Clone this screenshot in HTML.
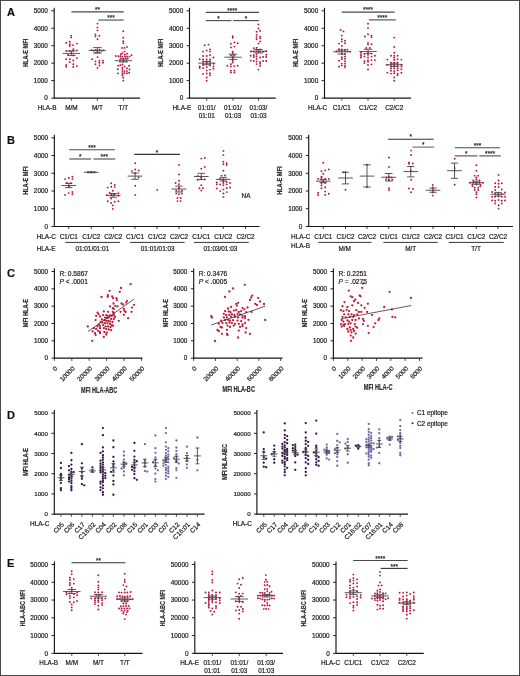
<!DOCTYPE html>
<html><head><meta charset="utf-8"><style>
html,body{margin:0;padding:0;background:#fff;}
svg{display:block;font-family:"Liberation Sans", sans-serif;filter:blur(0.25px);}
text{stroke:#1a1a1a;stroke-width:0.2px;}
</style></head><body>
<svg width="520" height="676" viewBox="0 0 520 676" xmlns="http://www.w3.org/2000/svg">
<rect x="0.5" y="0.5" width="519" height="675" fill="none" stroke="#4a4a4a" stroke-width="1"/>
<text x="6.9" y="15.9" font-size="11" font-weight="bold" fill="#111" stroke="#111" stroke-width="0.2">A</text>
<text x="6.9" y="143.5" font-size="11" font-weight="bold" fill="#111" stroke="#111" stroke-width="0.2">B</text>
<text x="6.9" y="277.2" font-size="11" font-weight="bold" fill="#111" stroke="#111" stroke-width="0.2">C</text>
<text x="6.9" y="418.9" font-size="11" font-weight="bold" fill="#111" stroke="#111" stroke-width="0.2">D</text>
<text x="6.9" y="566.5" font-size="11" font-weight="bold" fill="#111" stroke="#111" stroke-width="0.2">E</text>
<line x1="54.2" y1="7.8" x2="54.2" y2="98.6" stroke="#161616" stroke-width="1.15"/>
<line x1="53.7" y1="98.1" x2="140" y2="98.1" stroke="#161616" stroke-width="1.15"/>
<line x1="51.3" y1="98.1" x2="54.2" y2="98.1" stroke="#222" stroke-width="1.0"/>
<text x="47.9" y="100.4" font-size="6.4" text-anchor="end" fill="#1a1a1a">0</text>
<line x1="51.3" y1="80.64" x2="54.2" y2="80.64" stroke="#222" stroke-width="1.0"/>
<text x="47.9" y="82.94" font-size="6.4" text-anchor="end" fill="#1a1a1a">1000</text>
<line x1="51.3" y1="63.18" x2="54.2" y2="63.18" stroke="#222" stroke-width="1.0"/>
<text x="47.9" y="65.48" font-size="6.4" text-anchor="end" fill="#1a1a1a">2000</text>
<line x1="51.3" y1="45.72" x2="54.2" y2="45.72" stroke="#222" stroke-width="1.0"/>
<text x="47.9" y="48.02" font-size="6.4" text-anchor="end" fill="#1a1a1a">3000</text>
<line x1="51.3" y1="28.26" x2="54.2" y2="28.26" stroke="#222" stroke-width="1.0"/>
<text x="47.9" y="30.56" font-size="6.4" text-anchor="end" fill="#1a1a1a">4000</text>
<line x1="51.3" y1="10.8" x2="54.2" y2="10.8" stroke="#222" stroke-width="1.0"/>
<text x="47.9" y="13.1" font-size="6.4" text-anchor="end" fill="#1a1a1a">5000</text>
<line x1="71.4" y1="98.1" x2="71.4" y2="100.6" stroke="#2b2b2b" stroke-width="0.9"/>
<circle cx="71.2" cy="35.6" r="0.95" fill="#b8163c"/>
<circle cx="71.2" cy="37.4" r="0.95" fill="#b8163c"/>
<circle cx="66.2" cy="42.7" r="0.95" fill="#b8163c"/>
<circle cx="69.8" cy="41.8" r="0.95" fill="#b8163c"/>
<circle cx="69.8" cy="44.2" r="0.95" fill="#b8163c"/>
<circle cx="69.8" cy="46" r="0.95" fill="#b8163c"/>
<circle cx="73" cy="45.1" r="0.95" fill="#b8163c"/>
<circle cx="76.9" cy="43.6" r="0.95" fill="#b8163c"/>
<circle cx="73.3" cy="49.2" r="0.95" fill="#b8163c"/>
<circle cx="66.2" cy="51" r="0.95" fill="#b8163c"/>
<circle cx="69.8" cy="51" r="0.95" fill="#b8163c"/>
<circle cx="73.3" cy="50.7" r="0.95" fill="#b8163c"/>
<circle cx="76.9" cy="50.4" r="0.95" fill="#b8163c"/>
<circle cx="71.5" cy="53.2" r="0.95" fill="#b8163c"/>
<circle cx="73.3" cy="55.4" r="0.95" fill="#b8163c"/>
<circle cx="68" cy="54.9" r="0.95" fill="#b8163c"/>
<circle cx="76.9" cy="58.1" r="0.95" fill="#b8163c"/>
<circle cx="66.2" cy="59.3" r="0.95" fill="#b8163c"/>
<circle cx="69.8" cy="59.3" r="0.95" fill="#b8163c"/>
<circle cx="69.8" cy="62.2" r="0.95" fill="#b8163c"/>
<circle cx="73.3" cy="60.5" r="0.95" fill="#b8163c"/>
<circle cx="66.2" cy="64.9" r="0.95" fill="#b8163c"/>
<circle cx="66.2" cy="66.7" r="0.95" fill="#b8163c"/>
<circle cx="73.3" cy="64.3" r="0.95" fill="#b8163c"/>
<circle cx="73.3" cy="67" r="0.95" fill="#b8163c"/>
<circle cx="76.9" cy="66.1" r="0.95" fill="#b8163c"/>
<line x1="62.7" y1="53.4" x2="80.1" y2="53.4" stroke="#4a4a4a" stroke-width="0.9"/>
<line x1="71.4" y1="51" x2="71.4" y2="55.4" stroke="#4a4a4a" stroke-width="0.9"/>
<line x1="67.1" y1="51" x2="75.7" y2="51" stroke="#4a4a4a" stroke-width="0.9"/>
<line x1="67.1" y1="55.4" x2="75.7" y2="55.4" stroke="#4a4a4a" stroke-width="0.9"/>
<line x1="97.4" y1="98.1" x2="97.4" y2="100.6" stroke="#2b2b2b" stroke-width="0.9"/>
<circle cx="97.5" cy="23.6" r="0.95" fill="#b8163c"/>
<circle cx="97.5" cy="27.6" r="0.95" fill="#b8163c"/>
<circle cx="97.5" cy="30.4" r="0.95" fill="#b8163c"/>
<circle cx="95.4" cy="34.5" r="0.95" fill="#b8163c"/>
<circle cx="95.4" cy="36.4" r="0.95" fill="#b8163c"/>
<circle cx="99.4" cy="35.8" r="0.95" fill="#b8163c"/>
<circle cx="97.5" cy="39.2" r="0.95" fill="#b8163c"/>
<circle cx="91.8" cy="50.2" r="0.95" fill="#b8163c"/>
<circle cx="93.8" cy="50.8" r="0.95" fill="#b8163c"/>
<circle cx="95.8" cy="50" r="0.95" fill="#b8163c"/>
<circle cx="99.4" cy="49.7" r="0.95" fill="#b8163c"/>
<circle cx="101.4" cy="50.8" r="0.95" fill="#b8163c"/>
<circle cx="103.4" cy="50.4" r="0.95" fill="#b8163c"/>
<circle cx="97.4" cy="52" r="0.95" fill="#b8163c"/>
<circle cx="99.4" cy="52.4" r="0.95" fill="#b8163c"/>
<circle cx="95.8" cy="52.6" r="0.95" fill="#b8163c"/>
<circle cx="97.5" cy="57.1" r="0.95" fill="#b8163c"/>
<circle cx="92.2" cy="59.3" r="0.95" fill="#b8163c"/>
<circle cx="95.5" cy="61.4" r="0.95" fill="#b8163c"/>
<circle cx="99.4" cy="60.7" r="0.95" fill="#b8163c"/>
<circle cx="103" cy="60.7" r="0.95" fill="#b8163c"/>
<circle cx="99.4" cy="62.7" r="0.95" fill="#b8163c"/>
<circle cx="103" cy="62.7" r="0.95" fill="#b8163c"/>
<circle cx="95.5" cy="64.3" r="0.95" fill="#b8163c"/>
<circle cx="99.4" cy="65.5" r="0.95" fill="#b8163c"/>
<circle cx="97.5" cy="67.9" r="0.95" fill="#b8163c"/>
<line x1="88.7" y1="50.35" x2="106.1" y2="50.35" stroke="#4a4a4a" stroke-width="0.9"/>
<line x1="97.4" y1="47.6" x2="97.4" y2="53.1" stroke="#4a4a4a" stroke-width="0.9"/>
<line x1="93.1" y1="47.6" x2="101.7" y2="47.6" stroke="#4a4a4a" stroke-width="0.9"/>
<line x1="93.1" y1="53.1" x2="101.7" y2="53.1" stroke="#4a4a4a" stroke-width="0.9"/>
<line x1="123.4" y1="98.1" x2="123.4" y2="100.6" stroke="#2b2b2b" stroke-width="0.9"/>
<circle cx="123.3" cy="31.3" r="0.95" fill="#b8163c"/>
<circle cx="123.3" cy="37.8" r="0.95" fill="#b8163c"/>
<circle cx="123.3" cy="41.3" r="0.95" fill="#b8163c"/>
<circle cx="123.3" cy="43.3" r="0.95" fill="#b8163c"/>
<circle cx="122" cy="47.9" r="0.95" fill="#b8163c"/>
<circle cx="124.5" cy="47.9" r="0.95" fill="#b8163c"/>
<circle cx="127" cy="46.9" r="0.95" fill="#b8163c"/>
<circle cx="124.5" cy="51.6" r="0.95" fill="#b8163c"/>
<circle cx="120.8" cy="54.3" r="0.95" fill="#b8163c"/>
<circle cx="122.4" cy="53.3" r="0.95" fill="#b8163c"/>
<circle cx="124.9" cy="54.7" r="0.95" fill="#b8163c"/>
<circle cx="127" cy="53.7" r="0.95" fill="#b8163c"/>
<circle cx="115.8" cy="56" r="0.95" fill="#b8163c"/>
<circle cx="118.3" cy="56.2" r="0.95" fill="#b8163c"/>
<circle cx="120.4" cy="56.2" r="0.95" fill="#b8163c"/>
<circle cx="122.4" cy="56.6" r="0.95" fill="#b8163c"/>
<circle cx="124.9" cy="56.6" r="0.95" fill="#b8163c"/>
<circle cx="127" cy="56.6" r="0.95" fill="#b8163c"/>
<circle cx="129.5" cy="56.6" r="0.95" fill="#b8163c"/>
<circle cx="131.5" cy="55.3" r="0.95" fill="#b8163c"/>
<circle cx="120.8" cy="58.4" r="0.95" fill="#b8163c"/>
<circle cx="123.3" cy="58.7" r="0.95" fill="#b8163c"/>
<circle cx="125.7" cy="58.4" r="0.95" fill="#b8163c"/>
<circle cx="127.8" cy="58.4" r="0.95" fill="#b8163c"/>
<circle cx="120" cy="61.1" r="0.95" fill="#b8163c"/>
<circle cx="123.3" cy="61.4" r="0.95" fill="#b8163c"/>
<circle cx="126.5" cy="61.1" r="0.95" fill="#b8163c"/>
<circle cx="118.3" cy="65.7" r="0.95" fill="#b8163c"/>
<circle cx="120.4" cy="65.3" r="0.95" fill="#b8163c"/>
<circle cx="122.4" cy="64.5" r="0.95" fill="#b8163c"/>
<circle cx="124.5" cy="66.5" r="0.95" fill="#b8163c"/>
<circle cx="129.1" cy="65.7" r="0.95" fill="#b8163c"/>
<circle cx="117.9" cy="69.3" r="0.95" fill="#b8163c"/>
<circle cx="122.4" cy="67.8" r="0.95" fill="#b8163c"/>
<circle cx="122.4" cy="69.8" r="0.95" fill="#b8163c"/>
<circle cx="127" cy="68.2" r="0.95" fill="#b8163c"/>
<circle cx="129.5" cy="69.4" r="0.95" fill="#b8163c"/>
<circle cx="124.5" cy="71.1" r="0.95" fill="#b8163c"/>
<circle cx="127" cy="71.1" r="0.95" fill="#b8163c"/>
<circle cx="117.9" cy="73.4" r="0.95" fill="#b8163c"/>
<circle cx="122.4" cy="71.9" r="0.95" fill="#b8163c"/>
<circle cx="122.4" cy="74" r="0.95" fill="#b8163c"/>
<circle cx="124.5" cy="73.2" r="0.95" fill="#b8163c"/>
<circle cx="127" cy="73.2" r="0.95" fill="#b8163c"/>
<circle cx="129.1" cy="72.7" r="0.95" fill="#b8163c"/>
<circle cx="122.4" cy="75.6" r="0.95" fill="#b8163c"/>
<circle cx="123.3" cy="77.7" r="0.95" fill="#b8163c"/>
<circle cx="123.3" cy="80.6" r="0.95" fill="#b8163c"/>
<line x1="114.7" y1="60.7" x2="132.1" y2="60.7" stroke="#4a4a4a" stroke-width="0.9"/>
<line x1="123.4" y1="59.1" x2="123.4" y2="62" stroke="#4a4a4a" stroke-width="0.9"/>
<line x1="119.1" y1="59.1" x2="127.7" y2="59.1" stroke="#4a4a4a" stroke-width="0.9"/>
<line x1="119.1" y1="62" x2="127.7" y2="62" stroke="#4a4a4a" stroke-width="0.9"/>
<text x="47.1" y="110.4" font-size="6.4" text-anchor="middle" fill="#1a1a1a">HLA-B</text>
<text x="71.4" y="110.4" font-size="6.4" text-anchor="middle" fill="#1a1a1a">M/M</text>
<text x="97.4" y="110.4" font-size="6.4" text-anchor="middle" fill="#1a1a1a">M/T</text>
<text x="123.4" y="110.4" font-size="6.4" text-anchor="middle" fill="#1a1a1a">T/T</text>
<text transform="translate(27.74 52.9) rotate(-90)" x="0" y="0" font-size="7.6" text-anchor="middle" fill="#333" stroke="none" font-weight="bold" textLength="28.3" lengthAdjust="spacingAndGlyphs">HLA-E MFI</text>
<line x1="71.4" y1="11.9" x2="123.7" y2="11.9" stroke="#4a4a4a" stroke-width="1.1"/>
<text x="97.55" y="12.01" font-size="6.4" text-anchor="middle" fill="#2a2a2a">**</text>
<line x1="98.25" y1="20.05" x2="123.7" y2="20.05" stroke="#4a4a4a" stroke-width="1.1"/>
<text x="110.97" y="20.16" font-size="6.4" text-anchor="middle" fill="#2a2a2a">***</text>
<line x1="189.5" y1="7.8" x2="189.5" y2="98.6" stroke="#161616" stroke-width="1.15"/>
<line x1="189" y1="98.1" x2="275.75" y2="98.1" stroke="#161616" stroke-width="1.15"/>
<line x1="186.6" y1="98.1" x2="189.5" y2="98.1" stroke="#222" stroke-width="1.0"/>
<text x="183.2" y="100.4" font-size="6.4" text-anchor="end" fill="#1a1a1a">0</text>
<line x1="186.6" y1="80.64" x2="189.5" y2="80.64" stroke="#222" stroke-width="1.0"/>
<text x="183.2" y="82.94" font-size="6.4" text-anchor="end" fill="#1a1a1a">1000</text>
<line x1="186.6" y1="63.18" x2="189.5" y2="63.18" stroke="#222" stroke-width="1.0"/>
<text x="183.2" y="65.48" font-size="6.4" text-anchor="end" fill="#1a1a1a">2000</text>
<line x1="186.6" y1="45.72" x2="189.5" y2="45.72" stroke="#222" stroke-width="1.0"/>
<text x="183.2" y="48.02" font-size="6.4" text-anchor="end" fill="#1a1a1a">3000</text>
<line x1="186.6" y1="28.26" x2="189.5" y2="28.26" stroke="#222" stroke-width="1.0"/>
<text x="183.2" y="30.56" font-size="6.4" text-anchor="end" fill="#1a1a1a">4000</text>
<line x1="186.6" y1="10.8" x2="189.5" y2="10.8" stroke="#222" stroke-width="1.0"/>
<text x="183.2" y="13.1" font-size="6.4" text-anchor="end" fill="#1a1a1a">5000</text>
<line x1="206.75" y1="98.1" x2="206.75" y2="100.6" stroke="#2b2b2b" stroke-width="0.9"/>
<circle cx="204.7" cy="45.2" r="0.95" fill="#b8163c"/>
<circle cx="208.5" cy="44.6" r="0.95" fill="#b8163c"/>
<circle cx="203.1" cy="51.6" r="0.95" fill="#b8163c"/>
<circle cx="206.7" cy="50.4" r="0.95" fill="#b8163c"/>
<circle cx="210" cy="49.4" r="0.95" fill="#b8163c"/>
<circle cx="210" cy="51.6" r="0.95" fill="#b8163c"/>
<circle cx="203.1" cy="56" r="0.95" fill="#b8163c"/>
<circle cx="206.7" cy="56" r="0.95" fill="#b8163c"/>
<circle cx="210" cy="55.3" r="0.95" fill="#b8163c"/>
<circle cx="213.5" cy="57.5" r="0.95" fill="#b8163c"/>
<circle cx="199.7" cy="59.2" r="0.95" fill="#b8163c"/>
<circle cx="203.1" cy="59.4" r="0.95" fill="#b8163c"/>
<circle cx="206.7" cy="59.5" r="0.95" fill="#b8163c"/>
<circle cx="210" cy="59.5" r="0.95" fill="#b8163c"/>
<circle cx="203.1" cy="61.5" r="0.95" fill="#b8163c"/>
<circle cx="206.7" cy="61.5" r="0.95" fill="#b8163c"/>
<circle cx="210" cy="61.5" r="0.95" fill="#b8163c"/>
<circle cx="203.1" cy="63.6" r="0.95" fill="#b8163c"/>
<circle cx="206.7" cy="63.8" r="0.95" fill="#b8163c"/>
<circle cx="210" cy="63.6" r="0.95" fill="#b8163c"/>
<circle cx="213.5" cy="63.8" r="0.95" fill="#b8163c"/>
<circle cx="203.1" cy="65.1" r="0.95" fill="#b8163c"/>
<circle cx="210" cy="65.4" r="0.95" fill="#b8163c"/>
<circle cx="213.5" cy="66.4" r="0.95" fill="#b8163c"/>
<circle cx="199.7" cy="66.4" r="0.95" fill="#b8163c"/>
<circle cx="199.7" cy="68" r="0.95" fill="#b8163c"/>
<circle cx="203.1" cy="68.1" r="0.95" fill="#b8163c"/>
<circle cx="206.7" cy="67" r="0.95" fill="#b8163c"/>
<circle cx="213.5" cy="68.7" r="0.95" fill="#b8163c"/>
<circle cx="210" cy="69.6" r="0.95" fill="#b8163c"/>
<circle cx="206.7" cy="70.6" r="0.95" fill="#b8163c"/>
<circle cx="210" cy="73.2" r="0.95" fill="#b8163c"/>
<circle cx="203.1" cy="73.9" r="0.95" fill="#b8163c"/>
<circle cx="206.7" cy="73.5" r="0.95" fill="#b8163c"/>
<circle cx="210" cy="75.2" r="0.95" fill="#b8163c"/>
<circle cx="206.7" cy="77.5" r="0.95" fill="#b8163c"/>
<circle cx="206.7" cy="80.7" r="0.95" fill="#b8163c"/>
<line x1="198.05" y1="63.1" x2="215.45" y2="63.1" stroke="#4a4a4a" stroke-width="0.9"/>
<line x1="206.75" y1="61.5" x2="206.75" y2="64.7" stroke="#4a4a4a" stroke-width="0.9"/>
<line x1="202.45" y1="61.5" x2="211.05" y2="61.5" stroke="#4a4a4a" stroke-width="0.9"/>
<line x1="202.45" y1="64.7" x2="211.05" y2="64.7" stroke="#4a4a4a" stroke-width="0.9"/>
<line x1="233" y1="98.1" x2="233" y2="100.6" stroke="#2b2b2b" stroke-width="0.9"/>
<circle cx="232.7" cy="36.3" r="0.95" fill="#b8163c"/>
<circle cx="232.7" cy="37.8" r="0.95" fill="#b8163c"/>
<circle cx="230.9" cy="43.7" r="0.95" fill="#b8163c"/>
<circle cx="234.4" cy="42.4" r="0.95" fill="#b8163c"/>
<circle cx="237.7" cy="43.3" r="0.95" fill="#b8163c"/>
<circle cx="230.9" cy="47.4" r="0.95" fill="#b8163c"/>
<circle cx="234.4" cy="46.6" r="0.95" fill="#b8163c"/>
<circle cx="232.7" cy="51.8" r="0.95" fill="#b8163c"/>
<circle cx="232.7" cy="53.3" r="0.95" fill="#b8163c"/>
<circle cx="230.9" cy="55.5" r="0.95" fill="#b8163c"/>
<circle cx="234.4" cy="55.5" r="0.95" fill="#b8163c"/>
<circle cx="232.7" cy="57.3" r="0.95" fill="#b8163c"/>
<circle cx="232.7" cy="59.2" r="0.95" fill="#b8163c"/>
<circle cx="232.7" cy="60.7" r="0.95" fill="#b8163c"/>
<circle cx="232.7" cy="62.5" r="0.95" fill="#b8163c"/>
<circle cx="230.9" cy="64.3" r="0.95" fill="#b8163c"/>
<circle cx="227.4" cy="65.8" r="0.95" fill="#b8163c"/>
<circle cx="230.9" cy="66.6" r="0.95" fill="#b8163c"/>
<circle cx="234.4" cy="66.3" r="0.95" fill="#b8163c"/>
<circle cx="237.7" cy="65.8" r="0.95" fill="#b8163c"/>
<circle cx="230.9" cy="70.6" r="0.95" fill="#b8163c"/>
<circle cx="230.9" cy="72.5" r="0.95" fill="#b8163c"/>
<circle cx="234.4" cy="70.6" r="0.95" fill="#b8163c"/>
<circle cx="234.4" cy="72.5" r="0.95" fill="#b8163c"/>
<line x1="224.3" y1="57.2" x2="241.7" y2="57.2" stroke="#4a4a4a" stroke-width="0.9"/>
<line x1="233" y1="54.2" x2="233" y2="59.4" stroke="#4a4a4a" stroke-width="0.9"/>
<line x1="228.7" y1="54.2" x2="237.3" y2="54.2" stroke="#4a4a4a" stroke-width="0.9"/>
<line x1="228.7" y1="59.4" x2="237.3" y2="59.4" stroke="#4a4a4a" stroke-width="0.9"/>
<line x1="258.5" y1="98.1" x2="258.5" y2="100.6" stroke="#2b2b2b" stroke-width="0.9"/>
<circle cx="258.4" cy="24.4" r="0.95" fill="#b8163c"/>
<circle cx="258.4" cy="28.5" r="0.95" fill="#b8163c"/>
<circle cx="256.6" cy="31.8" r="0.95" fill="#b8163c"/>
<circle cx="260.1" cy="30.9" r="0.95" fill="#b8163c"/>
<circle cx="256.6" cy="34.9" r="0.95" fill="#b8163c"/>
<circle cx="256.6" cy="37.1" r="0.95" fill="#b8163c"/>
<circle cx="260.1" cy="36.6" r="0.95" fill="#b8163c"/>
<circle cx="260.1" cy="38.2" r="0.95" fill="#b8163c"/>
<circle cx="256.6" cy="39.3" r="0.95" fill="#b8163c"/>
<circle cx="260.1" cy="41.5" r="0.95" fill="#b8163c"/>
<circle cx="258.4" cy="43.6" r="0.95" fill="#b8163c"/>
<circle cx="253.8" cy="48.2" r="0.95" fill="#b8163c"/>
<circle cx="256.6" cy="47.7" r="0.95" fill="#b8163c"/>
<circle cx="256.6" cy="49.5" r="0.95" fill="#b8163c"/>
<circle cx="260.1" cy="49.5" r="0.95" fill="#b8163c"/>
<circle cx="251.1" cy="51.5" r="0.95" fill="#b8163c"/>
<circle cx="253.8" cy="51.5" r="0.95" fill="#b8163c"/>
<circle cx="256.6" cy="51.5" r="0.95" fill="#b8163c"/>
<circle cx="260.1" cy="51.7" r="0.95" fill="#b8163c"/>
<circle cx="263.1" cy="51.7" r="0.95" fill="#b8163c"/>
<circle cx="266.2" cy="51.3" r="0.95" fill="#b8163c"/>
<circle cx="256.6" cy="53.9" r="0.95" fill="#b8163c"/>
<circle cx="250.7" cy="55.7" r="0.95" fill="#b8163c"/>
<circle cx="253.8" cy="55.3" r="0.95" fill="#b8163c"/>
<circle cx="253.8" cy="57" r="0.95" fill="#b8163c"/>
<circle cx="256.6" cy="56.2" r="0.95" fill="#b8163c"/>
<circle cx="260.1" cy="57.5" r="0.95" fill="#b8163c"/>
<circle cx="263.1" cy="57" r="0.95" fill="#b8163c"/>
<circle cx="266.2" cy="54.8" r="0.95" fill="#b8163c"/>
<circle cx="266.2" cy="57" r="0.95" fill="#b8163c"/>
<circle cx="256.6" cy="58.8" r="0.95" fill="#b8163c"/>
<circle cx="250.7" cy="60.6" r="0.95" fill="#b8163c"/>
<circle cx="253.8" cy="61" r="0.95" fill="#b8163c"/>
<circle cx="256.6" cy="61.5" r="0.95" fill="#b8163c"/>
<circle cx="260.1" cy="61.9" r="0.95" fill="#b8163c"/>
<circle cx="263.1" cy="61" r="0.95" fill="#b8163c"/>
<circle cx="266.2" cy="61" r="0.95" fill="#b8163c"/>
<circle cx="256.6" cy="64.1" r="0.95" fill="#b8163c"/>
<circle cx="260.1" cy="63.7" r="0.95" fill="#b8163c"/>
<circle cx="260.1" cy="65.9" r="0.95" fill="#b8163c"/>
<circle cx="258.4" cy="69.6" r="0.95" fill="#b8163c"/>
<line x1="249.8" y1="51.3" x2="267.2" y2="51.3" stroke="#4a4a4a" stroke-width="0.9"/>
<line x1="258.5" y1="49.5" x2="258.5" y2="53" stroke="#4a4a4a" stroke-width="0.9"/>
<line x1="254.2" y1="49.5" x2="262.8" y2="49.5" stroke="#4a4a4a" stroke-width="0.9"/>
<line x1="254.2" y1="53" x2="262.8" y2="53" stroke="#4a4a4a" stroke-width="0.9"/>
<text x="181.9" y="110.4" font-size="6.4" text-anchor="middle" fill="#1a1a1a">HLA-E</text>
<text x="206.75" y="110.4" font-size="6.4" text-anchor="middle" fill="#1a1a1a">01:01/</text>
<text x="206.75" y="117.6" font-size="6.4" text-anchor="middle" fill="#1a1a1a">01:01</text>
<text x="233" y="110.4" font-size="6.4" text-anchor="middle" fill="#1a1a1a">01:01/</text>
<text x="233" y="117.6" font-size="6.4" text-anchor="middle" fill="#1a1a1a">01:03</text>
<text x="258.5" y="110.4" font-size="6.4" text-anchor="middle" fill="#1a1a1a">01:03/</text>
<text x="258.5" y="117.6" font-size="6.4" text-anchor="middle" fill="#1a1a1a">01:03</text>
<text transform="translate(162.94 52.9) rotate(-90)" x="0" y="0" font-size="7.6" text-anchor="middle" fill="#333" stroke="none" font-weight="bold" textLength="28.3" lengthAdjust="spacingAndGlyphs">HLA-E MFI</text>
<line x1="205.7" y1="12.4" x2="259" y2="12.4" stroke="#4a4a4a" stroke-width="1.1"/>
<text x="232.35" y="12.51" font-size="6.4" text-anchor="middle" fill="#2a2a2a">****</text>
<line x1="205.7" y1="20.6" x2="231.5" y2="20.6" stroke="#4a4a4a" stroke-width="1.1"/>
<text x="218.6" y="20.71" font-size="6.4" text-anchor="middle" fill="#2a2a2a">*</text>
<line x1="233.2" y1="20.6" x2="259" y2="20.6" stroke="#4a4a4a" stroke-width="1.1"/>
<text x="246.1" y="20.71" font-size="6.4" text-anchor="middle" fill="#2a2a2a">*</text>
<line x1="324.5" y1="7.8" x2="324.5" y2="98.6" stroke="#161616" stroke-width="1.15"/>
<line x1="324" y1="98.1" x2="411" y2="98.1" stroke="#161616" stroke-width="1.15"/>
<line x1="321.6" y1="98.1" x2="324.5" y2="98.1" stroke="#222" stroke-width="1.0"/>
<text x="318.2" y="100.4" font-size="6.4" text-anchor="end" fill="#1a1a1a">0</text>
<line x1="321.6" y1="80.64" x2="324.5" y2="80.64" stroke="#222" stroke-width="1.0"/>
<text x="318.2" y="82.94" font-size="6.4" text-anchor="end" fill="#1a1a1a">1000</text>
<line x1="321.6" y1="63.18" x2="324.5" y2="63.18" stroke="#222" stroke-width="1.0"/>
<text x="318.2" y="65.48" font-size="6.4" text-anchor="end" fill="#1a1a1a">2000</text>
<line x1="321.6" y1="45.72" x2="324.5" y2="45.72" stroke="#222" stroke-width="1.0"/>
<text x="318.2" y="48.02" font-size="6.4" text-anchor="end" fill="#1a1a1a">3000</text>
<line x1="321.6" y1="28.26" x2="324.5" y2="28.26" stroke="#222" stroke-width="1.0"/>
<text x="318.2" y="30.56" font-size="6.4" text-anchor="end" fill="#1a1a1a">4000</text>
<line x1="321.6" y1="10.8" x2="324.5" y2="10.8" stroke="#222" stroke-width="1.0"/>
<text x="318.2" y="13.1" font-size="6.4" text-anchor="end" fill="#1a1a1a">5000</text>
<line x1="341.8" y1="98.1" x2="341.8" y2="100.6" stroke="#2b2b2b" stroke-width="0.9"/>
<circle cx="340.6" cy="30" r="0.95" fill="#b8163c"/>
<circle cx="343.4" cy="31.4" r="0.95" fill="#b8163c"/>
<circle cx="341.8" cy="35.6" r="0.95" fill="#b8163c"/>
<circle cx="341.8" cy="39.2" r="0.95" fill="#b8163c"/>
<circle cx="341.8" cy="41.6" r="0.95" fill="#b8163c"/>
<circle cx="345" cy="40.8" r="0.95" fill="#b8163c"/>
<circle cx="345" cy="43.2" r="0.95" fill="#b8163c"/>
<circle cx="339" cy="43.6" r="0.95" fill="#b8163c"/>
<circle cx="341.8" cy="46" r="0.95" fill="#b8163c"/>
<circle cx="339" cy="49.2" r="0.95" fill="#b8163c"/>
<circle cx="341.8" cy="49.4" r="0.95" fill="#b8163c"/>
<circle cx="345" cy="49.6" r="0.95" fill="#b8163c"/>
<circle cx="347.4" cy="49.6" r="0.95" fill="#b8163c"/>
<circle cx="336.5" cy="51.2" r="0.95" fill="#b8163c"/>
<circle cx="339" cy="51.2" r="0.95" fill="#b8163c"/>
<circle cx="341.8" cy="51.3" r="0.95" fill="#b8163c"/>
<circle cx="345" cy="51.2" r="0.95" fill="#b8163c"/>
<circle cx="347.6" cy="51.4" r="0.95" fill="#b8163c"/>
<circle cx="350.2" cy="51.6" r="0.95" fill="#b8163c"/>
<circle cx="341.8" cy="54" r="0.95" fill="#b8163c"/>
<circle cx="345" cy="54" r="0.95" fill="#b8163c"/>
<circle cx="341.8" cy="57.2" r="0.95" fill="#b8163c"/>
<circle cx="345" cy="56.4" r="0.95" fill="#b8163c"/>
<circle cx="341.8" cy="59.2" r="0.95" fill="#b8163c"/>
<circle cx="345" cy="58.8" r="0.95" fill="#b8163c"/>
<circle cx="345" cy="61.2" r="0.95" fill="#b8163c"/>
<circle cx="339" cy="60.8" r="0.95" fill="#b8163c"/>
<circle cx="341.8" cy="63.6" r="0.95" fill="#b8163c"/>
<circle cx="341.8" cy="65.6" r="0.95" fill="#b8163c"/>
<circle cx="345" cy="63.6" r="0.95" fill="#b8163c"/>
<circle cx="345" cy="65.6" r="0.95" fill="#b8163c"/>
<circle cx="345" cy="67.2" r="0.95" fill="#b8163c"/>
<circle cx="339" cy="66.8" r="0.95" fill="#b8163c"/>
<line x1="333.1" y1="51.8" x2="350.5" y2="51.8" stroke="#4a4a4a" stroke-width="0.9"/>
<line x1="341.8" y1="50" x2="341.8" y2="54" stroke="#4a4a4a" stroke-width="0.9"/>
<line x1="337.5" y1="50" x2="346.1" y2="50" stroke="#4a4a4a" stroke-width="0.9"/>
<line x1="337.5" y1="54" x2="346.1" y2="54" stroke="#4a4a4a" stroke-width="0.9"/>
<line x1="368" y1="98.1" x2="368" y2="100.6" stroke="#2b2b2b" stroke-width="0.9"/>
<circle cx="368" cy="23.8" r="0.95" fill="#b8163c"/>
<circle cx="368" cy="27.9" r="0.95" fill="#b8163c"/>
<circle cx="368" cy="34.3" r="0.95" fill="#b8163c"/>
<circle cx="364.9" cy="36.5" r="0.95" fill="#b8163c"/>
<circle cx="371.5" cy="35.6" r="0.95" fill="#b8163c"/>
<circle cx="371.5" cy="37.3" r="0.95" fill="#b8163c"/>
<circle cx="368" cy="42.9" r="0.95" fill="#b8163c"/>
<circle cx="368" cy="44.6" r="0.95" fill="#b8163c"/>
<circle cx="371.5" cy="44.2" r="0.95" fill="#b8163c"/>
<circle cx="366.2" cy="48" r="0.95" fill="#b8163c"/>
<circle cx="369.8" cy="48" r="0.95" fill="#b8163c"/>
<circle cx="368" cy="51.9" r="0.95" fill="#b8163c"/>
<circle cx="361" cy="52.3" r="0.95" fill="#b8163c"/>
<circle cx="361" cy="54.1" r="0.95" fill="#b8163c"/>
<circle cx="361" cy="55.8" r="0.95" fill="#b8163c"/>
<circle cx="361" cy="57.5" r="0.95" fill="#b8163c"/>
<circle cx="364.4" cy="54.1" r="0.95" fill="#b8163c"/>
<circle cx="364.4" cy="56.6" r="0.95" fill="#b8163c"/>
<circle cx="368" cy="54.9" r="0.95" fill="#b8163c"/>
<circle cx="368" cy="57.5" r="0.95" fill="#b8163c"/>
<circle cx="368" cy="60.1" r="0.95" fill="#b8163c"/>
<circle cx="368" cy="61.8" r="0.95" fill="#b8163c"/>
<circle cx="371.5" cy="53.6" r="0.95" fill="#b8163c"/>
<circle cx="371.5" cy="56.6" r="0.95" fill="#b8163c"/>
<circle cx="371.5" cy="60.1" r="0.95" fill="#b8163c"/>
<circle cx="371.5" cy="64.4" r="0.95" fill="#b8163c"/>
<circle cx="374.9" cy="55.8" r="0.95" fill="#b8163c"/>
<circle cx="374.9" cy="60.1" r="0.95" fill="#b8163c"/>
<circle cx="364.4" cy="61.3" r="0.95" fill="#b8163c"/>
<circle cx="364.4" cy="63.1" r="0.95" fill="#b8163c"/>
<circle cx="368" cy="65" r="0.95" fill="#b8163c"/>
<circle cx="368" cy="69.5" r="0.95" fill="#b8163c"/>
<line x1="359.3" y1="51.5" x2="376.7" y2="51.5" stroke="#4a4a4a" stroke-width="0.9"/>
<line x1="368" y1="49.3" x2="368" y2="53.6" stroke="#4a4a4a" stroke-width="0.9"/>
<line x1="363.7" y1="49.3" x2="372.3" y2="49.3" stroke="#4a4a4a" stroke-width="0.9"/>
<line x1="363.7" y1="53.6" x2="372.3" y2="53.6" stroke="#4a4a4a" stroke-width="0.9"/>
<line x1="394.2" y1="98.1" x2="394.2" y2="100.6" stroke="#2b2b2b" stroke-width="0.9"/>
<circle cx="394.2" cy="37.6" r="0.95" fill="#b8163c"/>
<circle cx="394.2" cy="47" r="0.95" fill="#b8163c"/>
<circle cx="394.2" cy="52.8" r="0.95" fill="#b8163c"/>
<circle cx="391" cy="55.8" r="0.95" fill="#b8163c"/>
<circle cx="394.2" cy="55.8" r="0.95" fill="#b8163c"/>
<circle cx="397.6" cy="55.8" r="0.95" fill="#b8163c"/>
<circle cx="394.2" cy="57.8" r="0.95" fill="#b8163c"/>
<circle cx="387.4" cy="59.6" r="0.95" fill="#b8163c"/>
<circle cx="394.2" cy="60" r="0.95" fill="#b8163c"/>
<circle cx="397.6" cy="59.2" r="0.95" fill="#b8163c"/>
<circle cx="401.4" cy="59.6" r="0.95" fill="#b8163c"/>
<circle cx="391" cy="62.8" r="0.95" fill="#b8163c"/>
<circle cx="394.2" cy="62.8" r="0.95" fill="#b8163c"/>
<circle cx="397.6" cy="62.8" r="0.95" fill="#b8163c"/>
<circle cx="387.4" cy="64.8" r="0.95" fill="#b8163c"/>
<circle cx="391" cy="64.8" r="0.95" fill="#b8163c"/>
<circle cx="394.2" cy="64.8" r="0.95" fill="#b8163c"/>
<circle cx="397.6" cy="64.8" r="0.95" fill="#b8163c"/>
<circle cx="401.4" cy="64.8" r="0.95" fill="#b8163c"/>
<circle cx="391" cy="66.6" r="0.95" fill="#b8163c"/>
<circle cx="394.2" cy="66.6" r="0.95" fill="#b8163c"/>
<circle cx="397.6" cy="66.4" r="0.95" fill="#b8163c"/>
<circle cx="401.4" cy="66.6" r="0.95" fill="#b8163c"/>
<circle cx="391" cy="68.4" r="0.95" fill="#b8163c"/>
<circle cx="394.2" cy="68.4" r="0.95" fill="#b8163c"/>
<circle cx="397.6" cy="68.4" r="0.95" fill="#b8163c"/>
<circle cx="401.4" cy="69.2" r="0.95" fill="#b8163c"/>
<circle cx="391" cy="70.8" r="0.95" fill="#b8163c"/>
<circle cx="394.2" cy="71.2" r="0.95" fill="#b8163c"/>
<circle cx="397.6" cy="70.4" r="0.95" fill="#b8163c"/>
<circle cx="401.4" cy="72.8" r="0.95" fill="#b8163c"/>
<circle cx="387.4" cy="72.8" r="0.95" fill="#b8163c"/>
<circle cx="391" cy="73.6" r="0.95" fill="#b8163c"/>
<circle cx="394.2" cy="73.2" r="0.95" fill="#b8163c"/>
<circle cx="397.6" cy="73.6" r="0.95" fill="#b8163c"/>
<circle cx="397.6" cy="75.2" r="0.95" fill="#b8163c"/>
<circle cx="394.2" cy="77.4" r="0.95" fill="#b8163c"/>
<circle cx="394.2" cy="80.8" r="0.95" fill="#b8163c"/>
<line x1="385.5" y1="64.8" x2="402.9" y2="64.8" stroke="#4a4a4a" stroke-width="0.9"/>
<line x1="394.2" y1="63.2" x2="394.2" y2="66.4" stroke="#4a4a4a" stroke-width="0.9"/>
<line x1="389.9" y1="63.2" x2="398.5" y2="63.2" stroke="#4a4a4a" stroke-width="0.9"/>
<line x1="389.9" y1="66.4" x2="398.5" y2="66.4" stroke="#4a4a4a" stroke-width="0.9"/>
<text x="317.6" y="110.4" font-size="6.4" text-anchor="middle" fill="#1a1a1a">HLA-C</text>
<text x="341.8" y="110.4" font-size="6.4" text-anchor="middle" fill="#1a1a1a">C1/C1</text>
<text x="368" y="110.4" font-size="6.4" text-anchor="middle" fill="#1a1a1a">C1/C2</text>
<text x="394.2" y="110.4" font-size="6.4" text-anchor="middle" fill="#1a1a1a">C2/C2</text>
<text transform="translate(297.94 52.9) rotate(-90)" x="0" y="0" font-size="7.6" text-anchor="middle" fill="#333" stroke="none" font-weight="bold" textLength="28.3" lengthAdjust="spacingAndGlyphs">HLA-E MFI</text>
<line x1="341.7" y1="12.1" x2="394.5" y2="12.1" stroke="#4a4a4a" stroke-width="1.1"/>
<text x="368.1" y="12.21" font-size="6.4" text-anchor="middle" fill="#2a2a2a">****</text>
<line x1="368.9" y1="19.9" x2="395.8" y2="19.9" stroke="#4a4a4a" stroke-width="1.1"/>
<text x="382.35" y="20.01" font-size="6.4" text-anchor="middle" fill="#2a2a2a">****</text>
<line x1="54.35" y1="134.8" x2="54.35" y2="227" stroke="#161616" stroke-width="1.15"/>
<line x1="53.85" y1="226.5" x2="259.5" y2="226.5" stroke="#161616" stroke-width="1.15"/>
<line x1="51.45" y1="226.5" x2="54.35" y2="226.5" stroke="#222" stroke-width="1.0"/>
<text x="48.05" y="228.8" font-size="6.4" text-anchor="end" fill="#1a1a1a">0</text>
<line x1="51.45" y1="208.76" x2="54.35" y2="208.76" stroke="#222" stroke-width="1.0"/>
<text x="48.05" y="211.06" font-size="6.4" text-anchor="end" fill="#1a1a1a">1000</text>
<line x1="51.45" y1="191.02" x2="54.35" y2="191.02" stroke="#222" stroke-width="1.0"/>
<text x="48.05" y="193.32" font-size="6.4" text-anchor="end" fill="#1a1a1a">2000</text>
<line x1="51.45" y1="173.28" x2="54.35" y2="173.28" stroke="#222" stroke-width="1.0"/>
<text x="48.05" y="175.58" font-size="6.4" text-anchor="end" fill="#1a1a1a">3000</text>
<line x1="51.45" y1="155.54" x2="54.35" y2="155.54" stroke="#222" stroke-width="1.0"/>
<text x="48.05" y="157.84" font-size="6.4" text-anchor="end" fill="#1a1a1a">4000</text>
<line x1="51.45" y1="137.8" x2="54.35" y2="137.8" stroke="#222" stroke-width="1.0"/>
<text x="48.05" y="140.1" font-size="6.4" text-anchor="end" fill="#1a1a1a">5000</text>
<line x1="68.75" y1="226.5" x2="68.75" y2="229" stroke="#2b2b2b" stroke-width="0.9"/>
<circle cx="65.1" cy="179.1" r="0.95" fill="#b8163c"/>
<circle cx="68.9" cy="178" r="0.95" fill="#b8163c"/>
<circle cx="72.4" cy="176.7" r="0.95" fill="#b8163c"/>
<circle cx="72.4" cy="179.1" r="0.95" fill="#b8163c"/>
<circle cx="66.9" cy="182.9" r="0.95" fill="#b8163c"/>
<circle cx="70.9" cy="183.3" r="0.95" fill="#b8163c"/>
<circle cx="68.9" cy="186.4" r="0.95" fill="#b8163c"/>
<circle cx="68.7" cy="193.1" r="0.95" fill="#b8163c"/>
<circle cx="72.4" cy="192" r="0.95" fill="#b8163c"/>
<circle cx="72.4" cy="194.2" r="0.95" fill="#b8163c"/>
<circle cx="65.1" cy="194.9" r="0.95" fill="#b8163c"/>
<line x1="61.4" y1="185.5" x2="76.1" y2="185.5" stroke="#444" stroke-width="0.9"/>
<line x1="68.75" y1="183.3" x2="68.75" y2="187.6" stroke="#444" stroke-width="0.9"/>
<line x1="65.05" y1="183.3" x2="72.45" y2="183.3" stroke="#444" stroke-width="0.9"/>
<line x1="65.05" y1="187.6" x2="72.45" y2="187.6" stroke="#444" stroke-width="0.9"/>
<text x="68.75" y="238.5" font-size="6.4" text-anchor="middle" fill="#1a1a1a">C1/C1</text>
<line x1="91.25" y1="226.5" x2="91.25" y2="229" stroke="#2b2b2b" stroke-width="0.9"/>
<circle cx="87.8" cy="172.3" r="0.95" fill="#b8163c"/>
<circle cx="91.3" cy="172.3" r="0.95" fill="#b8163c"/>
<circle cx="94.7" cy="172.3" r="0.95" fill="#b8163c"/>
<line x1="83.9" y1="172.3" x2="98.6" y2="172.3" stroke="#444" stroke-width="0.9"/>
<line x1="91.25" y1="171.9" x2="91.25" y2="172.7" stroke="#444" stroke-width="0.9"/>
<line x1="87.55" y1="171.9" x2="94.95" y2="171.9" stroke="#444" stroke-width="0.9"/>
<line x1="87.55" y1="172.7" x2="94.95" y2="172.7" stroke="#444" stroke-width="0.9"/>
<text x="91.25" y="238.5" font-size="6.4" text-anchor="middle" fill="#1a1a1a">C1/C2</text>
<line x1="113.25" y1="226.5" x2="113.25" y2="229" stroke="#2b2b2b" stroke-width="0.9"/>
<circle cx="111.2" cy="183.3" r="0.95" fill="#b8163c"/>
<circle cx="114.7" cy="184.9" r="0.95" fill="#b8163c"/>
<circle cx="114.7" cy="187.1" r="0.95" fill="#b8163c"/>
<circle cx="107.7" cy="187.6" r="0.95" fill="#b8163c"/>
<circle cx="111.2" cy="186.8" r="0.95" fill="#b8163c"/>
<circle cx="112.8" cy="190.8" r="0.95" fill="#b8163c"/>
<circle cx="118.4" cy="193.2" r="0.95" fill="#b8163c"/>
<circle cx="106.9" cy="195.3" r="0.95" fill="#b8163c"/>
<circle cx="118.4" cy="195.8" r="0.95" fill="#b8163c"/>
<circle cx="111.2" cy="195" r="0.95" fill="#b8163c"/>
<circle cx="114.4" cy="194.5" r="0.95" fill="#b8163c"/>
<circle cx="111.2" cy="198.5" r="0.95" fill="#b8163c"/>
<circle cx="107.7" cy="201.2" r="0.95" fill="#b8163c"/>
<circle cx="114.7" cy="201.7" r="0.95" fill="#b8163c"/>
<circle cx="118.4" cy="201.2" r="0.95" fill="#b8163c"/>
<circle cx="111.2" cy="203" r="0.95" fill="#b8163c"/>
<circle cx="112.8" cy="205.4" r="0.95" fill="#b8163c"/>
<circle cx="112.8" cy="208.9" r="0.95" fill="#b8163c"/>
<circle cx="109.6" cy="192.8" r="0.95" fill="#b8163c"/>
<line x1="105.9" y1="195.3" x2="120.6" y2="195.3" stroke="#444" stroke-width="0.9"/>
<line x1="113.25" y1="193.5" x2="113.25" y2="197.2" stroke="#444" stroke-width="0.9"/>
<line x1="109.55" y1="193.5" x2="116.95" y2="193.5" stroke="#444" stroke-width="0.9"/>
<line x1="109.55" y1="197.2" x2="116.95" y2="197.2" stroke="#444" stroke-width="0.9"/>
<text x="113.25" y="238.5" font-size="6.4" text-anchor="middle" fill="#1a1a1a">C2/C2</text>
<line x1="135" y1="226.5" x2="135" y2="229" stroke="#2b2b2b" stroke-width="0.9"/>
<circle cx="135.25" cy="163.25" r="0.95" fill="#b8163c"/>
<circle cx="135.25" cy="169.5" r="0.95" fill="#b8163c"/>
<circle cx="138.75" cy="170.5" r="0.95" fill="#b8163c"/>
<circle cx="131.9" cy="171.1" r="0.95" fill="#b8163c"/>
<circle cx="135.25" cy="173.25" r="0.95" fill="#b8163c"/>
<circle cx="135.25" cy="185.75" r="0.95" fill="#b8163c"/>
<circle cx="135.25" cy="194.9" r="0.95" fill="#b8163c"/>
<circle cx="138.6" cy="177.5" r="0.95" fill="#b8163c"/>
<line x1="127.65" y1="176.1" x2="142.35" y2="176.1" stroke="#444" stroke-width="0.9"/>
<line x1="135" y1="173" x2="135" y2="179.25" stroke="#444" stroke-width="0.9"/>
<line x1="131.3" y1="173" x2="138.7" y2="173" stroke="#444" stroke-width="0.9"/>
<line x1="131.3" y1="179.25" x2="138.7" y2="179.25" stroke="#444" stroke-width="0.9"/>
<text x="135" y="238.5" font-size="6.4" text-anchor="middle" fill="#1a1a1a">C1/C1</text>
<line x1="157" y1="226.5" x2="157" y2="229" stroke="#2b2b2b" stroke-width="0.9"/>
<circle cx="157.25" cy="189.9" r="0.95" fill="#b8163c"/>
<text x="157" y="238.5" font-size="6.4" text-anchor="middle" fill="#1a1a1a">C1/C2</text>
<line x1="179" y1="226.5" x2="179" y2="229" stroke="#2b2b2b" stroke-width="0.9"/>
<circle cx="179" cy="164.9" r="0.95" fill="#b8163c"/>
<circle cx="179" cy="174.5" r="0.95" fill="#b8163c"/>
<circle cx="179" cy="180.75" r="0.95" fill="#b8163c"/>
<circle cx="175.6" cy="183" r="0.95" fill="#b8163c"/>
<circle cx="179" cy="184.25" r="0.95" fill="#b8163c"/>
<circle cx="179" cy="188" r="0.95" fill="#b8163c"/>
<circle cx="176.25" cy="190.75" r="0.95" fill="#b8163c"/>
<circle cx="181.9" cy="190.75" r="0.95" fill="#b8163c"/>
<circle cx="176.25" cy="193.6" r="0.95" fill="#b8163c"/>
<circle cx="179" cy="194.25" r="0.95" fill="#b8163c"/>
<circle cx="181.9" cy="193.6" r="0.95" fill="#b8163c"/>
<circle cx="177.5" cy="198" r="0.95" fill="#b8163c"/>
<circle cx="180.6" cy="198" r="0.95" fill="#b8163c"/>
<circle cx="177.5" cy="201.1" r="0.95" fill="#b8163c"/>
<circle cx="180.6" cy="201.1" r="0.95" fill="#b8163c"/>
<line x1="171.65" y1="189" x2="186.35" y2="189" stroke="#444" stroke-width="0.9"/>
<line x1="179" y1="186.1" x2="179" y2="192" stroke="#444" stroke-width="0.9"/>
<line x1="175.3" y1="186.1" x2="182.7" y2="186.1" stroke="#444" stroke-width="0.9"/>
<line x1="175.3" y1="192" x2="182.7" y2="192" stroke="#444" stroke-width="0.9"/>
<text x="179" y="238.5" font-size="6.4" text-anchor="middle" fill="#1a1a1a">C2/C2</text>
<line x1="201.25" y1="226.5" x2="201.25" y2="229" stroke="#2b2b2b" stroke-width="0.9"/>
<circle cx="201.3" cy="158.6" r="0.95" fill="#b8163c"/>
<circle cx="204.8" cy="157.9" r="0.95" fill="#b8163c"/>
<circle cx="204.8" cy="166.9" r="0.95" fill="#b8163c"/>
<circle cx="201.3" cy="168.8" r="0.95" fill="#b8163c"/>
<circle cx="201.3" cy="177.2" r="0.95" fill="#b8163c"/>
<circle cx="197.6" cy="179.8" r="0.95" fill="#b8163c"/>
<circle cx="201.3" cy="179.1" r="0.95" fill="#b8163c"/>
<circle cx="204.8" cy="179.4" r="0.95" fill="#b8163c"/>
<circle cx="201.3" cy="185.2" r="0.95" fill="#b8163c"/>
<circle cx="199.5" cy="188.2" r="0.95" fill="#b8163c"/>
<circle cx="202.9" cy="188.2" r="0.95" fill="#b8163c"/>
<circle cx="201.3" cy="190.6" r="0.95" fill="#b8163c"/>
<circle cx="198" cy="176" r="0.95" fill="#b8163c"/>
<line x1="193.9" y1="176.5" x2="208.6" y2="176.5" stroke="#444" stroke-width="0.9"/>
<line x1="201.25" y1="173.3" x2="201.25" y2="179.6" stroke="#444" stroke-width="0.9"/>
<line x1="197.55" y1="173.3" x2="204.95" y2="173.3" stroke="#444" stroke-width="0.9"/>
<line x1="197.55" y1="179.6" x2="204.95" y2="179.6" stroke="#444" stroke-width="0.9"/>
<text x="201.25" y="238.5" font-size="6.4" text-anchor="middle" fill="#1a1a1a">C1/C1</text>
<line x1="223.25" y1="226.5" x2="223.25" y2="229" stroke="#2b2b2b" stroke-width="0.9"/>
<circle cx="223.4" cy="150.9" r="0.95" fill="#b8163c"/>
<circle cx="223.4" cy="155.1" r="0.95" fill="#b8163c"/>
<circle cx="223.4" cy="161.8" r="0.95" fill="#b8163c"/>
<circle cx="223.4" cy="164.2" r="0.95" fill="#b8163c"/>
<circle cx="226.7" cy="163.2" r="0.95" fill="#b8163c"/>
<circle cx="226.7" cy="165" r="0.95" fill="#b8163c"/>
<circle cx="223.4" cy="170.7" r="0.95" fill="#b8163c"/>
<circle cx="221.7" cy="175.7" r="0.95" fill="#b8163c"/>
<circle cx="225" cy="175.5" r="0.95" fill="#b8163c"/>
<circle cx="216.8" cy="182.5" r="0.95" fill="#b8163c"/>
<circle cx="216.8" cy="184.4" r="0.95" fill="#b8163c"/>
<circle cx="220.2" cy="184.4" r="0.95" fill="#b8163c"/>
<circle cx="223.4" cy="183" r="0.95" fill="#b8163c"/>
<circle cx="223.4" cy="185.3" r="0.95" fill="#b8163c"/>
<circle cx="226.7" cy="182" r="0.95" fill="#b8163c"/>
<circle cx="226.7" cy="184.4" r="0.95" fill="#b8163c"/>
<circle cx="230" cy="183" r="0.95" fill="#b8163c"/>
<circle cx="223.4" cy="181" r="0.95" fill="#b8163c"/>
<circle cx="216.8" cy="188.4" r="0.95" fill="#b8163c"/>
<circle cx="226.7" cy="188" r="0.95" fill="#b8163c"/>
<circle cx="230" cy="187.5" r="0.95" fill="#b8163c"/>
<circle cx="220.2" cy="191.1" r="0.95" fill="#b8163c"/>
<circle cx="223.4" cy="189.4" r="0.95" fill="#b8163c"/>
<circle cx="226.7" cy="192.1" r="0.95" fill="#b8163c"/>
<circle cx="223.4" cy="193.5" r="0.95" fill="#b8163c"/>
<circle cx="223.4" cy="197.1" r="0.95" fill="#b8163c"/>
<circle cx="220" cy="179" r="0.95" fill="#b8163c"/>
<line x1="215.9" y1="179.4" x2="230.6" y2="179.4" stroke="#444" stroke-width="0.9"/>
<line x1="223.25" y1="177.7" x2="223.25" y2="181" stroke="#444" stroke-width="0.9"/>
<line x1="219.55" y1="177.7" x2="226.95" y2="177.7" stroke="#444" stroke-width="0.9"/>
<line x1="219.55" y1="181" x2="226.95" y2="181" stroke="#444" stroke-width="0.9"/>
<text x="223.25" y="238.5" font-size="6.4" text-anchor="middle" fill="#1a1a1a">C1/C2</text>
<line x1="245.5" y1="226.5" x2="245.5" y2="229" stroke="#2b2b2b" stroke-width="0.9"/>
<text x="245.5" y="238.5" font-size="6.4" text-anchor="middle" fill="#1a1a1a">C2/C2</text>
<text x="36.7" y="238.5" font-size="6.4" text-anchor="start" fill="#1a1a1a">HLA-C</text>
<text x="36.7" y="251.1" font-size="6.4" text-anchor="start" fill="#1a1a1a">HLA-E</text>
<line x1="65.4" y1="242.4" x2="119.9" y2="242.4" stroke="#333" stroke-width="1.0"/>
<text x="92.3" y="251.1" font-size="6.4" text-anchor="middle" fill="#1a1a1a">01:01/01:01</text>
<line x1="130.2" y1="242.4" x2="184.6" y2="242.4" stroke="#333" stroke-width="1.0"/>
<text x="157.7" y="251.1" font-size="6.4" text-anchor="middle" fill="#1a1a1a">01:01/01:03</text>
<line x1="194" y1="242.4" x2="248.7" y2="242.4" stroke="#333" stroke-width="1.0"/>
<text x="220.4" y="251.1" font-size="6.4" text-anchor="middle" fill="#1a1a1a">01:03/01:03</text>
<text transform="translate(27.79 180.7) rotate(-90)" x="0" y="0" font-size="7.6" text-anchor="middle" fill="#333" stroke="none" font-weight="bold" textLength="28.3" lengthAdjust="spacingAndGlyphs">HLA-E MFI</text>
<text x="246" y="198.3" font-size="6.4" text-anchor="middle" fill="#1a1a1a">NA</text>
<line x1="69.2" y1="149.8" x2="114.8" y2="149.8" stroke="#4a4a4a" stroke-width="1.1"/>
<text x="92" y="149.91" font-size="6.4" text-anchor="middle" fill="#2a2a2a">***</text>
<line x1="69.2" y1="159" x2="91.1" y2="159" stroke="#4a4a4a" stroke-width="1.1"/>
<text x="80.15" y="159.11" font-size="6.4" text-anchor="middle" fill="#2a2a2a">*</text>
<line x1="93.4" y1="159" x2="115.3" y2="159" stroke="#4a4a4a" stroke-width="1.1"/>
<text x="104.35" y="159.11" font-size="6.4" text-anchor="middle" fill="#2a2a2a">***</text>
<line x1="134.3" y1="154.4" x2="179.9" y2="154.4" stroke="#333" stroke-width="1.1"/>
<text x="157.1" y="154.51" font-size="6.4" text-anchor="middle" fill="#2a2a2a">*</text>
<line x1="308.7" y1="134.8" x2="308.7" y2="227" stroke="#161616" stroke-width="1.15"/>
<line x1="308.2" y1="226.5" x2="513" y2="226.5" stroke="#161616" stroke-width="1.15"/>
<line x1="305.8" y1="226.5" x2="308.7" y2="226.5" stroke="#222" stroke-width="1.0"/>
<text x="302.4" y="228.8" font-size="6.4" text-anchor="end" fill="#1a1a1a">0</text>
<line x1="305.8" y1="208.76" x2="308.7" y2="208.76" stroke="#222" stroke-width="1.0"/>
<text x="302.4" y="211.06" font-size="6.4" text-anchor="end" fill="#1a1a1a">1000</text>
<line x1="305.8" y1="191.02" x2="308.7" y2="191.02" stroke="#222" stroke-width="1.0"/>
<text x="302.4" y="193.32" font-size="6.4" text-anchor="end" fill="#1a1a1a">2000</text>
<line x1="305.8" y1="173.28" x2="308.7" y2="173.28" stroke="#222" stroke-width="1.0"/>
<text x="302.4" y="175.58" font-size="6.4" text-anchor="end" fill="#1a1a1a">3000</text>
<line x1="305.8" y1="155.54" x2="308.7" y2="155.54" stroke="#222" stroke-width="1.0"/>
<text x="302.4" y="157.84" font-size="6.4" text-anchor="end" fill="#1a1a1a">4000</text>
<line x1="305.8" y1="137.8" x2="308.7" y2="137.8" stroke="#222" stroke-width="1.0"/>
<text x="302.4" y="140.1" font-size="6.4" text-anchor="end" fill="#1a1a1a">5000</text>
<line x1="323.25" y1="226.5" x2="323.25" y2="229" stroke="#2b2b2b" stroke-width="0.9"/>
<circle cx="323.3" cy="162.8" r="0.95" fill="#b8163c"/>
<circle cx="328.8" cy="169.4" r="0.95" fill="#b8163c"/>
<circle cx="321.5" cy="171.3" r="0.95" fill="#b8163c"/>
<circle cx="325.2" cy="170.4" r="0.95" fill="#b8163c"/>
<circle cx="323.3" cy="173.8" r="0.95" fill="#b8163c"/>
<circle cx="321.5" cy="176.6" r="0.95" fill="#b8163c"/>
<circle cx="321.5" cy="177.5" r="0.95" fill="#b8163c"/>
<circle cx="318.1" cy="178.9" r="0.95" fill="#b8163c"/>
<circle cx="321.5" cy="179" r="0.95" fill="#b8163c"/>
<circle cx="325.2" cy="178.8" r="0.95" fill="#b8163c"/>
<circle cx="328.8" cy="179" r="0.95" fill="#b8163c"/>
<circle cx="323.3" cy="181.2" r="0.95" fill="#b8163c"/>
<circle cx="321.5" cy="183.1" r="0.95" fill="#b8163c"/>
<circle cx="325.2" cy="182.9" r="0.95" fill="#b8163c"/>
<circle cx="321.5" cy="185.3" r="0.95" fill="#b8163c"/>
<circle cx="321.5" cy="188.3" r="0.95" fill="#b8163c"/>
<circle cx="325.2" cy="187.2" r="0.95" fill="#b8163c"/>
<circle cx="318.1" cy="192.7" r="0.95" fill="#b8163c"/>
<circle cx="318.1" cy="194.9" r="0.95" fill="#b8163c"/>
<circle cx="325.2" cy="191.6" r="0.95" fill="#b8163c"/>
<circle cx="325.2" cy="194.9" r="0.95" fill="#b8163c"/>
<circle cx="328.8" cy="193.8" r="0.95" fill="#b8163c"/>
<line x1="315.9" y1="181.2" x2="330.6" y2="181.2" stroke="#444" stroke-width="0.9"/>
<line x1="323.25" y1="179.7" x2="323.25" y2="182.7" stroke="#444" stroke-width="0.9"/>
<line x1="319.55" y1="179.7" x2="326.95" y2="179.7" stroke="#444" stroke-width="0.9"/>
<line x1="319.55" y1="182.7" x2="326.95" y2="182.7" stroke="#444" stroke-width="0.9"/>
<text x="323.25" y="238.5" font-size="6.4" text-anchor="middle" fill="#1a1a1a">C1/C1</text>
<line x1="345.5" y1="226.5" x2="345.5" y2="229" stroke="#2b2b2b" stroke-width="0.9"/>
<circle cx="343.6" cy="172.3" r="0.95" fill="#b8163c"/>
<circle cx="345.5" cy="172.3" r="0.95" fill="#b8163c"/>
<circle cx="345.5" cy="189.8" r="0.95" fill="#b8163c"/>
<line x1="338.15" y1="178" x2="352.85" y2="178" stroke="#444" stroke-width="0.9"/>
<line x1="345.5" y1="172.3" x2="345.5" y2="183.9" stroke="#444" stroke-width="0.9"/>
<line x1="341.8" y1="172.3" x2="349.2" y2="172.3" stroke="#444" stroke-width="0.9"/>
<line x1="341.8" y1="183.9" x2="349.2" y2="183.9" stroke="#444" stroke-width="0.9"/>
<text x="345.5" y="238.5" font-size="6.4" text-anchor="middle" fill="#1a1a1a">C1/C2</text>
<line x1="367" y1="226.5" x2="367" y2="229" stroke="#2b2b2b" stroke-width="0.9"/>
<circle cx="367" cy="164.8" r="0.95" fill="#b8163c"/>
<circle cx="367" cy="187" r="0.95" fill="#b8163c"/>
<line x1="359.65" y1="176.1" x2="374.35" y2="176.1" stroke="#444" stroke-width="0.9"/>
<line x1="367" y1="164.8" x2="367" y2="187" stroke="#444" stroke-width="0.9"/>
<line x1="363.3" y1="164.8" x2="370.7" y2="164.8" stroke="#444" stroke-width="0.9"/>
<line x1="363.3" y1="187" x2="370.7" y2="187" stroke="#444" stroke-width="0.9"/>
<text x="367" y="238.5" font-size="6.4" text-anchor="middle" fill="#1a1a1a">C2/C2</text>
<line x1="388.75" y1="226.5" x2="388.75" y2="229" stroke="#2b2b2b" stroke-width="0.9"/>
<circle cx="389" cy="157.5" r="0.95" fill="#b8163c"/>
<circle cx="389" cy="166.9" r="0.95" fill="#b8163c"/>
<circle cx="386.5" cy="177.5" r="0.95" fill="#b8163c"/>
<circle cx="389" cy="177" r="0.95" fill="#b8163c"/>
<circle cx="391.5" cy="177.5" r="0.95" fill="#b8163c"/>
<circle cx="386.1" cy="179.4" r="0.95" fill="#b8163c"/>
<circle cx="389" cy="180" r="0.95" fill="#b8163c"/>
<circle cx="392.4" cy="179.75" r="0.95" fill="#b8163c"/>
<circle cx="389" cy="188.1" r="0.95" fill="#b8163c"/>
<circle cx="389" cy="190" r="0.95" fill="#b8163c"/>
<line x1="381.4" y1="177.25" x2="396.1" y2="177.25" stroke="#444" stroke-width="0.9"/>
<line x1="388.75" y1="173.5" x2="388.75" y2="181" stroke="#444" stroke-width="0.9"/>
<line x1="385.05" y1="173.5" x2="392.45" y2="173.5" stroke="#444" stroke-width="0.9"/>
<line x1="385.05" y1="181" x2="392.45" y2="181" stroke="#444" stroke-width="0.9"/>
<text x="388.75" y="238.5" font-size="6.4" text-anchor="middle" fill="#1a1a1a">C1/C1</text>
<line x1="410.75" y1="226.5" x2="410.75" y2="229" stroke="#2b2b2b" stroke-width="0.9"/>
<circle cx="411.1" cy="150.6" r="0.95" fill="#b8163c"/>
<circle cx="411.1" cy="155" r="0.95" fill="#b8163c"/>
<circle cx="409" cy="162.5" r="0.95" fill="#b8163c"/>
<circle cx="409" cy="163.75" r="0.95" fill="#b8163c"/>
<circle cx="412.75" cy="163.5" r="0.95" fill="#b8163c"/>
<circle cx="411.1" cy="179.75" r="0.95" fill="#b8163c"/>
<circle cx="409" cy="188.5" r="0.95" fill="#b8163c"/>
<circle cx="413" cy="189" r="0.95" fill="#b8163c"/>
<circle cx="411.1" cy="192.25" r="0.95" fill="#b8163c"/>
<circle cx="411.1" cy="171" r="0.95" fill="#b8163c"/>
<line x1="403.4" y1="171.6" x2="418.1" y2="171.6" stroke="#444" stroke-width="0.9"/>
<line x1="410.75" y1="166.5" x2="410.75" y2="176.9" stroke="#444" stroke-width="0.9"/>
<line x1="407.05" y1="166.5" x2="414.45" y2="166.5" stroke="#444" stroke-width="0.9"/>
<line x1="407.05" y1="176.9" x2="414.45" y2="176.9" stroke="#444" stroke-width="0.9"/>
<text x="410.75" y="238.5" font-size="6.4" text-anchor="middle" fill="#1a1a1a">C1/C2</text>
<line x1="433" y1="226.5" x2="433" y2="229" stroke="#2b2b2b" stroke-width="0.9"/>
<circle cx="432.75" cy="185" r="0.95" fill="#b8163c"/>
<circle cx="432.75" cy="187.5" r="0.95" fill="#b8163c"/>
<circle cx="432.75" cy="190.25" r="0.95" fill="#b8163c"/>
<circle cx="432.75" cy="192.5" r="0.95" fill="#b8163c"/>
<circle cx="432.75" cy="195.6" r="0.95" fill="#b8163c"/>
<line x1="425.65" y1="190.25" x2="440.35" y2="190.25" stroke="#444" stroke-width="0.9"/>
<line x1="433" y1="188.1" x2="433" y2="192.25" stroke="#444" stroke-width="0.9"/>
<line x1="429.3" y1="188.1" x2="436.7" y2="188.1" stroke="#444" stroke-width="0.9"/>
<line x1="429.3" y1="192.25" x2="436.7" y2="192.25" stroke="#444" stroke-width="0.9"/>
<text x="433" y="238.5" font-size="6.4" text-anchor="middle" fill="#1a1a1a">C2/C2</text>
<line x1="454.5" y1="226.5" x2="454.5" y2="229" stroke="#2b2b2b" stroke-width="0.9"/>
<circle cx="454.7" cy="158.7" r="0.95" fill="#b8163c"/>
<circle cx="454.7" cy="168.1" r="0.95" fill="#b8163c"/>
<circle cx="454.7" cy="170.5" r="0.95" fill="#b8163c"/>
<circle cx="454.7" cy="184.8" r="0.95" fill="#b8163c"/>
<line x1="447.15" y1="170.7" x2="461.85" y2="170.7" stroke="#444" stroke-width="0.9"/>
<line x1="454.5" y1="163.1" x2="454.5" y2="178.3" stroke="#444" stroke-width="0.9"/>
<line x1="450.8" y1="163.1" x2="458.2" y2="163.1" stroke="#444" stroke-width="0.9"/>
<line x1="450.8" y1="178.3" x2="458.2" y2="178.3" stroke="#444" stroke-width="0.9"/>
<text x="454.5" y="238.5" font-size="6.4" text-anchor="middle" fill="#1a1a1a">C1/C1</text>
<line x1="476.25" y1="226.5" x2="476.25" y2="229" stroke="#2b2b2b" stroke-width="0.9"/>
<circle cx="476.4" cy="165.2" r="0.95" fill="#b8163c"/>
<circle cx="476.4" cy="170.7" r="0.95" fill="#b8163c"/>
<circle cx="474.7" cy="175.65" r="0.95" fill="#b8163c"/>
<circle cx="478.2" cy="175.65" r="0.95" fill="#b8163c"/>
<circle cx="476.4" cy="179.2" r="0.95" fill="#b8163c"/>
<circle cx="470" cy="182.7" r="0.95" fill="#b8163c"/>
<circle cx="473.3" cy="182.7" r="0.95" fill="#b8163c"/>
<circle cx="476.4" cy="182.7" r="0.95" fill="#b8163c"/>
<circle cx="479.6" cy="182.7" r="0.95" fill="#b8163c"/>
<circle cx="483" cy="182.7" r="0.95" fill="#b8163c"/>
<circle cx="472.3" cy="184.6" r="0.95" fill="#b8163c"/>
<circle cx="476.4" cy="184.6" r="0.95" fill="#b8163c"/>
<circle cx="480.5" cy="184.6" r="0.95" fill="#b8163c"/>
<circle cx="474.7" cy="187.7" r="0.95" fill="#b8163c"/>
<circle cx="478.2" cy="187.7" r="0.95" fill="#b8163c"/>
<circle cx="476.4" cy="192.25" r="0.95" fill="#b8163c"/>
<circle cx="476.4" cy="194.2" r="0.95" fill="#b8163c"/>
<circle cx="476.4" cy="197.5" r="0.95" fill="#b8163c"/>
<circle cx="473.3" cy="180.5" r="0.95" fill="#b8163c"/>
<circle cx="479.6" cy="180.5" r="0.95" fill="#b8163c"/>
<circle cx="476.4" cy="177.5" r="0.95" fill="#b8163c"/>
<circle cx="472.5" cy="186.2" r="0.95" fill="#b8163c"/>
<circle cx="480.3" cy="186.2" r="0.95" fill="#b8163c"/>
<circle cx="474.7" cy="190" r="0.95" fill="#b8163c"/>
<circle cx="478.2" cy="190" r="0.95" fill="#b8163c"/>
<line x1="468.9" y1="182.7" x2="483.6" y2="182.7" stroke="#444" stroke-width="0.9"/>
<line x1="476.25" y1="181.2" x2="476.25" y2="184.2" stroke="#444" stroke-width="0.9"/>
<line x1="472.55" y1="181.2" x2="479.95" y2="181.2" stroke="#444" stroke-width="0.9"/>
<line x1="472.55" y1="184.2" x2="479.95" y2="184.2" stroke="#444" stroke-width="0.9"/>
<text x="476.25" y="238.5" font-size="6.4" text-anchor="middle" fill="#1a1a1a">C1/C2</text>
<line x1="498" y1="226.5" x2="498" y2="229" stroke="#2b2b2b" stroke-width="0.9"/>
<circle cx="498.6" cy="174.9" r="0.95" fill="#b8163c"/>
<circle cx="498.6" cy="180.5" r="0.95" fill="#b8163c"/>
<circle cx="495.2" cy="183.3" r="0.95" fill="#b8163c"/>
<circle cx="498.6" cy="183.8" r="0.95" fill="#b8163c"/>
<circle cx="501.8" cy="183.3" r="0.95" fill="#b8163c"/>
<circle cx="495.2" cy="187" r="0.95" fill="#b8163c"/>
<circle cx="498.6" cy="187" r="0.95" fill="#b8163c"/>
<circle cx="492.1" cy="192" r="0.95" fill="#b8163c"/>
<circle cx="495.2" cy="194" r="0.95" fill="#b8163c"/>
<circle cx="498.6" cy="194.2" r="0.95" fill="#b8163c"/>
<circle cx="501.8" cy="194" r="0.95" fill="#b8163c"/>
<circle cx="505" cy="192.5" r="0.95" fill="#b8163c"/>
<circle cx="492.1" cy="196.8" r="0.95" fill="#b8163c"/>
<circle cx="495.2" cy="196.8" r="0.95" fill="#b8163c"/>
<circle cx="498.6" cy="196.6" r="0.95" fill="#b8163c"/>
<circle cx="501.8" cy="196.8" r="0.95" fill="#b8163c"/>
<circle cx="505" cy="196.8" r="0.95" fill="#b8163c"/>
<circle cx="492.1" cy="200.5" r="0.95" fill="#b8163c"/>
<circle cx="495.2" cy="200.8" r="0.95" fill="#b8163c"/>
<circle cx="498.6" cy="200" r="0.95" fill="#b8163c"/>
<circle cx="501.8" cy="200.8" r="0.95" fill="#b8163c"/>
<circle cx="505" cy="200.5" r="0.95" fill="#b8163c"/>
<circle cx="495.2" cy="203.4" r="0.95" fill="#b8163c"/>
<circle cx="501.8" cy="203.4" r="0.95" fill="#b8163c"/>
<circle cx="498.6" cy="205.3" r="0.95" fill="#b8163c"/>
<circle cx="498.6" cy="208.6" r="0.95" fill="#b8163c"/>
<circle cx="501.8" cy="189.5" r="0.95" fill="#b8163c"/>
<circle cx="495.2" cy="190" r="0.95" fill="#b8163c"/>
<line x1="490.65" y1="194.2" x2="505.35" y2="194.2" stroke="#444" stroke-width="0.9"/>
<line x1="498" y1="192.4" x2="498" y2="196" stroke="#444" stroke-width="0.9"/>
<line x1="494.3" y1="192.4" x2="501.7" y2="192.4" stroke="#444" stroke-width="0.9"/>
<line x1="494.3" y1="196" x2="501.7" y2="196" stroke="#444" stroke-width="0.9"/>
<text x="498" y="238.5" font-size="6.4" text-anchor="middle" fill="#1a1a1a">C2/C2</text>
<text x="291.1" y="238.5" font-size="6.4" text-anchor="start" fill="#1a1a1a">HLA-C</text>
<text x="291.1" y="248.4" font-size="6.4" text-anchor="start" fill="#1a1a1a">HLA-B</text>
<line x1="318.3" y1="242.4" x2="371.5" y2="242.4" stroke="#333" stroke-width="1.0"/>
<text x="344.6" y="251.1" font-size="6.4" text-anchor="middle" fill="#1a1a1a">M/M</text>
<line x1="383.4" y1="242.4" x2="437.7" y2="242.4" stroke="#333" stroke-width="1.0"/>
<text x="410.7" y="251.1" font-size="6.4" text-anchor="middle" fill="#1a1a1a">M/T</text>
<line x1="448.9" y1="242.4" x2="503.8" y2="242.4" stroke="#333" stroke-width="1.0"/>
<text x="476" y="251.1" font-size="6.4" text-anchor="middle" fill="#1a1a1a">T/T</text>
<text transform="translate(282.49 180.7) rotate(-90)" x="0" y="0" font-size="7.6" text-anchor="middle" fill="#333" stroke="none" font-weight="bold" textLength="28.3" lengthAdjust="spacingAndGlyphs">HLA-E MFI</text>
<line x1="388.1" y1="139.2" x2="433.6" y2="139.2" stroke="#333" stroke-width="1.1"/>
<text x="410.85" y="139.31" font-size="6.4" text-anchor="middle" fill="#2a2a2a">*</text>
<line x1="412.5" y1="147.1" x2="434.2" y2="147.1" stroke="#666" stroke-width="1.1"/>
<text x="423.35" y="147.21" font-size="6.4" text-anchor="middle" fill="#2a2a2a">*</text>
<line x1="454.8" y1="147.8" x2="500.2" y2="147.8" stroke="#4a4a4a" stroke-width="1.1"/>
<text x="477.5" y="147.91" font-size="6.4" text-anchor="middle" fill="#2a2a2a">***</text>
<line x1="454.8" y1="155.9" x2="477.5" y2="155.9" stroke="#4a4a4a" stroke-width="1.1"/>
<text x="466.15" y="156.01" font-size="6.4" text-anchor="middle" fill="#2a2a2a">*</text>
<line x1="479.4" y1="155.9" x2="500.7" y2="155.9" stroke="#4a4a4a" stroke-width="1.1"/>
<text x="490.05" y="156.01" font-size="6.4" text-anchor="middle" fill="#2a2a2a">****</text>
<line x1="54.4" y1="268.5" x2="54.4" y2="358.65" stroke="#161616" stroke-width="1.15"/>
<line x1="53.9" y1="358.15" x2="142.5" y2="358.15" stroke="#161616" stroke-width="1.15"/>
<line x1="51.5" y1="358.15" x2="54.4" y2="358.15" stroke="#222" stroke-width="1.0"/>
<text x="48.1" y="360.45" font-size="6.4" text-anchor="end" fill="#1a1a1a">0</text>
<line x1="51.5" y1="340.82" x2="54.4" y2="340.82" stroke="#222" stroke-width="1.0"/>
<text x="48.1" y="343.12" font-size="6.4" text-anchor="end" fill="#1a1a1a">1000</text>
<line x1="51.5" y1="323.49" x2="54.4" y2="323.49" stroke="#222" stroke-width="1.0"/>
<text x="48.1" y="325.79" font-size="6.4" text-anchor="end" fill="#1a1a1a">2000</text>
<line x1="51.5" y1="306.16" x2="54.4" y2="306.16" stroke="#222" stroke-width="1.0"/>
<text x="48.1" y="308.46" font-size="6.4" text-anchor="end" fill="#1a1a1a">3000</text>
<line x1="51.5" y1="288.83" x2="54.4" y2="288.83" stroke="#222" stroke-width="1.0"/>
<text x="48.1" y="291.13" font-size="6.4" text-anchor="end" fill="#1a1a1a">4000</text>
<line x1="51.5" y1="271.5" x2="54.4" y2="271.5" stroke="#222" stroke-width="1.0"/>
<text x="48.1" y="273.8" font-size="6.4" text-anchor="end" fill="#1a1a1a">5000</text>
<line x1="54.4" y1="358.15" x2="54.4" y2="360.85" stroke="#2b2b2b" stroke-width="0.9"/>
<text transform="translate(57.8 369.05) rotate(-45)" x="0" y="0" font-size="6.5" text-anchor="end" fill="#1a1a1a">0</text>
<line x1="71.8" y1="358.15" x2="71.8" y2="360.85" stroke="#2b2b2b" stroke-width="0.9"/>
<text transform="translate(75.2 369.05) rotate(-45)" x="0" y="0" font-size="6.5" text-anchor="end" fill="#1a1a1a">10000</text>
<line x1="89.2" y1="358.15" x2="89.2" y2="360.85" stroke="#2b2b2b" stroke-width="0.9"/>
<text transform="translate(92.6 369.05) rotate(-45)" x="0" y="0" font-size="6.5" text-anchor="end" fill="#1a1a1a">20000</text>
<line x1="106.6" y1="358.15" x2="106.6" y2="360.85" stroke="#2b2b2b" stroke-width="0.9"/>
<text transform="translate(110 369.05) rotate(-45)" x="0" y="0" font-size="6.5" text-anchor="end" fill="#1a1a1a">30000</text>
<line x1="124" y1="358.15" x2="124" y2="360.85" stroke="#2b2b2b" stroke-width="0.9"/>
<text transform="translate(127.4 369.05) rotate(-45)" x="0" y="0" font-size="6.5" text-anchor="end" fill="#1a1a1a">40000</text>
<line x1="141.4" y1="358.15" x2="141.4" y2="360.85" stroke="#2b2b2b" stroke-width="0.9"/>
<text transform="translate(144.8 369.05) rotate(-45)" x="0" y="0" font-size="6.5" text-anchor="end" fill="#1a1a1a">50000</text>
<circle cx="130.6" cy="284.2" r="1.15" fill="#c21d3c"/>
<circle cx="121" cy="288" r="1.15" fill="#c21d3c"/>
<circle cx="119.8" cy="291.8" r="1.15" fill="#c21d3c"/>
<circle cx="109.6" cy="290.8" r="1.15" fill="#c21d3c"/>
<circle cx="107.8" cy="295.1" r="1.15" fill="#c21d3c"/>
<circle cx="107.8" cy="296.8" r="1.15" fill="#c21d3c"/>
<circle cx="101.5" cy="297" r="1.15" fill="#c21d3c"/>
<circle cx="112.2" cy="296.4" r="1.15" fill="#c21d3c"/>
<circle cx="113.1" cy="298.2" r="1.15" fill="#c21d3c"/>
<circle cx="116.5" cy="298.2" r="1.15" fill="#c21d3c"/>
<circle cx="116.9" cy="300.1" r="1.15" fill="#c21d3c"/>
<circle cx="126.9" cy="300.8" r="1.15" fill="#c21d3c"/>
<circle cx="126.2" cy="302.6" r="1.15" fill="#c21d3c"/>
<circle cx="121.5" cy="303.5" r="1.15" fill="#c21d3c"/>
<circle cx="123.1" cy="304.5" r="1.15" fill="#c21d3c"/>
<circle cx="134" cy="304.8" r="1.15" fill="#c21d3c"/>
<circle cx="113.5" cy="303.5" r="1.15" fill="#c21d3c"/>
<circle cx="115.2" cy="305.8" r="1.15" fill="#c21d3c"/>
<circle cx="117.5" cy="306.4" r="1.15" fill="#c21d3c"/>
<circle cx="131.9" cy="307.6" r="1.15" fill="#c21d3c"/>
<circle cx="110" cy="306.4" r="1.15" fill="#c21d3c"/>
<circle cx="112.8" cy="308.2" r="1.15" fill="#c21d3c"/>
<circle cx="113.8" cy="308.9" r="1.15" fill="#c21d3c"/>
<circle cx="123.8" cy="308.9" r="1.15" fill="#c21d3c"/>
<circle cx="124.4" cy="310.8" r="1.15" fill="#c21d3c"/>
<circle cx="125.6" cy="312" r="1.15" fill="#c21d3c"/>
<circle cx="131.5" cy="311.8" r="1.15" fill="#c21d3c"/>
<circle cx="120.6" cy="311.8" r="1.15" fill="#c21d3c"/>
<circle cx="103.8" cy="311.4" r="1.15" fill="#c21d3c"/>
<circle cx="108.1" cy="311.8" r="1.15" fill="#c21d3c"/>
<circle cx="112.8" cy="312" r="1.15" fill="#c21d3c"/>
<circle cx="113.8" cy="313.2" r="1.15" fill="#c21d3c"/>
<circle cx="97.5" cy="312.6" r="1.15" fill="#c21d3c"/>
<circle cx="98.5" cy="314.2" r="1.15" fill="#c21d3c"/>
<circle cx="96.2" cy="315.8" r="1.15" fill="#c21d3c"/>
<circle cx="100" cy="316.4" r="1.15" fill="#c21d3c"/>
<circle cx="103.1" cy="315.1" r="1.15" fill="#c21d3c"/>
<circle cx="106.2" cy="315.1" r="1.15" fill="#c21d3c"/>
<circle cx="107.5" cy="315.8" r="1.15" fill="#c21d3c"/>
<circle cx="110" cy="315.5" r="1.15" fill="#c21d3c"/>
<circle cx="111.9" cy="315.8" r="1.15" fill="#c21d3c"/>
<circle cx="113.8" cy="315.1" r="1.15" fill="#c21d3c"/>
<circle cx="123.8" cy="314.8" r="1.15" fill="#c21d3c"/>
<circle cx="128.1" cy="318.2" r="1.15" fill="#c21d3c"/>
<circle cx="118.8" cy="320.8" r="1.15" fill="#c21d3c"/>
<circle cx="105" cy="317.6" r="1.15" fill="#c21d3c"/>
<circle cx="106.9" cy="318.2" r="1.15" fill="#c21d3c"/>
<circle cx="108.8" cy="317.6" r="1.15" fill="#c21d3c"/>
<circle cx="111.2" cy="318.9" r="1.15" fill="#c21d3c"/>
<circle cx="113.8" cy="318.9" r="1.15" fill="#c21d3c"/>
<circle cx="115" cy="317" r="1.15" fill="#c21d3c"/>
<circle cx="95.6" cy="320.1" r="1.15" fill="#c21d3c"/>
<circle cx="101.9" cy="319.5" r="1.15" fill="#c21d3c"/>
<circle cx="104.4" cy="320.1" r="1.15" fill="#c21d3c"/>
<circle cx="106.2" cy="320.8" r="1.15" fill="#c21d3c"/>
<circle cx="108.1" cy="320.8" r="1.15" fill="#c21d3c"/>
<circle cx="110" cy="321.4" r="1.15" fill="#c21d3c"/>
<circle cx="112.5" cy="322" r="1.15" fill="#c21d3c"/>
<circle cx="100.6" cy="322" r="1.15" fill="#c21d3c"/>
<circle cx="102.5" cy="322.6" r="1.15" fill="#c21d3c"/>
<circle cx="105" cy="323.2" r="1.15" fill="#c21d3c"/>
<circle cx="107.5" cy="323.2" r="1.15" fill="#c21d3c"/>
<circle cx="110" cy="323.9" r="1.15" fill="#c21d3c"/>
<circle cx="111.9" cy="325.1" r="1.15" fill="#c21d3c"/>
<circle cx="113.1" cy="325.8" r="1.15" fill="#c21d3c"/>
<circle cx="98.8" cy="324.5" r="1.15" fill="#c21d3c"/>
<circle cx="97.5" cy="326.4" r="1.15" fill="#c21d3c"/>
<circle cx="100" cy="325.8" r="1.15" fill="#c21d3c"/>
<circle cx="103.1" cy="325.1" r="1.15" fill="#c21d3c"/>
<circle cx="105.6" cy="326.4" r="1.15" fill="#c21d3c"/>
<circle cx="108.1" cy="326.4" r="1.15" fill="#c21d3c"/>
<circle cx="110.6" cy="327" r="1.15" fill="#c21d3c"/>
<circle cx="87.8" cy="326.4" r="1.15" fill="#c21d3c"/>
<circle cx="93.8" cy="328.2" r="1.15" fill="#c21d3c"/>
<circle cx="96.2" cy="328.9" r="1.15" fill="#c21d3c"/>
<circle cx="100" cy="328.2" r="1.15" fill="#c21d3c"/>
<circle cx="103.8" cy="328.2" r="1.15" fill="#c21d3c"/>
<circle cx="106.2" cy="328.9" r="1.15" fill="#c21d3c"/>
<circle cx="108.8" cy="329.5" r="1.15" fill="#c21d3c"/>
<circle cx="111.2" cy="330.1" r="1.15" fill="#c21d3c"/>
<circle cx="98.1" cy="330.8" r="1.15" fill="#c21d3c"/>
<circle cx="100" cy="332" r="1.15" fill="#c21d3c"/>
<circle cx="104.4" cy="332" r="1.15" fill="#c21d3c"/>
<circle cx="106.9" cy="332.6" r="1.15" fill="#c21d3c"/>
<circle cx="92.5" cy="331.4" r="1.15" fill="#c21d3c"/>
<circle cx="95" cy="333.2" r="1.15" fill="#c21d3c"/>
<circle cx="95.6" cy="335.1" r="1.15" fill="#c21d3c"/>
<circle cx="100" cy="333.2" r="1.15" fill="#c21d3c"/>
<circle cx="106.2" cy="334.5" r="1.15" fill="#c21d3c"/>
<circle cx="103.8" cy="337" r="1.15" fill="#c21d3c"/>
<circle cx="92.2" cy="340.8" r="1.15" fill="#c21d3c"/>
<line x1="88" y1="331.5" x2="134.25" y2="299" stroke="#333" stroke-width="0.8"/>
<text x="59.4" y="276.2" font-size="6.6" text-anchor="start" fill="#222">R: 0.5867</text>
<text x="59.4" y="283.7" font-size="6.6" fill="#222"><tspan font-style="italic">P</tspan> &lt; .0001</text>
<text x="99.2" y="392.6" font-size="8.3" text-anchor="middle" fill="#333" stroke="none" font-weight="bold" textLength="36.3" lengthAdjust="spacingAndGlyphs">MFI HLA-ABC</text>
<text transform="translate(27.64 313.1) rotate(-90)" x="0" y="0" font-size="7.6" text-anchor="middle" fill="#333" stroke="none" font-weight="bold" textLength="28.3" lengthAdjust="spacingAndGlyphs">MFI HLA-E</text>
<line x1="193.7" y1="268.5" x2="193.7" y2="358.65" stroke="#161616" stroke-width="1.15"/>
<line x1="193.2" y1="358.15" x2="282.5" y2="358.15" stroke="#161616" stroke-width="1.15"/>
<line x1="190.8" y1="358.15" x2="193.7" y2="358.15" stroke="#222" stroke-width="1.0"/>
<text x="187.4" y="360.45" font-size="6.4" text-anchor="end" fill="#1a1a1a">0</text>
<line x1="190.8" y1="340.82" x2="193.7" y2="340.82" stroke="#222" stroke-width="1.0"/>
<text x="187.4" y="343.12" font-size="6.4" text-anchor="end" fill="#1a1a1a">1000</text>
<line x1="190.8" y1="323.49" x2="193.7" y2="323.49" stroke="#222" stroke-width="1.0"/>
<text x="187.4" y="325.79" font-size="6.4" text-anchor="end" fill="#1a1a1a">2000</text>
<line x1="190.8" y1="306.16" x2="193.7" y2="306.16" stroke="#222" stroke-width="1.0"/>
<text x="187.4" y="308.46" font-size="6.4" text-anchor="end" fill="#1a1a1a">3000</text>
<line x1="190.8" y1="288.83" x2="193.7" y2="288.83" stroke="#222" stroke-width="1.0"/>
<text x="187.4" y="291.13" font-size="6.4" text-anchor="end" fill="#1a1a1a">4000</text>
<line x1="190.8" y1="271.5" x2="193.7" y2="271.5" stroke="#222" stroke-width="1.0"/>
<text x="187.4" y="273.8" font-size="6.4" text-anchor="end" fill="#1a1a1a">5000</text>
<line x1="193.7" y1="358.15" x2="193.7" y2="360.85" stroke="#2b2b2b" stroke-width="0.9"/>
<text transform="translate(197.1 369.05) rotate(-45)" x="0" y="0" font-size="6.5" text-anchor="end" fill="#1a1a1a">0</text>
<line x1="215.45" y1="358.15" x2="215.45" y2="360.85" stroke="#2b2b2b" stroke-width="0.9"/>
<text transform="translate(218.85 369.05) rotate(-45)" x="0" y="0" font-size="6.5" text-anchor="end" fill="#1a1a1a">20000</text>
<line x1="237.2" y1="358.15" x2="237.2" y2="360.85" stroke="#2b2b2b" stroke-width="0.9"/>
<text transform="translate(240.6 369.05) rotate(-45)" x="0" y="0" font-size="6.5" text-anchor="end" fill="#1a1a1a">40000</text>
<line x1="258.95" y1="358.15" x2="258.95" y2="360.85" stroke="#2b2b2b" stroke-width="0.9"/>
<text transform="translate(262.35 369.05) rotate(-45)" x="0" y="0" font-size="6.5" text-anchor="end" fill="#1a1a1a">60000</text>
<line x1="280.7" y1="358.15" x2="280.7" y2="360.85" stroke="#2b2b2b" stroke-width="0.9"/>
<text transform="translate(284.1 369.05) rotate(-45)" x="0" y="0" font-size="6.5" text-anchor="end" fill="#1a1a1a">80000</text>
<circle cx="244.8" cy="284.8" r="1.15" fill="#c21d3c"/>
<circle cx="233.1" cy="288.5" r="1.15" fill="#c21d3c"/>
<circle cx="229.4" cy="291.5" r="1.15" fill="#c21d3c"/>
<circle cx="225" cy="296.9" r="1.15" fill="#c21d3c"/>
<circle cx="252.2" cy="295.6" r="1.15" fill="#c21d3c"/>
<circle cx="251.2" cy="297.5" r="1.15" fill="#c21d3c"/>
<circle cx="250" cy="300" r="1.15" fill="#c21d3c"/>
<circle cx="258.1" cy="298.1" r="1.15" fill="#c21d3c"/>
<circle cx="260" cy="301.5" r="1.15" fill="#c21d3c"/>
<circle cx="255.2" cy="303.8" r="1.15" fill="#c21d3c"/>
<circle cx="256.9" cy="305" r="1.15" fill="#c21d3c"/>
<circle cx="264" cy="304" r="1.15" fill="#c21d3c"/>
<circle cx="236.2" cy="303.8" r="1.15" fill="#c21d3c"/>
<circle cx="238.1" cy="302.8" r="1.15" fill="#c21d3c"/>
<circle cx="236.9" cy="305.6" r="1.15" fill="#c21d3c"/>
<circle cx="231.2" cy="306.9" r="1.15" fill="#c21d3c"/>
<circle cx="228.1" cy="308.5" r="1.15" fill="#c21d3c"/>
<circle cx="242.5" cy="308.1" r="1.15" fill="#c21d3c"/>
<circle cx="244.4" cy="309.4" r="1.15" fill="#c21d3c"/>
<circle cx="247.5" cy="307.5" r="1.15" fill="#c21d3c"/>
<circle cx="225.2" cy="311.2" r="1.15" fill="#c21d3c"/>
<circle cx="228.8" cy="311.5" r="1.15" fill="#c21d3c"/>
<circle cx="230.6" cy="312.2" r="1.15" fill="#c21d3c"/>
<circle cx="233.8" cy="310.6" r="1.15" fill="#c21d3c"/>
<circle cx="236.2" cy="310" r="1.15" fill="#c21d3c"/>
<circle cx="238.8" cy="311.9" r="1.15" fill="#c21d3c"/>
<circle cx="241.2" cy="311.2" r="1.15" fill="#c21d3c"/>
<circle cx="246.2" cy="312.2" r="1.15" fill="#c21d3c"/>
<circle cx="251.5" cy="311.9" r="1.15" fill="#c21d3c"/>
<circle cx="223.8" cy="313.8" r="1.15" fill="#c21d3c"/>
<circle cx="226.2" cy="315" r="1.15" fill="#c21d3c"/>
<circle cx="229.4" cy="315" r="1.15" fill="#c21d3c"/>
<circle cx="231.9" cy="314.4" r="1.15" fill="#c21d3c"/>
<circle cx="234.4" cy="315" r="1.15" fill="#c21d3c"/>
<circle cx="237.5" cy="313.8" r="1.15" fill="#c21d3c"/>
<circle cx="240" cy="314.4" r="1.15" fill="#c21d3c"/>
<circle cx="242.5" cy="315.6" r="1.15" fill="#c21d3c"/>
<circle cx="245" cy="316.2" r="1.15" fill="#c21d3c"/>
<circle cx="211.2" cy="316.2" r="1.15" fill="#c21d3c"/>
<circle cx="211.9" cy="317.5" r="1.15" fill="#c21d3c"/>
<circle cx="223.8" cy="317.5" r="1.15" fill="#c21d3c"/>
<circle cx="226.9" cy="317.5" r="1.15" fill="#c21d3c"/>
<circle cx="231.2" cy="316.9" r="1.15" fill="#c21d3c"/>
<circle cx="235" cy="316.9" r="1.15" fill="#c21d3c"/>
<circle cx="238.1" cy="317.5" r="1.15" fill="#c21d3c"/>
<circle cx="242.5" cy="317.5" r="1.15" fill="#c21d3c"/>
<circle cx="245" cy="318.1" r="1.15" fill="#c21d3c"/>
<circle cx="248.5" cy="319.8" r="1.15" fill="#c21d3c"/>
<circle cx="265.2" cy="320" r="1.15" fill="#c21d3c"/>
<circle cx="221.2" cy="320.6" r="1.15" fill="#c21d3c"/>
<circle cx="225" cy="320" r="1.15" fill="#c21d3c"/>
<circle cx="228.1" cy="319.8" r="1.15" fill="#c21d3c"/>
<circle cx="230" cy="320.6" r="1.15" fill="#c21d3c"/>
<circle cx="233.1" cy="320.2" r="1.15" fill="#c21d3c"/>
<circle cx="237.5" cy="320.6" r="1.15" fill="#c21d3c"/>
<circle cx="241.2" cy="321.2" r="1.15" fill="#c21d3c"/>
<circle cx="222.5" cy="323.1" r="1.15" fill="#c21d3c"/>
<circle cx="226.2" cy="323.1" r="1.15" fill="#c21d3c"/>
<circle cx="229.4" cy="322.5" r="1.15" fill="#c21d3c"/>
<circle cx="231.9" cy="323.1" r="1.15" fill="#c21d3c"/>
<circle cx="235" cy="323.8" r="1.15" fill="#c21d3c"/>
<circle cx="238.8" cy="323.8" r="1.15" fill="#c21d3c"/>
<circle cx="242.5" cy="324.4" r="1.15" fill="#c21d3c"/>
<circle cx="245" cy="323.1" r="1.15" fill="#c21d3c"/>
<circle cx="218.8" cy="323.8" r="1.15" fill="#c21d3c"/>
<circle cx="220.6" cy="326.9" r="1.15" fill="#c21d3c"/>
<circle cx="221.9" cy="327.5" r="1.15" fill="#c21d3c"/>
<circle cx="227.5" cy="325.6" r="1.15" fill="#c21d3c"/>
<circle cx="230" cy="326.9" r="1.15" fill="#c21d3c"/>
<circle cx="233.8" cy="325.6" r="1.15" fill="#c21d3c"/>
<circle cx="240" cy="326.9" r="1.15" fill="#c21d3c"/>
<circle cx="242.5" cy="326.2" r="1.15" fill="#c21d3c"/>
<circle cx="246.2" cy="328.1" r="1.15" fill="#c21d3c"/>
<circle cx="217.5" cy="330" r="1.15" fill="#c21d3c"/>
<circle cx="218.8" cy="331.2" r="1.15" fill="#c21d3c"/>
<circle cx="226.9" cy="329.8" r="1.15" fill="#c21d3c"/>
<circle cx="238.8" cy="330.6" r="1.15" fill="#c21d3c"/>
<circle cx="245.6" cy="332.5" r="1.15" fill="#c21d3c"/>
<circle cx="250" cy="333.8" r="1.15" fill="#c21d3c"/>
<circle cx="221.9" cy="333.8" r="1.15" fill="#c21d3c"/>
<circle cx="226.9" cy="333.8" r="1.15" fill="#c21d3c"/>
<circle cx="227.5" cy="335" r="1.15" fill="#c21d3c"/>
<circle cx="238.1" cy="337.5" r="1.15" fill="#c21d3c"/>
<circle cx="215" cy="341" r="1.15" fill="#c21d3c"/>
<line x1="211.25" y1="325" x2="265" y2="306.25" stroke="#333" stroke-width="0.8"/>
<text x="198.7" y="276.2" font-size="6.6" text-anchor="start" fill="#222">R: 0.3476</text>
<text x="198.7" y="283.7" font-size="6.6" fill="#222"><tspan font-style="italic">P</tspan> &lt; .0005</text>
<text x="238.7" y="392.4" font-size="8.3" text-anchor="middle" fill="#333" stroke="none" font-weight="bold" textLength="32.4" lengthAdjust="spacingAndGlyphs">MFI HLA-BC</text>
<text transform="translate(167.84 313.1) rotate(-90)" x="0" y="0" font-size="7.6" text-anchor="middle" fill="#333" stroke="none" font-weight="bold" textLength="28.3" lengthAdjust="spacingAndGlyphs">MFI HLA-E</text>
<line x1="333.4" y1="268.5" x2="333.4" y2="358.65" stroke="#161616" stroke-width="1.15"/>
<line x1="332.9" y1="358.15" x2="422.5" y2="358.15" stroke="#161616" stroke-width="1.15"/>
<line x1="330.5" y1="358.15" x2="333.4" y2="358.15" stroke="#222" stroke-width="1.0"/>
<text x="327.1" y="360.45" font-size="6.4" text-anchor="end" fill="#1a1a1a">0</text>
<line x1="330.5" y1="340.82" x2="333.4" y2="340.82" stroke="#222" stroke-width="1.0"/>
<text x="327.1" y="343.12" font-size="6.4" text-anchor="end" fill="#1a1a1a">1000</text>
<line x1="330.5" y1="323.49" x2="333.4" y2="323.49" stroke="#222" stroke-width="1.0"/>
<text x="327.1" y="325.79" font-size="6.4" text-anchor="end" fill="#1a1a1a">2000</text>
<line x1="330.5" y1="306.16" x2="333.4" y2="306.16" stroke="#222" stroke-width="1.0"/>
<text x="327.1" y="308.46" font-size="6.4" text-anchor="end" fill="#1a1a1a">3000</text>
<line x1="330.5" y1="288.83" x2="333.4" y2="288.83" stroke="#222" stroke-width="1.0"/>
<text x="327.1" y="291.13" font-size="6.4" text-anchor="end" fill="#1a1a1a">4000</text>
<line x1="330.5" y1="271.5" x2="333.4" y2="271.5" stroke="#222" stroke-width="1.0"/>
<text x="327.1" y="273.8" font-size="6.4" text-anchor="end" fill="#1a1a1a">5000</text>
<line x1="333.4" y1="358.15" x2="333.4" y2="360.85" stroke="#2b2b2b" stroke-width="0.9"/>
<text transform="translate(336.8 369.05) rotate(-45)" x="0" y="0" font-size="6.5" text-anchor="end" fill="#1a1a1a">0</text>
<line x1="347.75" y1="358.15" x2="347.75" y2="360.85" stroke="#2b2b2b" stroke-width="0.9"/>
<text transform="translate(351.15 369.05) rotate(-45)" x="0" y="0" font-size="6.5" text-anchor="end" fill="#1a1a1a">1000</text>
<line x1="362.1" y1="358.15" x2="362.1" y2="360.85" stroke="#2b2b2b" stroke-width="0.9"/>
<text transform="translate(365.5 369.05) rotate(-45)" x="0" y="0" font-size="6.5" text-anchor="end" fill="#1a1a1a">2000</text>
<line x1="376.45" y1="358.15" x2="376.45" y2="360.85" stroke="#2b2b2b" stroke-width="0.9"/>
<text transform="translate(379.85 369.05) rotate(-45)" x="0" y="0" font-size="6.5" text-anchor="end" fill="#1a1a1a">3000</text>
<line x1="390.8" y1="358.15" x2="390.8" y2="360.85" stroke="#2b2b2b" stroke-width="0.9"/>
<text transform="translate(394.2 369.05) rotate(-45)" x="0" y="0" font-size="6.5" text-anchor="end" fill="#1a1a1a">4000</text>
<line x1="405.15" y1="358.15" x2="405.15" y2="360.85" stroke="#2b2b2b" stroke-width="0.9"/>
<text transform="translate(408.55 369.05) rotate(-45)" x="0" y="0" font-size="6.5" text-anchor="end" fill="#1a1a1a">5000</text>
<line x1="419.5" y1="358.15" x2="419.5" y2="360.85" stroke="#2b2b2b" stroke-width="0.9"/>
<text transform="translate(422.9 369.05) rotate(-45)" x="0" y="0" font-size="6.5" text-anchor="end" fill="#1a1a1a">6000</text>
<circle cx="363" cy="283.6" r="1.15" fill="#c21d3c"/>
<circle cx="362.2" cy="287.8" r="1.15" fill="#c21d3c"/>
<circle cx="348.8" cy="290.6" r="1.15" fill="#c21d3c"/>
<circle cx="389.6" cy="291.8" r="1.15" fill="#c21d3c"/>
<circle cx="410.9" cy="298" r="1.15" fill="#c21d3c"/>
<circle cx="350.7" cy="296.3" r="1.15" fill="#c21d3c"/>
<circle cx="352.3" cy="297.2" r="1.15" fill="#c21d3c"/>
<circle cx="359.7" cy="295.5" r="1.15" fill="#c21d3c"/>
<circle cx="360.5" cy="296.3" r="1.15" fill="#c21d3c"/>
<circle cx="355.3" cy="299.6" r="1.15" fill="#c21d3c"/>
<circle cx="354" cy="301.2" r="1.15" fill="#c21d3c"/>
<circle cx="344.5" cy="302.1" r="1.15" fill="#c21d3c"/>
<circle cx="358.1" cy="302.9" r="1.15" fill="#c21d3c"/>
<circle cx="367.9" cy="303.7" r="1.15" fill="#c21d3c"/>
<circle cx="352.3" cy="305.3" r="1.15" fill="#c21d3c"/>
<circle cx="361.3" cy="305.3" r="1.15" fill="#c21d3c"/>
<circle cx="342.5" cy="306.2" r="1.15" fill="#c21d3c"/>
<circle cx="347.4" cy="307" r="1.15" fill="#c21d3c"/>
<circle cx="364.6" cy="307.8" r="1.15" fill="#c21d3c"/>
<circle cx="384.2" cy="307" r="1.15" fill="#c21d3c"/>
<circle cx="391.9" cy="309.4" r="1.15" fill="#c21d3c"/>
<circle cx="340.9" cy="310.2" r="1.15" fill="#c21d3c"/>
<circle cx="343.4" cy="311.1" r="1.15" fill="#c21d3c"/>
<circle cx="346.6" cy="309.8" r="1.15" fill="#c21d3c"/>
<circle cx="349.1" cy="311.1" r="1.15" fill="#c21d3c"/>
<circle cx="356.4" cy="310.2" r="1.15" fill="#c21d3c"/>
<circle cx="358.9" cy="311.9" r="1.15" fill="#c21d3c"/>
<circle cx="361.3" cy="311.9" r="1.15" fill="#c21d3c"/>
<circle cx="367.1" cy="311.9" r="1.15" fill="#c21d3c"/>
<circle cx="344.2" cy="314.3" r="1.15" fill="#c21d3c"/>
<circle cx="348.3" cy="314.3" r="1.15" fill="#c21d3c"/>
<circle cx="351.5" cy="314.3" r="1.15" fill="#c21d3c"/>
<circle cx="354" cy="315.1" r="1.15" fill="#c21d3c"/>
<circle cx="357.2" cy="314.3" r="1.15" fill="#c21d3c"/>
<circle cx="372" cy="315.1" r="1.15" fill="#c21d3c"/>
<circle cx="342.5" cy="316.8" r="1.15" fill="#c21d3c"/>
<circle cx="345.8" cy="317.3" r="1.15" fill="#c21d3c"/>
<circle cx="349.9" cy="316.8" r="1.15" fill="#c21d3c"/>
<circle cx="353.2" cy="316.8" r="1.15" fill="#c21d3c"/>
<circle cx="358.9" cy="318.4" r="1.15" fill="#c21d3c"/>
<circle cx="363" cy="318.9" r="1.15" fill="#c21d3c"/>
<circle cx="379.3" cy="318.4" r="1.15" fill="#c21d3c"/>
<circle cx="392.4" cy="316.8" r="1.15" fill="#c21d3c"/>
<circle cx="395.2" cy="317.3" r="1.15" fill="#c21d3c"/>
<circle cx="341.7" cy="320" r="1.15" fill="#c21d3c"/>
<circle cx="343.4" cy="321.7" r="1.15" fill="#c21d3c"/>
<circle cx="347.4" cy="320.5" r="1.15" fill="#c21d3c"/>
<circle cx="349.1" cy="321.7" r="1.15" fill="#c21d3c"/>
<circle cx="352.3" cy="320" r="1.15" fill="#c21d3c"/>
<circle cx="355.6" cy="320" r="1.15" fill="#c21d3c"/>
<circle cx="363.8" cy="320.9" r="1.15" fill="#c21d3c"/>
<circle cx="378.5" cy="320" r="1.15" fill="#c21d3c"/>
<circle cx="340.9" cy="324.1" r="1.15" fill="#c21d3c"/>
<circle cx="343.4" cy="325" r="1.15" fill="#c21d3c"/>
<circle cx="345" cy="324.1" r="1.15" fill="#c21d3c"/>
<circle cx="348.3" cy="324.1" r="1.15" fill="#c21d3c"/>
<circle cx="350.7" cy="323.3" r="1.15" fill="#c21d3c"/>
<circle cx="354.8" cy="324.1" r="1.15" fill="#c21d3c"/>
<circle cx="363" cy="324.1" r="1.15" fill="#c21d3c"/>
<circle cx="375.2" cy="323.3" r="1.15" fill="#c21d3c"/>
<circle cx="341.7" cy="326.6" r="1.15" fill="#c21d3c"/>
<circle cx="344.2" cy="325.8" r="1.15" fill="#c21d3c"/>
<circle cx="349.9" cy="327.4" r="1.15" fill="#c21d3c"/>
<circle cx="355.6" cy="326.6" r="1.15" fill="#c21d3c"/>
<circle cx="357.2" cy="327.7" r="1.15" fill="#c21d3c"/>
<circle cx="367.9" cy="325.8" r="1.15" fill="#c21d3c"/>
<circle cx="373.6" cy="327.1" r="1.15" fill="#c21d3c"/>
<circle cx="347.4" cy="329" r="1.15" fill="#c21d3c"/>
<circle cx="350.7" cy="329.9" r="1.15" fill="#c21d3c"/>
<circle cx="353.2" cy="329" r="1.15" fill="#c21d3c"/>
<circle cx="348.3" cy="331.5" r="1.15" fill="#c21d3c"/>
<circle cx="351.5" cy="332.3" r="1.15" fill="#c21d3c"/>
<circle cx="354" cy="331" r="1.15" fill="#c21d3c"/>
<circle cx="355.6" cy="333.6" r="1.15" fill="#c21d3c"/>
<circle cx="368.7" cy="333.1" r="1.15" fill="#c21d3c"/>
<circle cx="350.7" cy="335.6" r="1.15" fill="#c21d3c"/>
<circle cx="353.2" cy="337.5" r="1.15" fill="#c21d3c"/>
<circle cx="351" cy="340.8" r="1.15" fill="#c21d3c"/>
<line x1="341.25" y1="318.75" x2="411.25" y2="305.5" stroke="#333" stroke-width="0.8"/>
<text x="338.4" y="276.2" font-size="6.6" text-anchor="start" fill="#222">R: 0.2251</text>
<text x="338.4" y="283.7" font-size="6.6" fill="#222"><tspan font-style="italic">P</tspan> = .0275</text>
<text x="378.1" y="389.9" font-size="8.3" text-anchor="middle" fill="#333" stroke="none" font-weight="bold" textLength="28.7" lengthAdjust="spacingAndGlyphs">MFI HLA-C</text>
<text transform="translate(307.14 313.1) rotate(-90)" x="0" y="0" font-size="7.6" text-anchor="middle" fill="#333" stroke="none" font-weight="bold" textLength="28.3" lengthAdjust="spacingAndGlyphs">MFI HLA-E</text>
<line x1="54.3" y1="410.1" x2="54.3" y2="514.65" stroke="#161616" stroke-width="1.15"/>
<line x1="53.8" y1="514.15" x2="204.5" y2="514.15" stroke="#161616" stroke-width="1.15"/>
<line x1="51.4" y1="514.15" x2="54.3" y2="514.15" stroke="#222" stroke-width="1.0"/>
<text x="48" y="516.38" font-size="6.2" text-anchor="end" fill="#1a1a1a">0</text>
<line x1="51.4" y1="493.94" x2="54.3" y2="493.94" stroke="#222" stroke-width="1.0"/>
<text x="48" y="496.17" font-size="6.2" text-anchor="end" fill="#1a1a1a">1000</text>
<line x1="51.4" y1="473.73" x2="54.3" y2="473.73" stroke="#222" stroke-width="1.0"/>
<text x="48" y="475.96" font-size="6.2" text-anchor="end" fill="#1a1a1a">2000</text>
<line x1="51.4" y1="453.52" x2="54.3" y2="453.52" stroke="#222" stroke-width="1.0"/>
<text x="48" y="455.75" font-size="6.2" text-anchor="end" fill="#1a1a1a">3000</text>
<line x1="51.4" y1="433.31" x2="54.3" y2="433.31" stroke="#222" stroke-width="1.0"/>
<text x="48" y="435.54" font-size="6.2" text-anchor="end" fill="#1a1a1a">4000</text>
<line x1="51.4" y1="413.1" x2="54.3" y2="413.1" stroke="#222" stroke-width="1.0"/>
<text x="48" y="415.33" font-size="6.2" text-anchor="end" fill="#1a1a1a">5000</text>
<line x1="60.9" y1="514.15" x2="60.9" y2="516.65" stroke="#2b2b2b" stroke-width="0.9"/>
<circle cx="60.9" cy="462.88" r="1.15" fill="#361549"/>
<circle cx="60.9" cy="468" r="1.15" fill="#361549"/>
<circle cx="60.9" cy="473.89" r="1.15" fill="#361549"/>
<circle cx="60.9" cy="475.83" r="1.15" fill="#361549"/>
<circle cx="60.9" cy="478.08" r="1.15" fill="#361549"/>
<circle cx="60.9" cy="480.09" r="1.15" fill="#361549"/>
<circle cx="60.9" cy="483.09" r="1.15" fill="#361549"/>
<circle cx="60.9" cy="488.19" r="1.15" fill="#361549"/>
<circle cx="60.9" cy="490.26" r="1.15" fill="#361549"/>
<line x1="57.5" y1="477.81" x2="64.3" y2="477.81" stroke="#444" stroke-width="0.9"/>
<line x1="60.9" y1="475.01" x2="60.9" y2="480.61" stroke="#444" stroke-width="0.9"/>
<line x1="59" y1="475.01" x2="62.8" y2="475.01" stroke="#444" stroke-width="0.9"/>
<line x1="59" y1="480.61" x2="62.8" y2="480.61" stroke="#444" stroke-width="0.9"/>
<text transform="translate(64.4 525.05) rotate(-45)" x="0" y="0" font-size="6.5" text-anchor="end" fill="#1a1a1a">C05</text>
<line x1="71.4" y1="514.15" x2="71.4" y2="516.65" stroke="#2b2b2b" stroke-width="0.9"/>
<circle cx="71.4" cy="452.91" r="1.15" fill="#361549"/>
<circle cx="71.4" cy="460.26" r="1.15" fill="#361549"/>
<circle cx="71.4" cy="464.57" r="1.15" fill="#361549"/>
<circle cx="69" cy="466.21" r="1.15" fill="#361549"/>
<circle cx="71.4" cy="468.99" r="1.15" fill="#361549"/>
<circle cx="69" cy="470.32" r="1.15" fill="#361549"/>
<circle cx="71.4" cy="471.75" r="1.15" fill="#361549"/>
<circle cx="73.8" cy="472.1" r="1.15" fill="#361549"/>
<circle cx="71.4" cy="473.98" r="1.15" fill="#361549"/>
<circle cx="69" cy="474.67" r="1.15" fill="#361549"/>
<circle cx="71.4" cy="476.14" r="1.15" fill="#361549"/>
<circle cx="69" cy="477.31" r="1.15" fill="#361549"/>
<circle cx="71.4" cy="478.46" r="1.15" fill="#361549"/>
<circle cx="69" cy="479.22" r="1.15" fill="#361549"/>
<circle cx="71.4" cy="480.67" r="1.15" fill="#361549"/>
<circle cx="69" cy="481.53" r="1.15" fill="#361549"/>
<circle cx="71.4" cy="482.98" r="1.15" fill="#361549"/>
<circle cx="71.4" cy="486.09" r="1.15" fill="#361549"/>
<circle cx="71.4" cy="488" r="1.15" fill="#361549"/>
<circle cx="71.4" cy="490.26" r="1.15" fill="#361549"/>
<line x1="68" y1="474.82" x2="74.8" y2="474.82" stroke="#444" stroke-width="0.9"/>
<line x1="71.4" y1="472.78" x2="71.4" y2="476.86" stroke="#444" stroke-width="0.9"/>
<line x1="69.5" y1="472.78" x2="73.3" y2="472.78" stroke="#444" stroke-width="0.9"/>
<line x1="69.5" y1="476.86" x2="73.3" y2="476.86" stroke="#444" stroke-width="0.9"/>
<text transform="translate(74.9 525.05) rotate(-45)" x="0" y="0" font-size="6.5" text-anchor="end" fill="#1a1a1a">C06</text>
<line x1="81.9" y1="514.15" x2="81.9" y2="516.65" stroke="#2b2b2b" stroke-width="0.9"/>
<circle cx="81.9" cy="444.22" r="1.15" fill="#361549"/>
<circle cx="81.9" cy="463.37" r="1.15" fill="#361549"/>
<circle cx="81.9" cy="468.27" r="1.15" fill="#361549"/>
<circle cx="81.9" cy="471.92" r="1.15" fill="#361549"/>
<circle cx="81.9" cy="476.67" r="1.15" fill="#361549"/>
<circle cx="81.9" cy="478.79" r="1.15" fill="#361549"/>
<circle cx="81.9" cy="484.17" r="1.15" fill="#361549"/>
<circle cx="84.3" cy="485.29" r="1.15" fill="#361549"/>
<line x1="78.5" y1="471.59" x2="85.3" y2="471.59" stroke="#444" stroke-width="0.9"/>
<line x1="81.9" y1="467.17" x2="81.9" y2="476.01" stroke="#444" stroke-width="0.9"/>
<line x1="80" y1="467.17" x2="83.8" y2="467.17" stroke="#444" stroke-width="0.9"/>
<line x1="80" y1="476.01" x2="83.8" y2="476.01" stroke="#444" stroke-width="0.9"/>
<text transform="translate(85.4 525.05) rotate(-45)" x="0" y="0" font-size="6.5" text-anchor="end" fill="#1a1a1a">C17</text>
<line x1="92.4" y1="514.15" x2="92.4" y2="516.65" stroke="#2b2b2b" stroke-width="0.9"/>
<circle cx="92.4" cy="467.36" r="1.15" fill="#361549"/>
<circle cx="92.4" cy="471.59" r="1.15" fill="#361549"/>
<line x1="89" y1="470.84" x2="95.8" y2="470.84" stroke="#444" stroke-width="0.9"/>
<line x1="92.4" y1="469.35" x2="92.4" y2="472.33" stroke="#444" stroke-width="0.9"/>
<line x1="90.5" y1="469.35" x2="94.3" y2="469.35" stroke="#444" stroke-width="0.9"/>
<line x1="90.5" y1="472.33" x2="94.3" y2="472.33" stroke="#444" stroke-width="0.9"/>
<text transform="translate(95.9 525.05) rotate(-45)" x="0" y="0" font-size="6.5" text-anchor="end" fill="#1a1a1a">C16:02</text>
<line x1="102.9" y1="514.15" x2="102.9" y2="516.65" stroke="#2b2b2b" stroke-width="0.9"/>
<circle cx="102.9" cy="428.04" r="1.15" fill="#361549"/>
<circle cx="102.9" cy="435.18" r="1.15" fill="#361549"/>
<circle cx="102.9" cy="447.47" r="1.15" fill="#361549"/>
<circle cx="102.9" cy="451.43" r="1.15" fill="#361549"/>
<circle cx="100.5" cy="452.88" r="1.15" fill="#361549"/>
<circle cx="102.9" cy="455.21" r="1.15" fill="#361549"/>
<circle cx="102.9" cy="457.42" r="1.15" fill="#361549"/>
<circle cx="102.9" cy="459.71" r="1.15" fill="#361549"/>
<circle cx="100.5" cy="460.63" r="1.15" fill="#361549"/>
<circle cx="102.9" cy="462.44" r="1.15" fill="#361549"/>
<circle cx="100.5" cy="463.65" r="1.15" fill="#361549"/>
<circle cx="102.9" cy="464.61" r="1.15" fill="#361549"/>
<circle cx="100.5" cy="465.86" r="1.15" fill="#361549"/>
<circle cx="102.9" cy="467.05" r="1.15" fill="#361549"/>
<circle cx="100.5" cy="467.97" r="1.15" fill="#361549"/>
<circle cx="102.9" cy="469.06" r="1.15" fill="#361549"/>
<circle cx="100.5" cy="470.38" r="1.15" fill="#361549"/>
<circle cx="102.9" cy="471.38" r="1.15" fill="#361549"/>
<circle cx="100.5" cy="472.27" r="1.15" fill="#361549"/>
<circle cx="105.3" cy="473.09" r="1.15" fill="#361549"/>
<circle cx="102.9" cy="474.32" r="1.15" fill="#361549"/>
<circle cx="105.3" cy="475.66" r="1.15" fill="#361549"/>
<circle cx="102.9" cy="476.45" r="1.15" fill="#361549"/>
<circle cx="105.3" cy="478.03" r="1.15" fill="#361549"/>
<circle cx="102.9" cy="478.46" r="1.15" fill="#361549"/>
<circle cx="102.9" cy="480.31" r="1.15" fill="#361549"/>
<circle cx="100.5" cy="481.7" r="1.15" fill="#361549"/>
<circle cx="102.9" cy="482.17" r="1.15" fill="#361549"/>
<circle cx="100.5" cy="483.61" r="1.15" fill="#361549"/>
<circle cx="102.9" cy="485.52" r="1.15" fill="#361549"/>
<circle cx="100.5" cy="487.28" r="1.15" fill="#361549"/>
<circle cx="102.9" cy="488.35" r="1.15" fill="#361549"/>
<circle cx="100.5" cy="490.11" r="1.15" fill="#361549"/>
<circle cx="102.9" cy="492.27" r="1.15" fill="#361549"/>
<circle cx="102.9" cy="494.75" r="1.15" fill="#361549"/>
<line x1="99.5" y1="469.85" x2="106.3" y2="469.85" stroke="#444" stroke-width="0.9"/>
<line x1="102.9" y1="467.29" x2="102.9" y2="472.41" stroke="#444" stroke-width="0.9"/>
<line x1="101" y1="467.29" x2="104.8" y2="467.29" stroke="#444" stroke-width="0.9"/>
<line x1="101" y1="472.41" x2="104.8" y2="472.41" stroke="#444" stroke-width="0.9"/>
<text transform="translate(106.4 525.05) rotate(-45)" x="0" y="0" font-size="6.5" text-anchor="end" fill="#1a1a1a">C04</text>
<line x1="113.4" y1="514.15" x2="113.4" y2="516.65" stroke="#2b2b2b" stroke-width="0.9"/>
<circle cx="113.4" cy="440.48" r="1.15" fill="#361549"/>
<circle cx="113.4" cy="447.26" r="1.15" fill="#361549"/>
<circle cx="113.4" cy="456.88" r="1.15" fill="#361549"/>
<circle cx="113.4" cy="461.45" r="1.15" fill="#361549"/>
<circle cx="113.4" cy="464.29" r="1.15" fill="#361549"/>
<circle cx="113.4" cy="466.29" r="1.15" fill="#361549"/>
<circle cx="113.4" cy="470.33" r="1.15" fill="#361549"/>
<circle cx="111" cy="471.8" r="1.15" fill="#361549"/>
<circle cx="113.4" cy="475.46" r="1.15" fill="#361549"/>
<circle cx="113.4" cy="481.01" r="1.15" fill="#361549"/>
<circle cx="113.4" cy="484.43" r="1.15" fill="#361549"/>
<circle cx="113.4" cy="494.75" r="1.15" fill="#361549"/>
<line x1="110" y1="467.87" x2="116.8" y2="467.87" stroke="#444" stroke-width="0.9"/>
<line x1="113.4" y1="463.62" x2="113.4" y2="472.12" stroke="#444" stroke-width="0.9"/>
<line x1="111.5" y1="463.62" x2="115.3" y2="463.62" stroke="#444" stroke-width="0.9"/>
<line x1="111.5" y1="472.12" x2="115.3" y2="472.12" stroke="#444" stroke-width="0.9"/>
<text transform="translate(116.9 525.05) rotate(-45)" x="0" y="0" font-size="6.5" text-anchor="end" fill="#1a1a1a">C02</text>
<line x1="123.9" y1="514.15" x2="123.9" y2="516.65" stroke="#2b2b2b" stroke-width="0.9"/>
<circle cx="123.9" cy="451.68" r="1.15" fill="#6d69ab"/>
<circle cx="123.9" cy="455.48" r="1.15" fill="#6d69ab"/>
<circle cx="123.9" cy="459.59" r="1.15" fill="#6d69ab"/>
<circle cx="123.9" cy="462.86" r="1.15" fill="#6d69ab"/>
<circle cx="126.3" cy="463.52" r="1.15" fill="#6d69ab"/>
<circle cx="123.9" cy="464.97" r="1.15" fill="#6d69ab"/>
<circle cx="123.9" cy="467.92" r="1.15" fill="#6d69ab"/>
<circle cx="121.5" cy="468.49" r="1.15" fill="#6d69ab"/>
<circle cx="123.9" cy="471.46" r="1.15" fill="#6d69ab"/>
<circle cx="123.9" cy="475.33" r="1.15" fill="#6d69ab"/>
<line x1="120.5" y1="464.13" x2="127.3" y2="464.13" stroke="#444" stroke-width="0.9"/>
<line x1="123.9" y1="461.97" x2="123.9" y2="466.29" stroke="#444" stroke-width="0.9"/>
<line x1="122" y1="461.97" x2="125.8" y2="461.97" stroke="#444" stroke-width="0.9"/>
<line x1="122" y1="466.29" x2="125.8" y2="466.29" stroke="#444" stroke-width="0.9"/>
<text transform="translate(127.4 525.05) rotate(-45)" x="0" y="0" font-size="6.5" text-anchor="end" fill="#1a1a1a">C08</text>
<line x1="134.4" y1="514.15" x2="134.4" y2="516.65" stroke="#2b2b2b" stroke-width="0.9"/>
<circle cx="134.4" cy="442.97" r="1.15" fill="#361549"/>
<circle cx="134.4" cy="450.82" r="1.15" fill="#361549"/>
<circle cx="134.4" cy="456.57" r="1.15" fill="#361549"/>
<circle cx="134.4" cy="459.96" r="1.15" fill="#361549"/>
<circle cx="136.8" cy="461.2" r="1.15" fill="#361549"/>
<circle cx="134.4" cy="462.71" r="1.15" fill="#361549"/>
<circle cx="134.4" cy="465.57" r="1.15" fill="#361549"/>
<circle cx="132" cy="466.96" r="1.15" fill="#361549"/>
<circle cx="134.4" cy="468.38" r="1.15" fill="#361549"/>
<circle cx="132" cy="469.85" r="1.15" fill="#361549"/>
<circle cx="134.4" cy="471.23" r="1.15" fill="#361549"/>
<circle cx="134.4" cy="474.07" r="1.15" fill="#361549"/>
<circle cx="134.4" cy="478.22" r="1.15" fill="#361549"/>
<circle cx="136.8" cy="479.79" r="1.15" fill="#361549"/>
<line x1="131" y1="464.88" x2="137.8" y2="464.88" stroke="#444" stroke-width="0.9"/>
<line x1="134.4" y1="462.25" x2="134.4" y2="467.51" stroke="#444" stroke-width="0.9"/>
<line x1="132.5" y1="462.25" x2="136.3" y2="462.25" stroke="#444" stroke-width="0.9"/>
<line x1="132.5" y1="467.51" x2="136.3" y2="467.51" stroke="#444" stroke-width="0.9"/>
<text transform="translate(137.9 525.05) rotate(-45)" x="0" y="0" font-size="6.5" text-anchor="end" fill="#1a1a1a">C15</text>
<line x1="144.9" y1="514.15" x2="144.9" y2="516.65" stroke="#2b2b2b" stroke-width="0.9"/>
<circle cx="144.9" cy="444.22" r="1.15" fill="#6d69ab"/>
<circle cx="144.9" cy="460.55" r="1.15" fill="#6d69ab"/>
<circle cx="144.9" cy="463.32" r="1.15" fill="#6d69ab"/>
<circle cx="144.9" cy="466.63" r="1.15" fill="#6d69ab"/>
<circle cx="144.9" cy="470.95" r="1.15" fill="#6d69ab"/>
<circle cx="147.3" cy="471.59" r="1.15" fill="#6d69ab"/>
<line x1="141.5" y1="462.88" x2="148.3" y2="462.88" stroke="#444" stroke-width="0.9"/>
<line x1="144.9" y1="459.12" x2="144.9" y2="466.64" stroke="#444" stroke-width="0.9"/>
<line x1="143" y1="459.12" x2="146.8" y2="459.12" stroke="#444" stroke-width="0.9"/>
<line x1="143" y1="466.64" x2="146.8" y2="466.64" stroke="#444" stroke-width="0.9"/>
<text transform="translate(148.4 525.05) rotate(-45)" x="0" y="0" font-size="6.5" text-anchor="end" fill="#1a1a1a">C01</text>
<line x1="155.4" y1="514.15" x2="155.4" y2="516.65" stroke="#2b2b2b" stroke-width="0.9"/>
<circle cx="155.4" cy="435.49" r="1.15" fill="#6d69ab"/>
<circle cx="155.4" cy="448.18" r="1.15" fill="#6d69ab"/>
<circle cx="155.4" cy="452.79" r="1.15" fill="#6d69ab"/>
<circle cx="155.4" cy="457.39" r="1.15" fill="#6d69ab"/>
<circle cx="155.4" cy="460.17" r="1.15" fill="#6d69ab"/>
<circle cx="153" cy="461.95" r="1.15" fill="#6d69ab"/>
<circle cx="155.4" cy="465.3" r="1.15" fill="#6d69ab"/>
<circle cx="155.4" cy="468.6" r="1.15" fill="#6d69ab"/>
<circle cx="157.8" cy="470.35" r="1.15" fill="#6d69ab"/>
<circle cx="155.4" cy="473.72" r="1.15" fill="#6d69ab"/>
<circle cx="155.4" cy="479.04" r="1.15" fill="#6d69ab"/>
<circle cx="155.4" cy="481.55" r="1.15" fill="#6d69ab"/>
<line x1="152" y1="462.88" x2="158.8" y2="462.88" stroke="#444" stroke-width="0.9"/>
<line x1="155.4" y1="459.22" x2="155.4" y2="466.54" stroke="#444" stroke-width="0.9"/>
<line x1="153.5" y1="459.22" x2="157.3" y2="459.22" stroke="#444" stroke-width="0.9"/>
<line x1="153.5" y1="466.54" x2="157.3" y2="466.54" stroke="#444" stroke-width="0.9"/>
<text transform="translate(158.9 525.05) rotate(-45)" x="0" y="0" font-size="6.5" text-anchor="end" fill="#1a1a1a">C03</text>
<line x1="165.9" y1="514.15" x2="165.9" y2="516.65" stroke="#2b2b2b" stroke-width="0.9"/>
<circle cx="165.9" cy="428.04" r="1.15" fill="#6d69ab"/>
<circle cx="165.9" cy="433.08" r="1.15" fill="#6d69ab"/>
<circle cx="165.9" cy="442.32" r="1.15" fill="#6d69ab"/>
<circle cx="165.9" cy="446.61" r="1.15" fill="#6d69ab"/>
<circle cx="168.3" cy="448.24" r="1.15" fill="#6d69ab"/>
<circle cx="165.9" cy="449.85" r="1.15" fill="#6d69ab"/>
<circle cx="168.3" cy="451.36" r="1.15" fill="#6d69ab"/>
<circle cx="165.9" cy="453.27" r="1.15" fill="#6d69ab"/>
<circle cx="168.3" cy="454.64" r="1.15" fill="#6d69ab"/>
<circle cx="165.9" cy="455.85" r="1.15" fill="#6d69ab"/>
<circle cx="168.3" cy="456.6" r="1.15" fill="#6d69ab"/>
<circle cx="165.9" cy="457.7" r="1.15" fill="#6d69ab"/>
<circle cx="168.3" cy="458.83" r="1.15" fill="#6d69ab"/>
<circle cx="165.9" cy="459.73" r="1.15" fill="#6d69ab"/>
<circle cx="163.5" cy="460.61" r="1.15" fill="#6d69ab"/>
<circle cx="165.9" cy="461.92" r="1.15" fill="#6d69ab"/>
<circle cx="168.3" cy="462.29" r="1.15" fill="#6d69ab"/>
<circle cx="163.5" cy="463.31" r="1.15" fill="#6d69ab"/>
<circle cx="165.9" cy="464.87" r="1.15" fill="#6d69ab"/>
<circle cx="163.5" cy="465.63" r="1.15" fill="#6d69ab"/>
<circle cx="168.3" cy="466.56" r="1.15" fill="#6d69ab"/>
<circle cx="165.9" cy="467.89" r="1.15" fill="#6d69ab"/>
<circle cx="168.3" cy="468.57" r="1.15" fill="#6d69ab"/>
<circle cx="165.9" cy="469.97" r="1.15" fill="#6d69ab"/>
<circle cx="168.3" cy="471.01" r="1.15" fill="#6d69ab"/>
<circle cx="165.9" cy="472.63" r="1.15" fill="#6d69ab"/>
<circle cx="168.3" cy="473.44" r="1.15" fill="#6d69ab"/>
<circle cx="165.9" cy="475.77" r="1.15" fill="#6d69ab"/>
<circle cx="168.3" cy="476.94" r="1.15" fill="#6d69ab"/>
<circle cx="165.9" cy="479.07" r="1.15" fill="#6d69ab"/>
<line x1="162.5" y1="459.89" x2="169.3" y2="459.89" stroke="#444" stroke-width="0.9"/>
<line x1="165.9" y1="457.68" x2="165.9" y2="462.09" stroke="#444" stroke-width="0.9"/>
<line x1="164" y1="457.68" x2="167.8" y2="457.68" stroke="#444" stroke-width="0.9"/>
<line x1="164" y1="462.09" x2="167.8" y2="462.09" stroke="#444" stroke-width="0.9"/>
<text transform="translate(169.4 525.05) rotate(-45)" x="0" y="0" font-size="6.5" text-anchor="end" fill="#1a1a1a">C07</text>
<line x1="176.4" y1="514.15" x2="176.4" y2="516.65" stroke="#2b2b2b" stroke-width="0.9"/>
<circle cx="176.4" cy="440.48" r="1.15" fill="#6d69ab"/>
<circle cx="176.4" cy="447.5" r="1.15" fill="#6d69ab"/>
<circle cx="176.4" cy="450.94" r="1.15" fill="#6d69ab"/>
<circle cx="176.4" cy="454.19" r="1.15" fill="#6d69ab"/>
<circle cx="176.4" cy="456.48" r="1.15" fill="#6d69ab"/>
<circle cx="174" cy="457.82" r="1.15" fill="#6d69ab"/>
<circle cx="176.4" cy="460.21" r="1.15" fill="#6d69ab"/>
<circle cx="176.4" cy="462.15" r="1.15" fill="#6d69ab"/>
<circle cx="178.8" cy="463.6" r="1.15" fill="#6d69ab"/>
<circle cx="176.4" cy="468.14" r="1.15" fill="#6d69ab"/>
<circle cx="176.4" cy="470.34" r="1.15" fill="#6d69ab"/>
<circle cx="176.4" cy="477.81" r="1.15" fill="#6d69ab"/>
<line x1="173" y1="459.14" x2="179.8" y2="459.14" stroke="#444" stroke-width="0.9"/>
<line x1="176.4" y1="456.29" x2="176.4" y2="461.99" stroke="#444" stroke-width="0.9"/>
<line x1="174.5" y1="456.29" x2="178.3" y2="456.29" stroke="#444" stroke-width="0.9"/>
<line x1="174.5" y1="461.99" x2="178.3" y2="461.99" stroke="#444" stroke-width="0.9"/>
<text transform="translate(179.9 525.05) rotate(-45)" x="0" y="0" font-size="6.5" text-anchor="end" fill="#1a1a1a">C12</text>
<line x1="186.9" y1="514.15" x2="186.9" y2="516.65" stroke="#2b2b2b" stroke-width="0.9"/>
<circle cx="186.9" cy="446.71" r="1.15" fill="#6d69ab"/>
<circle cx="186.9" cy="453.19" r="1.15" fill="#6d69ab"/>
<circle cx="186.9" cy="457.7" r="1.15" fill="#6d69ab"/>
<circle cx="186.9" cy="460.48" r="1.15" fill="#6d69ab"/>
<circle cx="186.9" cy="464.4" r="1.15" fill="#6d69ab"/>
<circle cx="186.9" cy="467.87" r="1.15" fill="#6d69ab"/>
<line x1="183.5" y1="458.39" x2="190.3" y2="458.39" stroke="#444" stroke-width="0.9"/>
<line x1="186.9" y1="455.53" x2="186.9" y2="461.25" stroke="#444" stroke-width="0.9"/>
<line x1="185" y1="455.53" x2="188.8" y2="455.53" stroke="#444" stroke-width="0.9"/>
<line x1="185" y1="461.25" x2="188.8" y2="461.25" stroke="#444" stroke-width="0.9"/>
<text transform="translate(190.4 525.05) rotate(-45)" x="0" y="0" font-size="6.5" text-anchor="end" fill="#1a1a1a">C16:01</text>
<line x1="197.4" y1="514.15" x2="197.4" y2="516.65" stroke="#2b2b2b" stroke-width="0.9"/>
<circle cx="197.4" cy="437.49" r="1.15" fill="#6d69ab"/>
<circle cx="197.4" cy="459.87" r="1.15" fill="#6d69ab"/>
<circle cx="197.4" cy="470.35" r="1.15" fill="#6d69ab"/>
<line x1="194" y1="455.9" x2="200.8" y2="455.9" stroke="#444" stroke-width="0.9"/>
<line x1="197.4" y1="447.99" x2="197.4" y2="463.82" stroke="#444" stroke-width="0.9"/>
<line x1="195.5" y1="447.99" x2="199.3" y2="447.99" stroke="#444" stroke-width="0.9"/>
<line x1="195.5" y1="463.82" x2="199.3" y2="463.82" stroke="#444" stroke-width="0.9"/>
<text transform="translate(200.9 525.05) rotate(-45)" x="0" y="0" font-size="6.5" text-anchor="end" fill="#1a1a1a">C14</text>
<text x="39.7" y="526" font-size="6.4" text-anchor="middle" fill="#1a1a1a">HLA-C</text>
<text transform="translate(27.79 461.9) rotate(-90)" x="0" y="0" font-size="7.6" text-anchor="middle" fill="#333" stroke="none" font-weight="bold" textLength="27.7" lengthAdjust="spacingAndGlyphs">MFI HLA-E</text>
<line x1="256.9" y1="410.1" x2="256.9" y2="514.65" stroke="#161616" stroke-width="1.15"/>
<line x1="256.4" y1="514.15" x2="408" y2="514.15" stroke="#161616" stroke-width="1.15"/>
<line x1="254" y1="514.15" x2="256.9" y2="514.15" stroke="#222" stroke-width="1.0"/>
<text x="250.6" y="516.38" font-size="6.2" text-anchor="end" fill="#1a1a1a">0</text>
<line x1="254" y1="493.94" x2="256.9" y2="493.94" stroke="#222" stroke-width="1.0"/>
<text x="250.6" y="496.17" font-size="6.2" text-anchor="end" fill="#1a1a1a">10000</text>
<line x1="254" y1="473.73" x2="256.9" y2="473.73" stroke="#222" stroke-width="1.0"/>
<text x="250.6" y="475.96" font-size="6.2" text-anchor="end" fill="#1a1a1a">20000</text>
<line x1="254" y1="453.52" x2="256.9" y2="453.52" stroke="#222" stroke-width="1.0"/>
<text x="250.6" y="455.75" font-size="6.2" text-anchor="end" fill="#1a1a1a">30000</text>
<line x1="254" y1="433.31" x2="256.9" y2="433.31" stroke="#222" stroke-width="1.0"/>
<text x="250.6" y="435.54" font-size="6.2" text-anchor="end" fill="#1a1a1a">40000</text>
<line x1="254" y1="413.1" x2="256.9" y2="413.1" stroke="#222" stroke-width="1.0"/>
<text x="250.6" y="415.33" font-size="6.2" text-anchor="end" fill="#1a1a1a">50000</text>
<line x1="263.75" y1="514.15" x2="263.75" y2="516.65" stroke="#2b2b2b" stroke-width="0.9"/>
<circle cx="263.75" cy="432.4" r="1.15" fill="#361549"/>
<circle cx="263.75" cy="449.2" r="1.15" fill="#361549"/>
<circle cx="263.75" cy="451.9" r="1.15" fill="#361549"/>
<circle cx="263.75" cy="457.17" r="1.15" fill="#361549"/>
<circle cx="266.15" cy="458.7" r="1.15" fill="#361549"/>
<circle cx="263.75" cy="462.67" r="1.15" fill="#361549"/>
<circle cx="263.75" cy="466.65" r="1.15" fill="#361549"/>
<circle cx="266.15" cy="467.26" r="1.15" fill="#361549"/>
<line x1="260.35" y1="455.74" x2="267.15" y2="455.74" stroke="#444" stroke-width="0.9"/>
<line x1="263.75" y1="451.97" x2="263.75" y2="459.52" stroke="#444" stroke-width="0.9"/>
<line x1="261.85" y1="451.97" x2="265.65" y2="451.97" stroke="#444" stroke-width="0.9"/>
<line x1="261.85" y1="459.52" x2="265.65" y2="459.52" stroke="#444" stroke-width="0.9"/>
<text transform="translate(267.25 525.05) rotate(-45)" x="0" y="0" font-size="6.5" text-anchor="end" fill="#1a1a1a">C05</text>
<line x1="274.25" y1="514.15" x2="274.25" y2="516.65" stroke="#2b2b2b" stroke-width="0.9"/>
<circle cx="274.25" cy="445.54" r="1.15" fill="#361549"/>
<circle cx="274.25" cy="449.29" r="1.15" fill="#361549"/>
<circle cx="274.25" cy="452.48" r="1.15" fill="#361549"/>
<circle cx="271.85" cy="454.25" r="1.15" fill="#361549"/>
<circle cx="274.25" cy="459.24" r="1.15" fill="#361549"/>
<circle cx="274.25" cy="462.76" r="1.15" fill="#361549"/>
<line x1="270.85" y1="453.92" x2="277.65" y2="453.92" stroke="#444" stroke-width="0.9"/>
<line x1="274.25" y1="451.57" x2="274.25" y2="456.28" stroke="#444" stroke-width="0.9"/>
<line x1="272.35" y1="451.57" x2="276.15" y2="451.57" stroke="#444" stroke-width="0.9"/>
<line x1="272.35" y1="456.28" x2="276.15" y2="456.28" stroke="#444" stroke-width="0.9"/>
<text transform="translate(277.75 525.05) rotate(-45)" x="0" y="0" font-size="6.5" text-anchor="end" fill="#1a1a1a">C17</text>
<line x1="284.75" y1="514.15" x2="284.75" y2="516.65" stroke="#2b2b2b" stroke-width="0.9"/>
<circle cx="284.75" cy="423.39" r="1.15" fill="#361549"/>
<circle cx="284.75" cy="430.41" r="1.15" fill="#361549"/>
<circle cx="284.75" cy="434.99" r="1.15" fill="#361549"/>
<circle cx="287.15" cy="436.09" r="1.15" fill="#361549"/>
<circle cx="284.75" cy="438.09" r="1.15" fill="#361549"/>
<circle cx="287.15" cy="439.81" r="1.15" fill="#361549"/>
<circle cx="284.75" cy="442.24" r="1.15" fill="#361549"/>
<circle cx="287.15" cy="443.27" r="1.15" fill="#361549"/>
<circle cx="282.35" cy="443.89" r="1.15" fill="#361549"/>
<circle cx="284.75" cy="445.33" r="1.15" fill="#361549"/>
<circle cx="282.35" cy="446.53" r="1.15" fill="#361549"/>
<circle cx="284.75" cy="447.5" r="1.15" fill="#361549"/>
<circle cx="282.35" cy="448.59" r="1.15" fill="#361549"/>
<circle cx="287.15" cy="449.01" r="1.15" fill="#361549"/>
<circle cx="284.75" cy="449.89" r="1.15" fill="#361549"/>
<circle cx="287.15" cy="450.93" r="1.15" fill="#361549"/>
<circle cx="284.75" cy="452.02" r="1.15" fill="#361549"/>
<circle cx="287.15" cy="452.73" r="1.15" fill="#361549"/>
<circle cx="282.35" cy="453.21" r="1.15" fill="#361549"/>
<circle cx="284.75" cy="454.3" r="1.15" fill="#361549"/>
<circle cx="287.15" cy="454.93" r="1.15" fill="#361549"/>
<circle cx="282.35" cy="455.97" r="1.15" fill="#361549"/>
<circle cx="284.75" cy="456.94" r="1.15" fill="#361549"/>
<circle cx="287.15" cy="458.07" r="1.15" fill="#361549"/>
<circle cx="284.75" cy="458.78" r="1.15" fill="#361549"/>
<circle cx="287.15" cy="460.17" r="1.15" fill="#361549"/>
<circle cx="282.35" cy="460.53" r="1.15" fill="#361549"/>
<circle cx="284.75" cy="462.01" r="1.15" fill="#361549"/>
<circle cx="282.35" cy="462.68" r="1.15" fill="#361549"/>
<circle cx="284.75" cy="464.27" r="1.15" fill="#361549"/>
<circle cx="284.75" cy="466.36" r="1.15" fill="#361549"/>
<circle cx="287.15" cy="467.87" r="1.15" fill="#361549"/>
<circle cx="284.75" cy="469.63" r="1.15" fill="#361549"/>
<circle cx="284.75" cy="472.22" r="1.15" fill="#361549"/>
<circle cx="284.75" cy="475.29" r="1.15" fill="#361549"/>
<line x1="281.35" y1="452.23" x2="288.15" y2="452.23" stroke="#444" stroke-width="0.9"/>
<line x1="284.75" y1="450.23" x2="284.75" y2="454.22" stroke="#444" stroke-width="0.9"/>
<line x1="282.85" y1="450.23" x2="286.65" y2="450.23" stroke="#444" stroke-width="0.9"/>
<line x1="282.85" y1="454.22" x2="286.65" y2="454.22" stroke="#444" stroke-width="0.9"/>
<text transform="translate(288.25 525.05) rotate(-45)" x="0" y="0" font-size="6.5" text-anchor="end" fill="#1a1a1a">C04</text>
<line x1="295.25" y1="514.15" x2="295.25" y2="516.65" stroke="#2b2b2b" stroke-width="0.9"/>
<circle cx="295.25" cy="444.53" r="1.15" fill="#361549"/>
<circle cx="292.85" cy="445.06" r="1.15" fill="#361549"/>
<circle cx="295.25" cy="446.73" r="1.15" fill="#361549"/>
<circle cx="292.85" cy="448.2" r="1.15" fill="#361549"/>
<circle cx="295.25" cy="449.22" r="1.15" fill="#361549"/>
<circle cx="292.85" cy="450.64" r="1.15" fill="#361549"/>
<circle cx="295.25" cy="451.67" r="1.15" fill="#361549"/>
<circle cx="295.25" cy="453.57" r="1.15" fill="#361549"/>
<circle cx="297.65" cy="454.61" r="1.15" fill="#361549"/>
<circle cx="295.25" cy="456.06" r="1.15" fill="#361549"/>
<circle cx="295.25" cy="462.45" r="1.15" fill="#361549"/>
<circle cx="295.25" cy="469.79" r="1.15" fill="#361549"/>
<line x1="291.85" y1="452.71" x2="298.65" y2="452.71" stroke="#444" stroke-width="0.9"/>
<line x1="295.25" y1="450.67" x2="295.25" y2="454.75" stroke="#444" stroke-width="0.9"/>
<line x1="293.35" y1="450.67" x2="297.15" y2="450.67" stroke="#444" stroke-width="0.9"/>
<line x1="293.35" y1="454.75" x2="297.15" y2="454.75" stroke="#444" stroke-width="0.9"/>
<text transform="translate(298.75 525.05) rotate(-45)" x="0" y="0" font-size="6.5" text-anchor="end" fill="#1a1a1a">C02</text>
<line x1="305.75" y1="514.15" x2="305.75" y2="516.65" stroke="#2b2b2b" stroke-width="0.9"/>
<circle cx="305.75" cy="423.12" r="1.15" fill="#361549"/>
<circle cx="305.75" cy="432.42" r="1.15" fill="#361549"/>
<circle cx="305.75" cy="437.63" r="1.15" fill="#361549"/>
<circle cx="305.75" cy="440.77" r="1.15" fill="#361549"/>
<circle cx="308.15" cy="441.93" r="1.15" fill="#361549"/>
<circle cx="305.75" cy="444.06" r="1.15" fill="#361549"/>
<circle cx="308.15" cy="445.81" r="1.15" fill="#361549"/>
<circle cx="305.75" cy="448.01" r="1.15" fill="#361549"/>
<circle cx="305.75" cy="450.43" r="1.15" fill="#361549"/>
<circle cx="303.35" cy="452" r="1.15" fill="#361549"/>
<circle cx="305.75" cy="452.45" r="1.15" fill="#361549"/>
<circle cx="305.75" cy="455.05" r="1.15" fill="#361549"/>
<circle cx="308.15" cy="455.97" r="1.15" fill="#361549"/>
<circle cx="305.75" cy="458.15" r="1.15" fill="#361549"/>
<circle cx="308.15" cy="459.76" r="1.15" fill="#361549"/>
<circle cx="305.75" cy="462.39" r="1.15" fill="#361549"/>
<circle cx="308.15" cy="463.91" r="1.15" fill="#361549"/>
<circle cx="305.75" cy="468.23" r="1.15" fill="#361549"/>
<circle cx="305.75" cy="471.91" r="1.15" fill="#361549"/>
<circle cx="305.75" cy="475.29" r="1.15" fill="#361549"/>
<line x1="302.35" y1="451.96" x2="309.15" y2="451.96" stroke="#444" stroke-width="0.9"/>
<line x1="305.75" y1="449.07" x2="305.75" y2="454.86" stroke="#444" stroke-width="0.9"/>
<line x1="303.85" y1="449.07" x2="307.65" y2="449.07" stroke="#444" stroke-width="0.9"/>
<line x1="303.85" y1="454.86" x2="307.65" y2="454.86" stroke="#444" stroke-width="0.9"/>
<text transform="translate(309.25 525.05) rotate(-45)" x="0" y="0" font-size="6.5" text-anchor="end" fill="#1a1a1a">C06</text>
<line x1="316.25" y1="514.15" x2="316.25" y2="516.65" stroke="#2b2b2b" stroke-width="0.9"/>
<circle cx="316.25" cy="420.62" r="1.15" fill="#361549"/>
<circle cx="316.25" cy="433.72" r="1.15" fill="#361549"/>
<circle cx="316.25" cy="445.68" r="1.15" fill="#361549"/>
<circle cx="316.25" cy="447.51" r="1.15" fill="#361549"/>
<circle cx="316.25" cy="451.09" r="1.15" fill="#361549"/>
<circle cx="313.85" cy="452.4" r="1.15" fill="#361549"/>
<circle cx="316.25" cy="453.57" r="1.15" fill="#361549"/>
<circle cx="316.25" cy="456.32" r="1.15" fill="#361549"/>
<circle cx="318.65" cy="457.18" r="1.15" fill="#361549"/>
<circle cx="316.25" cy="459.26" r="1.15" fill="#361549"/>
<circle cx="318.65" cy="460.89" r="1.15" fill="#361549"/>
<circle cx="316.25" cy="462.39" r="1.15" fill="#361549"/>
<circle cx="316.25" cy="464.78" r="1.15" fill="#361549"/>
<circle cx="318.65" cy="465.75" r="1.15" fill="#361549"/>
<line x1="312.85" y1="452.23" x2="319.65" y2="452.23" stroke="#444" stroke-width="0.9"/>
<line x1="316.25" y1="449.02" x2="316.25" y2="455.44" stroke="#444" stroke-width="0.9"/>
<line x1="314.35" y1="449.02" x2="318.15" y2="449.02" stroke="#444" stroke-width="0.9"/>
<line x1="314.35" y1="455.44" x2="318.15" y2="455.44" stroke="#444" stroke-width="0.9"/>
<text transform="translate(319.75 525.05) rotate(-45)" x="0" y="0" font-size="6.5" text-anchor="end" fill="#1a1a1a">C15</text>
<line x1="326.75" y1="514.15" x2="326.75" y2="516.65" stroke="#2b2b2b" stroke-width="0.9"/>
<circle cx="326.75" cy="444.53" r="1.15" fill="#6d69ab"/>
<circle cx="326.75" cy="447.41" r="1.15" fill="#6d69ab"/>
<circle cx="326.75" cy="449.22" r="1.15" fill="#6d69ab"/>
<circle cx="324.35" cy="449.69" r="1.15" fill="#6d69ab"/>
<circle cx="329.15" cy="450.88" r="1.15" fill="#6d69ab"/>
<circle cx="326.75" cy="451.95" r="1.15" fill="#6d69ab"/>
<circle cx="329.15" cy="453.1" r="1.15" fill="#6d69ab"/>
<circle cx="326.75" cy="454.85" r="1.15" fill="#6d69ab"/>
<circle cx="326.75" cy="458.42" r="1.15" fill="#6d69ab"/>
<circle cx="329.15" cy="459.58" r="1.15" fill="#6d69ab"/>
<line x1="323.35" y1="451.96" x2="330.15" y2="451.96" stroke="#444" stroke-width="0.9"/>
<line x1="326.75" y1="450.55" x2="326.75" y2="453.38" stroke="#444" stroke-width="0.9"/>
<line x1="324.85" y1="450.55" x2="328.65" y2="450.55" stroke="#444" stroke-width="0.9"/>
<line x1="324.85" y1="453.38" x2="328.65" y2="453.38" stroke="#444" stroke-width="0.9"/>
<text transform="translate(330.25 525.05) rotate(-45)" x="0" y="0" font-size="6.5" text-anchor="end" fill="#1a1a1a">C03</text>
<line x1="337.25" y1="514.15" x2="337.25" y2="516.65" stroke="#2b2b2b" stroke-width="0.9"/>
<circle cx="337.25" cy="433.92" r="1.15" fill="#6d69ab"/>
<circle cx="337.25" cy="440.96" r="1.15" fill="#6d69ab"/>
<circle cx="339.65" cy="442.31" r="1.15" fill="#6d69ab"/>
<circle cx="337.25" cy="445.28" r="1.15" fill="#6d69ab"/>
<circle cx="337.25" cy="447.83" r="1.15" fill="#6d69ab"/>
<circle cx="334.85" cy="449.15" r="1.15" fill="#6d69ab"/>
<circle cx="337.25" cy="451.61" r="1.15" fill="#6d69ab"/>
<circle cx="334.85" cy="453.33" r="1.15" fill="#6d69ab"/>
<circle cx="337.25" cy="454.3" r="1.15" fill="#6d69ab"/>
<circle cx="337.25" cy="456.94" r="1.15" fill="#6d69ab"/>
<circle cx="337.25" cy="461.08" r="1.15" fill="#6d69ab"/>
<circle cx="337.25" cy="465.75" r="1.15" fill="#6d69ab"/>
<line x1="333.85" y1="450.21" x2="340.65" y2="450.21" stroke="#444" stroke-width="0.9"/>
<line x1="337.25" y1="447.74" x2="337.25" y2="452.67" stroke="#444" stroke-width="0.9"/>
<line x1="335.35" y1="447.74" x2="339.15" y2="447.74" stroke="#444" stroke-width="0.9"/>
<line x1="335.35" y1="452.67" x2="339.15" y2="452.67" stroke="#444" stroke-width="0.9"/>
<text transform="translate(340.75 525.05) rotate(-45)" x="0" y="0" font-size="6.5" text-anchor="end" fill="#1a1a1a">C12</text>
<line x1="347.75" y1="514.15" x2="347.75" y2="516.65" stroke="#2b2b2b" stroke-width="0.9"/>
<circle cx="347.75" cy="438.95" r="1.15" fill="#6d69ab"/>
<circle cx="347.75" cy="441.88" r="1.15" fill="#6d69ab"/>
<circle cx="345.35" cy="443.54" r="1.15" fill="#6d69ab"/>
<circle cx="347.75" cy="447.48" r="1.15" fill="#6d69ab"/>
<circle cx="345.35" cy="448.57" r="1.15" fill="#6d69ab"/>
<circle cx="347.75" cy="454.26" r="1.15" fill="#6d69ab"/>
<circle cx="347.75" cy="462.76" r="1.15" fill="#6d69ab"/>
<line x1="344.35" y1="448.2" x2="351.15" y2="448.2" stroke="#444" stroke-width="0.9"/>
<line x1="347.75" y1="445.36" x2="347.75" y2="451.05" stroke="#444" stroke-width="0.9"/>
<line x1="345.85" y1="445.36" x2="349.65" y2="445.36" stroke="#444" stroke-width="0.9"/>
<line x1="345.85" y1="451.05" x2="349.65" y2="451.05" stroke="#444" stroke-width="0.9"/>
<text transform="translate(351.25 525.05) rotate(-45)" x="0" y="0" font-size="6.5" text-anchor="end" fill="#1a1a1a">C01</text>
<line x1="358.25" y1="514.15" x2="358.25" y2="516.65" stroke="#2b2b2b" stroke-width="0.9"/>
<circle cx="358.25" cy="445.03" r="1.15" fill="#361549"/>
<circle cx="355.85" cy="445.6" r="1.15" fill="#361549"/>
<circle cx="358.25" cy="448.71" r="1.15" fill="#361549"/>
<line x1="354.85" y1="446.45" x2="361.65" y2="446.45" stroke="#444" stroke-width="0.9"/>
<line x1="358.25" y1="445.51" x2="358.25" y2="447.38" stroke="#444" stroke-width="0.9"/>
<line x1="356.35" y1="445.51" x2="360.15" y2="445.51" stroke="#444" stroke-width="0.9"/>
<line x1="356.35" y1="447.38" x2="360.15" y2="447.38" stroke="#444" stroke-width="0.9"/>
<text transform="translate(361.75 525.05) rotate(-45)" x="0" y="0" font-size="6.5" text-anchor="end" fill="#1a1a1a">C16:02</text>
<line x1="368.75" y1="514.15" x2="368.75" y2="516.65" stroke="#2b2b2b" stroke-width="0.9"/>
<circle cx="368.75" cy="423.89" r="1.15" fill="#6d69ab"/>
<circle cx="368.75" cy="429.13" r="1.15" fill="#6d69ab"/>
<circle cx="368.75" cy="431.87" r="1.15" fill="#6d69ab"/>
<circle cx="371.15" cy="432.85" r="1.15" fill="#6d69ab"/>
<circle cx="368.75" cy="434.64" r="1.15" fill="#6d69ab"/>
<circle cx="371.15" cy="435.82" r="1.15" fill="#6d69ab"/>
<circle cx="368.75" cy="437.51" r="1.15" fill="#6d69ab"/>
<circle cx="371.15" cy="438.25" r="1.15" fill="#6d69ab"/>
<circle cx="366.35" cy="439.18" r="1.15" fill="#6d69ab"/>
<circle cx="368.75" cy="439.67" r="1.15" fill="#6d69ab"/>
<circle cx="371.15" cy="440.54" r="1.15" fill="#6d69ab"/>
<circle cx="368.75" cy="441.6" r="1.15" fill="#6d69ab"/>
<circle cx="366.35" cy="441.97" r="1.15" fill="#6d69ab"/>
<circle cx="371.15" cy="443.09" r="1.15" fill="#6d69ab"/>
<circle cx="373.55" cy="443.39" r="1.15" fill="#6d69ab"/>
<circle cx="368.75" cy="444.32" r="1.15" fill="#6d69ab"/>
<circle cx="366.35" cy="444.9" r="1.15" fill="#6d69ab"/>
<circle cx="371.15" cy="445.93" r="1.15" fill="#6d69ab"/>
<circle cx="368.75" cy="446.46" r="1.15" fill="#6d69ab"/>
<circle cx="366.35" cy="447.3" r="1.15" fill="#6d69ab"/>
<circle cx="371.15" cy="448.02" r="1.15" fill="#6d69ab"/>
<circle cx="368.75" cy="448.7" r="1.15" fill="#6d69ab"/>
<circle cx="373.55" cy="449" r="1.15" fill="#6d69ab"/>
<circle cx="371.15" cy="449.95" r="1.15" fill="#6d69ab"/>
<circle cx="368.75" cy="450.68" r="1.15" fill="#6d69ab"/>
<circle cx="371.15" cy="451.75" r="1.15" fill="#6d69ab"/>
<circle cx="368.75" cy="452.68" r="1.15" fill="#6d69ab"/>
<circle cx="366.35" cy="453.43" r="1.15" fill="#6d69ab"/>
<circle cx="368.75" cy="454.66" r="1.15" fill="#6d69ab"/>
<circle cx="371.15" cy="455.66" r="1.15" fill="#6d69ab"/>
<circle cx="368.75" cy="456.7" r="1.15" fill="#6d69ab"/>
<circle cx="371.15" cy="457.79" r="1.15" fill="#6d69ab"/>
<circle cx="368.75" cy="459.68" r="1.15" fill="#6d69ab"/>
<circle cx="368.75" cy="463.2" r="1.15" fill="#6d69ab"/>
<circle cx="368.75" cy="465.24" r="1.15" fill="#6d69ab"/>
<line x1="365.35" y1="445.7" x2="372.15" y2="445.7" stroke="#444" stroke-width="0.9"/>
<line x1="368.75" y1="444.1" x2="368.75" y2="447.3" stroke="#444" stroke-width="0.9"/>
<line x1="366.85" y1="444.1" x2="370.65" y2="444.1" stroke="#444" stroke-width="0.9"/>
<line x1="366.85" y1="447.3" x2="370.65" y2="447.3" stroke="#444" stroke-width="0.9"/>
<text transform="translate(372.25 525.05) rotate(-45)" x="0" y="0" font-size="6.5" text-anchor="end" fill="#1a1a1a">C07</text>
<line x1="379.25" y1="514.15" x2="379.25" y2="516.65" stroke="#2b2b2b" stroke-width="0.9"/>
<circle cx="379.25" cy="429.41" r="1.15" fill="#6d69ab"/>
<circle cx="379.25" cy="433.2" r="1.15" fill="#6d69ab"/>
<circle cx="379.25" cy="438.16" r="1.15" fill="#6d69ab"/>
<circle cx="379.25" cy="440.86" r="1.15" fill="#6d69ab"/>
<circle cx="379.25" cy="446.08" r="1.15" fill="#6d69ab"/>
<circle cx="376.85" cy="447.53" r="1.15" fill="#6d69ab"/>
<circle cx="379.25" cy="453.02" r="1.15" fill="#6d69ab"/>
<circle cx="379.25" cy="463.26" r="1.15" fill="#6d69ab"/>
<line x1="375.85" y1="443.94" x2="382.65" y2="443.94" stroke="#444" stroke-width="0.9"/>
<line x1="379.25" y1="440.31" x2="379.25" y2="447.57" stroke="#444" stroke-width="0.9"/>
<line x1="377.35" y1="440.31" x2="381.15" y2="440.31" stroke="#444" stroke-width="0.9"/>
<line x1="377.35" y1="447.57" x2="381.15" y2="447.57" stroke="#444" stroke-width="0.9"/>
<text transform="translate(382.75 525.05) rotate(-45)" x="0" y="0" font-size="6.5" text-anchor="end" fill="#1a1a1a">C16:01</text>
<line x1="389.75" y1="514.15" x2="389.75" y2="516.65" stroke="#2b2b2b" stroke-width="0.9"/>
<circle cx="389.75" cy="436.44" r="1.15" fill="#6d69ab"/>
<circle cx="392.15" cy="436.78" r="1.15" fill="#6d69ab"/>
<circle cx="387.35" cy="437.55" r="1.15" fill="#6d69ab"/>
<circle cx="389.75" cy="439.54" r="1.15" fill="#6d69ab"/>
<circle cx="389.75" cy="444.53" r="1.15" fill="#6d69ab"/>
<line x1="386.35" y1="438.97" x2="393.15" y2="438.97" stroke="#444" stroke-width="0.9"/>
<line x1="389.75" y1="437.64" x2="389.75" y2="440.3" stroke="#444" stroke-width="0.9"/>
<line x1="387.85" y1="437.64" x2="391.65" y2="437.64" stroke="#444" stroke-width="0.9"/>
<line x1="387.85" y1="440.3" x2="391.65" y2="440.3" stroke="#444" stroke-width="0.9"/>
<text transform="translate(393.25 525.05) rotate(-45)" x="0" y="0" font-size="6.5" text-anchor="end" fill="#1a1a1a">C14</text>
<line x1="400.25" y1="514.15" x2="400.25" y2="516.65" stroke="#2b2b2b" stroke-width="0.9"/>
<circle cx="400.25" cy="420.11" r="1.15" fill="#6d69ab"/>
<circle cx="400.25" cy="426.19" r="1.15" fill="#6d69ab"/>
<circle cx="400.25" cy="430.05" r="1.15" fill="#6d69ab"/>
<circle cx="400.25" cy="432.99" r="1.15" fill="#6d69ab"/>
<circle cx="400.25" cy="435.11" r="1.15" fill="#6d69ab"/>
<circle cx="397.85" cy="436.42" r="1.15" fill="#6d69ab"/>
<circle cx="400.25" cy="438.27" r="1.15" fill="#6d69ab"/>
<circle cx="397.85" cy="439.91" r="1.15" fill="#6d69ab"/>
<circle cx="400.25" cy="441.28" r="1.15" fill="#6d69ab"/>
<circle cx="400.25" cy="443.14" r="1.15" fill="#6d69ab"/>
<circle cx="400.25" cy="445.83" r="1.15" fill="#6d69ab"/>
<circle cx="400.25" cy="448.07" r="1.15" fill="#6d69ab"/>
<circle cx="400.25" cy="452.96" r="1.15" fill="#6d69ab"/>
<circle cx="400.25" cy="455.24" r="1.15" fill="#6d69ab"/>
<line x1="396.85" y1="438.97" x2="403.65" y2="438.97" stroke="#444" stroke-width="0.9"/>
<line x1="400.25" y1="436.42" x2="400.25" y2="441.51" stroke="#444" stroke-width="0.9"/>
<line x1="398.35" y1="436.42" x2="402.15" y2="436.42" stroke="#444" stroke-width="0.9"/>
<line x1="398.35" y1="441.51" x2="402.15" y2="441.51" stroke="#444" stroke-width="0.9"/>
<text transform="translate(403.75 525.05) rotate(-45)" x="0" y="0" font-size="6.5" text-anchor="end" fill="#1a1a1a">C08</text>
<text x="242.3" y="526" font-size="6.4" text-anchor="middle" fill="#1a1a1a">HLA-C</text>
<text transform="translate(226.94 461.9) rotate(-90)" x="0" y="0" font-size="7.6" text-anchor="middle" fill="#333" stroke="none" font-weight="bold" textLength="35.8" lengthAdjust="spacingAndGlyphs">MFI HLA-ABC</text>
<circle cx="412.5" cy="413" r="1.0" fill="#6d69ab"/>
<text x="417" y="415.3" font-size="6.4" text-anchor="start" fill="#222">C1 epitope</text>
<circle cx="412.5" cy="423.25" r="1.0" fill="#361549"/>
<text x="417" y="425.55" font-size="6.4" text-anchor="start" fill="#222">C2 epitope</text>
<line x1="54.4" y1="561.5" x2="54.4" y2="653.85" stroke="#161616" stroke-width="1.15"/>
<line x1="53.9" y1="653.35" x2="142.5" y2="653.35" stroke="#161616" stroke-width="1.15"/>
<line x1="51.5" y1="653.35" x2="54.4" y2="653.35" stroke="#222" stroke-width="1.0"/>
<text x="48.1" y="655.65" font-size="6.4" text-anchor="end" fill="#1a1a1a">0</text>
<line x1="51.5" y1="635.58" x2="54.4" y2="635.58" stroke="#222" stroke-width="1.0"/>
<text x="48.1" y="637.88" font-size="6.4" text-anchor="end" fill="#1a1a1a">10000</text>
<line x1="51.5" y1="617.81" x2="54.4" y2="617.81" stroke="#222" stroke-width="1.0"/>
<text x="48.1" y="620.11" font-size="6.4" text-anchor="end" fill="#1a1a1a">20000</text>
<line x1="51.5" y1="600.04" x2="54.4" y2="600.04" stroke="#222" stroke-width="1.0"/>
<text x="48.1" y="602.34" font-size="6.4" text-anchor="end" fill="#1a1a1a">30000</text>
<line x1="51.5" y1="582.27" x2="54.4" y2="582.27" stroke="#222" stroke-width="1.0"/>
<text x="48.1" y="584.57" font-size="6.4" text-anchor="end" fill="#1a1a1a">40000</text>
<line x1="51.5" y1="564.5" x2="54.4" y2="564.5" stroke="#222" stroke-width="1.0"/>
<text x="48.1" y="566.8" font-size="6.4" text-anchor="end" fill="#1a1a1a">50000</text>
<line x1="71.8" y1="653.35" x2="71.8" y2="655.85" stroke="#2b2b2b" stroke-width="0.9"/>
<circle cx="71.7" cy="571.3" r="0.95" fill="#b8163c"/>
<circle cx="71.7" cy="574.3" r="0.95" fill="#b8163c"/>
<circle cx="69.9" cy="577.8" r="0.95" fill="#b8163c"/>
<circle cx="69.9" cy="580" r="0.95" fill="#b8163c"/>
<circle cx="73.8" cy="579.1" r="0.95" fill="#b8163c"/>
<circle cx="69.9" cy="583" r="0.95" fill="#b8163c"/>
<circle cx="69.9" cy="585" r="0.95" fill="#b8163c"/>
<circle cx="73.8" cy="583.6" r="0.95" fill="#b8163c"/>
<circle cx="71.7" cy="587.8" r="0.95" fill="#b8163c"/>
<circle cx="71.7" cy="589.6" r="0.95" fill="#b8163c"/>
<circle cx="71.7" cy="591.1" r="0.95" fill="#b8163c"/>
<circle cx="66.4" cy="592.6" r="0.95" fill="#b8163c"/>
<circle cx="66.4" cy="594.4" r="0.95" fill="#b8163c"/>
<circle cx="69.9" cy="593.3" r="0.95" fill="#b8163c"/>
<circle cx="73.8" cy="594.1" r="0.95" fill="#b8163c"/>
<circle cx="77.1" cy="592.6" r="0.95" fill="#b8163c"/>
<circle cx="77.1" cy="595.2" r="0.95" fill="#b8163c"/>
<circle cx="69.9" cy="595.9" r="0.95" fill="#b8163c"/>
<circle cx="69.9" cy="598.1" r="0.95" fill="#b8163c"/>
<circle cx="73.8" cy="597.4" r="0.95" fill="#b8163c"/>
<circle cx="77.1" cy="600.9" r="0.95" fill="#b8163c"/>
<circle cx="69.9" cy="602" r="0.95" fill="#b8163c"/>
<circle cx="73.8" cy="602.3" r="0.95" fill="#b8163c"/>
<circle cx="71.7" cy="604.4" r="0.95" fill="#b8163c"/>
<circle cx="71.7" cy="607.4" r="0.95" fill="#b8163c"/>
<circle cx="71.7" cy="610.3" r="0.95" fill="#b8163c"/>
<line x1="63.1" y1="591.5" x2="80.5" y2="591.5" stroke="#4a4a4a" stroke-width="0.9"/>
<line x1="71.8" y1="589.5" x2="71.8" y2="593.5" stroke="#4a4a4a" stroke-width="0.9"/>
<line x1="67.5" y1="589.5" x2="76.1" y2="589.5" stroke="#4a4a4a" stroke-width="0.9"/>
<line x1="67.5" y1="593.5" x2="76.1" y2="593.5" stroke="#4a4a4a" stroke-width="0.9"/>
<line x1="98.4" y1="653.35" x2="98.4" y2="655.85" stroke="#2b2b2b" stroke-width="0.9"/>
<circle cx="98.3" cy="575.3" r="0.95" fill="#b8163c"/>
<circle cx="98.3" cy="581.7" r="0.95" fill="#b8163c"/>
<circle cx="98.3" cy="585.5" r="0.95" fill="#b8163c"/>
<circle cx="98.3" cy="587.6" r="0.95" fill="#b8163c"/>
<circle cx="98.3" cy="589.6" r="0.95" fill="#b8163c"/>
<circle cx="95" cy="592.2" r="0.95" fill="#b8163c"/>
<circle cx="98.3" cy="592.5" r="0.95" fill="#b8163c"/>
<circle cx="102.1" cy="592.2" r="0.95" fill="#b8163c"/>
<circle cx="96.4" cy="594.7" r="0.95" fill="#b8163c"/>
<circle cx="100.1" cy="594.7" r="0.95" fill="#b8163c"/>
<circle cx="91.3" cy="598.4" r="0.95" fill="#b8163c"/>
<circle cx="105.3" cy="598.4" r="0.95" fill="#b8163c"/>
<circle cx="95" cy="598.4" r="0.95" fill="#b8163c"/>
<circle cx="95" cy="600.3" r="0.95" fill="#b8163c"/>
<circle cx="95" cy="602.1" r="0.95" fill="#b8163c"/>
<circle cx="95" cy="604.1" r="0.95" fill="#b8163c"/>
<circle cx="98.3" cy="598.4" r="0.95" fill="#b8163c"/>
<circle cx="98.3" cy="600.3" r="0.95" fill="#b8163c"/>
<circle cx="98.3" cy="601.9" r="0.95" fill="#b8163c"/>
<circle cx="102.1" cy="598.4" r="0.95" fill="#b8163c"/>
<circle cx="102.1" cy="600.3" r="0.95" fill="#b8163c"/>
<circle cx="102.1" cy="603.1" r="0.95" fill="#b8163c"/>
<circle cx="102.1" cy="605.1" r="0.95" fill="#b8163c"/>
<circle cx="98.3" cy="605.8" r="0.95" fill="#b8163c"/>
<circle cx="98.3" cy="609.5" r="0.95" fill="#b8163c"/>
<line x1="89.7" y1="596.2" x2="107.1" y2="596.2" stroke="#4a4a4a" stroke-width="0.9"/>
<line x1="98.4" y1="594.5" x2="98.4" y2="597.9" stroke="#4a4a4a" stroke-width="0.9"/>
<line x1="94.1" y1="594.5" x2="102.7" y2="594.5" stroke="#4a4a4a" stroke-width="0.9"/>
<line x1="94.1" y1="597.9" x2="102.7" y2="597.9" stroke="#4a4a4a" stroke-width="0.9"/>
<line x1="124.8" y1="653.35" x2="124.8" y2="655.85" stroke="#2b2b2b" stroke-width="0.9"/>
<circle cx="124.75" cy="573.8" r="0.95" fill="#b8163c"/>
<circle cx="124.75" cy="579.8" r="0.95" fill="#b8163c"/>
<circle cx="124.75" cy="582" r="0.95" fill="#b8163c"/>
<circle cx="123.4" cy="585.1" r="0.95" fill="#b8163c"/>
<circle cx="126.5" cy="586.4" r="0.95" fill="#b8163c"/>
<circle cx="124.75" cy="589.5" r="0.95" fill="#b8163c"/>
<circle cx="119" cy="592.4" r="0.95" fill="#b8163c"/>
<circle cx="121.6" cy="592.6" r="0.95" fill="#b8163c"/>
<circle cx="124.75" cy="592.5" r="0.95" fill="#b8163c"/>
<circle cx="127.4" cy="592.5" r="0.95" fill="#b8163c"/>
<circle cx="130.7" cy="592" r="0.95" fill="#b8163c"/>
<circle cx="117.2" cy="596.2" r="0.95" fill="#b8163c"/>
<circle cx="119.9" cy="596" r="0.95" fill="#b8163c"/>
<circle cx="122.5" cy="596.2" r="0.95" fill="#b8163c"/>
<circle cx="124.75" cy="596.6" r="0.95" fill="#b8163c"/>
<circle cx="127.4" cy="596.2" r="0.95" fill="#b8163c"/>
<circle cx="130.1" cy="596.2" r="0.95" fill="#b8163c"/>
<circle cx="117.2" cy="599" r="0.95" fill="#b8163c"/>
<circle cx="119.9" cy="598.8" r="0.95" fill="#b8163c"/>
<circle cx="122.5" cy="599.1" r="0.95" fill="#b8163c"/>
<circle cx="124.75" cy="599.3" r="0.95" fill="#b8163c"/>
<circle cx="127.4" cy="599.1" r="0.95" fill="#b8163c"/>
<circle cx="130.1" cy="599.3" r="0.95" fill="#b8163c"/>
<circle cx="132.7" cy="599.1" r="0.95" fill="#b8163c"/>
<circle cx="121.6" cy="601.2" r="0.95" fill="#b8163c"/>
<circle cx="124.75" cy="601.5" r="0.95" fill="#b8163c"/>
<circle cx="127.4" cy="601.5" r="0.95" fill="#b8163c"/>
<circle cx="123.4" cy="603.5" r="0.95" fill="#b8163c"/>
<circle cx="126.1" cy="603.5" r="0.95" fill="#b8163c"/>
<circle cx="120.8" cy="606.2" r="0.95" fill="#b8163c"/>
<circle cx="123.4" cy="606.2" r="0.95" fill="#b8163c"/>
<circle cx="126.1" cy="606" r="0.95" fill="#b8163c"/>
<circle cx="128.7" cy="606" r="0.95" fill="#b8163c"/>
<circle cx="119" cy="608.5" r="0.95" fill="#b8163c"/>
<circle cx="121.6" cy="608.5" r="0.95" fill="#b8163c"/>
<circle cx="124.3" cy="608.4" r="0.95" fill="#b8163c"/>
<circle cx="127" cy="608.4" r="0.95" fill="#b8163c"/>
<circle cx="129.6" cy="608.4" r="0.95" fill="#b8163c"/>
<circle cx="121.6" cy="610.4" r="0.95" fill="#b8163c"/>
<circle cx="124.75" cy="610.4" r="0.95" fill="#b8163c"/>
<circle cx="127.8" cy="610.8" r="0.95" fill="#b8163c"/>
<circle cx="123.4" cy="612.1" r="0.95" fill="#b8163c"/>
<circle cx="127" cy="612.1" r="0.95" fill="#b8163c"/>
<circle cx="123.4" cy="613.5" r="0.95" fill="#b8163c"/>
<circle cx="126.1" cy="614.6" r="0.95" fill="#b8163c"/>
<circle cx="124.75" cy="619.1" r="0.95" fill="#b8163c"/>
<line x1="116.1" y1="599.3" x2="133.5" y2="599.3" stroke="#4a4a4a" stroke-width="0.9"/>
<line x1="124.8" y1="597.8" x2="124.8" y2="600.8" stroke="#4a4a4a" stroke-width="0.9"/>
<line x1="120.5" y1="597.8" x2="129.1" y2="597.8" stroke="#4a4a4a" stroke-width="0.9"/>
<line x1="120.5" y1="600.8" x2="129.1" y2="600.8" stroke="#4a4a4a" stroke-width="0.9"/>
<text x="48.7" y="665.1" font-size="6.4" text-anchor="middle" fill="#1a1a1a">HLA-B</text>
<text x="71.8" y="665.1" font-size="6.4" text-anchor="middle" fill="#1a1a1a">M/M</text>
<text x="98.4" y="665.1" font-size="6.4" text-anchor="middle" fill="#1a1a1a">M/T</text>
<text x="124.8" y="665.1" font-size="6.4" text-anchor="middle" fill="#1a1a1a">T/T</text>
<text transform="translate(24.84 608.2) rotate(-90)" x="0" y="0" font-size="7.6" text-anchor="middle" fill="#333" stroke="none" font-weight="bold" textLength="36.3" lengthAdjust="spacingAndGlyphs">HLA-ABC MFI</text>
<line x1="71.5" y1="562.8" x2="125.3" y2="562.8" stroke="#333" stroke-width="1.1"/>
<text x="98.4" y="562.91" font-size="6.4" text-anchor="middle" fill="#2a2a2a">**</text>
<line x1="194.8" y1="561.5" x2="194.8" y2="653.85" stroke="#161616" stroke-width="1.15"/>
<line x1="194.3" y1="653.35" x2="283" y2="653.35" stroke="#161616" stroke-width="1.15"/>
<line x1="191.9" y1="653.35" x2="194.8" y2="653.35" stroke="#222" stroke-width="1.0"/>
<text x="188.5" y="655.65" font-size="6.4" text-anchor="end" fill="#1a1a1a">0</text>
<line x1="191.9" y1="635.58" x2="194.8" y2="635.58" stroke="#222" stroke-width="1.0"/>
<text x="188.5" y="637.88" font-size="6.4" text-anchor="end" fill="#1a1a1a">10000</text>
<line x1="191.9" y1="617.81" x2="194.8" y2="617.81" stroke="#222" stroke-width="1.0"/>
<text x="188.5" y="620.11" font-size="6.4" text-anchor="end" fill="#1a1a1a">20000</text>
<line x1="191.9" y1="600.04" x2="194.8" y2="600.04" stroke="#222" stroke-width="1.0"/>
<text x="188.5" y="602.34" font-size="6.4" text-anchor="end" fill="#1a1a1a">30000</text>
<line x1="191.9" y1="582.27" x2="194.8" y2="582.27" stroke="#222" stroke-width="1.0"/>
<text x="188.5" y="584.57" font-size="6.4" text-anchor="end" fill="#1a1a1a">40000</text>
<line x1="191.9" y1="564.5" x2="194.8" y2="564.5" stroke="#222" stroke-width="1.0"/>
<text x="188.5" y="566.8" font-size="6.4" text-anchor="end" fill="#1a1a1a">50000</text>
<line x1="212.3" y1="653.35" x2="212.3" y2="655.85" stroke="#2b2b2b" stroke-width="0.9"/>
<circle cx="212.3" cy="571.5" r="0.95" fill="#b8163c"/>
<circle cx="212.3" cy="574.3" r="0.95" fill="#b8163c"/>
<circle cx="212.3" cy="580.3" r="0.95" fill="#b8163c"/>
<circle cx="212.3" cy="582.6" r="0.95" fill="#b8163c"/>
<circle cx="212.3" cy="590.5" r="0.95" fill="#b8163c"/>
<circle cx="205.5" cy="592.5" r="0.95" fill="#b8163c"/>
<circle cx="208.8" cy="592.5" r="0.95" fill="#b8163c"/>
<circle cx="216" cy="592.5" r="0.95" fill="#b8163c"/>
<circle cx="219.8" cy="592.5" r="0.95" fill="#b8163c"/>
<circle cx="208.8" cy="594.4" r="0.95" fill="#b8163c"/>
<circle cx="212.3" cy="594.9" r="0.95" fill="#b8163c"/>
<circle cx="216" cy="595.3" r="0.95" fill="#b8163c"/>
<circle cx="208.8" cy="596.3" r="0.95" fill="#b8163c"/>
<circle cx="208.8" cy="598.2" r="0.95" fill="#b8163c"/>
<circle cx="208.8" cy="600" r="0.95" fill="#b8163c"/>
<circle cx="212.3" cy="596.7" r="0.95" fill="#b8163c"/>
<circle cx="212.3" cy="598.4" r="0.95" fill="#b8163c"/>
<circle cx="216" cy="597" r="0.95" fill="#b8163c"/>
<circle cx="216" cy="599" r="0.95" fill="#b8163c"/>
<circle cx="219.8" cy="598" r="0.95" fill="#b8163c"/>
<circle cx="219.8" cy="600.3" r="0.95" fill="#b8163c"/>
<circle cx="219.8" cy="603" r="0.95" fill="#b8163c"/>
<circle cx="205.5" cy="603" r="0.95" fill="#b8163c"/>
<circle cx="208.8" cy="601.9" r="0.95" fill="#b8163c"/>
<circle cx="212.3" cy="602.2" r="0.95" fill="#b8163c"/>
<circle cx="216" cy="602.2" r="0.95" fill="#b8163c"/>
<circle cx="208.8" cy="604" r="0.95" fill="#b8163c"/>
<circle cx="208.8" cy="605.7" r="0.95" fill="#b8163c"/>
<circle cx="208.8" cy="607.6" r="0.95" fill="#b8163c"/>
<circle cx="216" cy="606" r="0.95" fill="#b8163c"/>
<circle cx="216" cy="608" r="0.95" fill="#b8163c"/>
<circle cx="212.3" cy="608.4" r="0.95" fill="#b8163c"/>
<circle cx="210.6" cy="611" r="0.95" fill="#b8163c"/>
<circle cx="214.2" cy="611.8" r="0.95" fill="#b8163c"/>
<circle cx="212.3" cy="614.5" r="0.95" fill="#b8163c"/>
<circle cx="212.3" cy="600.3" r="0.95" fill="#b8163c"/>
<line x1="203.6" y1="597.6" x2="221" y2="597.6" stroke="#4a4a4a" stroke-width="0.9"/>
<line x1="212.3" y1="596" x2="212.3" y2="599.2" stroke="#4a4a4a" stroke-width="0.9"/>
<line x1="208" y1="596" x2="216.6" y2="596" stroke="#4a4a4a" stroke-width="0.9"/>
<line x1="208" y1="599.2" x2="216.6" y2="599.2" stroke="#4a4a4a" stroke-width="0.9"/>
<line x1="239.3" y1="653.35" x2="239.3" y2="655.85" stroke="#2b2b2b" stroke-width="0.9"/>
<circle cx="239.2" cy="579.2" r="0.95" fill="#b8163c"/>
<circle cx="242.8" cy="578" r="0.95" fill="#b8163c"/>
<circle cx="237.6" cy="583.6" r="0.95" fill="#b8163c"/>
<circle cx="241" cy="584.8" r="0.95" fill="#b8163c"/>
<circle cx="239.2" cy="588" r="0.95" fill="#b8163c"/>
<circle cx="235.8" cy="592.4" r="0.95" fill="#b8163c"/>
<circle cx="239.2" cy="593.8" r="0.95" fill="#b8163c"/>
<circle cx="242.8" cy="593.6" r="0.95" fill="#b8163c"/>
<circle cx="237.6" cy="596.4" r="0.95" fill="#b8163c"/>
<circle cx="241" cy="596" r="0.95" fill="#b8163c"/>
<circle cx="239.2" cy="598" r="0.95" fill="#b8163c"/>
<circle cx="239.2" cy="599.8" r="0.95" fill="#b8163c"/>
<circle cx="235.8" cy="601.2" r="0.95" fill="#b8163c"/>
<circle cx="239.2" cy="602" r="0.95" fill="#b8163c"/>
<circle cx="242.8" cy="602" r="0.95" fill="#b8163c"/>
<circle cx="237.6" cy="606.8" r="0.95" fill="#b8163c"/>
<circle cx="241" cy="606.8" r="0.95" fill="#b8163c"/>
<circle cx="235.8" cy="610.4" r="0.95" fill="#b8163c"/>
<circle cx="239.2" cy="610" r="0.95" fill="#b8163c"/>
<circle cx="242.8" cy="609" r="0.95" fill="#b8163c"/>
<circle cx="242.8" cy="611.4" r="0.95" fill="#b8163c"/>
<circle cx="239.2" cy="613.6" r="0.95" fill="#b8163c"/>
<circle cx="239.2" cy="618.8" r="0.95" fill="#b8163c"/>
<line x1="230.6" y1="599" x2="248" y2="599" stroke="#4a4a4a" stroke-width="0.9"/>
<line x1="239.3" y1="596.6" x2="239.3" y2="601.4" stroke="#4a4a4a" stroke-width="0.9"/>
<line x1="235" y1="596.6" x2="243.6" y2="596.6" stroke="#4a4a4a" stroke-width="0.9"/>
<line x1="235" y1="601.4" x2="243.6" y2="601.4" stroke="#4a4a4a" stroke-width="0.9"/>
<line x1="266.2" y1="653.35" x2="266.2" y2="655.85" stroke="#2b2b2b" stroke-width="0.9"/>
<circle cx="265.8" cy="575.1" r="0.95" fill="#b8163c"/>
<circle cx="265.8" cy="579.8" r="0.95" fill="#b8163c"/>
<circle cx="264.7" cy="582.1" r="0.95" fill="#b8163c"/>
<circle cx="267.3" cy="581.7" r="0.95" fill="#b8163c"/>
<circle cx="264.7" cy="585.3" r="0.95" fill="#b8163c"/>
<circle cx="267.3" cy="585" r="0.95" fill="#b8163c"/>
<circle cx="269.6" cy="586.3" r="0.95" fill="#b8163c"/>
<circle cx="264.7" cy="589.2" r="0.95" fill="#b8163c"/>
<circle cx="267.3" cy="588.9" r="0.95" fill="#b8163c"/>
<circle cx="267.3" cy="591.3" r="0.95" fill="#b8163c"/>
<circle cx="271.5" cy="591.8" r="0.95" fill="#b8163c"/>
<circle cx="269.6" cy="592.9" r="0.95" fill="#b8163c"/>
<circle cx="260.1" cy="592.8" r="0.95" fill="#b8163c"/>
<circle cx="262.4" cy="592.8" r="0.95" fill="#b8163c"/>
<circle cx="264.7" cy="593" r="0.95" fill="#b8163c"/>
<circle cx="257.9" cy="595.6" r="0.95" fill="#b8163c"/>
<circle cx="260.1" cy="595.6" r="0.95" fill="#b8163c"/>
<circle cx="262.4" cy="595.6" r="0.95" fill="#b8163c"/>
<circle cx="264.7" cy="595.6" r="0.95" fill="#b8163c"/>
<circle cx="267.3" cy="595.4" r="0.95" fill="#b8163c"/>
<circle cx="269.6" cy="595.4" r="0.95" fill="#b8163c"/>
<circle cx="271.9" cy="595.4" r="0.95" fill="#b8163c"/>
<circle cx="274.2" cy="595.6" r="0.95" fill="#b8163c"/>
<circle cx="257.9" cy="598.3" r="0.95" fill="#b8163c"/>
<circle cx="260.1" cy="598.6" r="0.95" fill="#b8163c"/>
<circle cx="262.4" cy="599.2" r="0.95" fill="#b8163c"/>
<circle cx="264.7" cy="599.6" r="0.95" fill="#b8163c"/>
<circle cx="267.3" cy="599.8" r="0.95" fill="#b8163c"/>
<circle cx="269.6" cy="599.3" r="0.95" fill="#b8163c"/>
<circle cx="271.9" cy="598.3" r="0.95" fill="#b8163c"/>
<circle cx="274.2" cy="598.6" r="0.95" fill="#b8163c"/>
<circle cx="264.7" cy="601.3" r="0.95" fill="#b8163c"/>
<circle cx="267.3" cy="602.9" r="0.95" fill="#b8163c"/>
<circle cx="262.4" cy="605.3" r="0.95" fill="#b8163c"/>
<circle cx="264.7" cy="605.5" r="0.95" fill="#b8163c"/>
<circle cx="267.3" cy="605.3" r="0.95" fill="#b8163c"/>
<circle cx="269.6" cy="605.5" r="0.95" fill="#b8163c"/>
<circle cx="263.7" cy="609.1" r="0.95" fill="#b8163c"/>
<circle cx="266" cy="608.8" r="0.95" fill="#b8163c"/>
<circle cx="268.6" cy="609.1" r="0.95" fill="#b8163c"/>
<line x1="257.5" y1="595.7" x2="274.9" y2="595.7" stroke="#4a4a4a" stroke-width="0.9"/>
<line x1="266.2" y1="594.4" x2="266.2" y2="597" stroke="#4a4a4a" stroke-width="0.9"/>
<line x1="261.9" y1="594.4" x2="270.5" y2="594.4" stroke="#4a4a4a" stroke-width="0.9"/>
<line x1="261.9" y1="597" x2="270.5" y2="597" stroke="#4a4a4a" stroke-width="0.9"/>
<text x="189.6" y="665.1" font-size="6.4" text-anchor="middle" fill="#1a1a1a">HLA-E</text>
<text x="212.3" y="665.1" font-size="6.4" text-anchor="middle" fill="#1a1a1a">01:01/</text>
<text x="212.3" y="673.2" font-size="6.4" text-anchor="middle" fill="#1a1a1a">01:01</text>
<text x="239.3" y="665.1" font-size="6.4" text-anchor="middle" fill="#1a1a1a">01:01/</text>
<text x="239.3" y="673.2" font-size="6.4" text-anchor="middle" fill="#1a1a1a">01:03</text>
<text x="266.2" y="665.1" font-size="6.4" text-anchor="middle" fill="#1a1a1a">01:03/</text>
<text x="266.2" y="673.2" font-size="6.4" text-anchor="middle" fill="#1a1a1a">01:03</text>
<text transform="translate(164.84 608.2) rotate(-90)" x="0" y="0" font-size="7.6" text-anchor="middle" fill="#333" stroke="none" font-weight="bold" textLength="36.3" lengthAdjust="spacingAndGlyphs">HLA-ABC MFI</text>
<line x1="336" y1="561.5" x2="336" y2="653.85" stroke="#161616" stroke-width="1.15"/>
<line x1="335.5" y1="653.35" x2="423.75" y2="653.35" stroke="#161616" stroke-width="1.15"/>
<line x1="333.1" y1="653.35" x2="336" y2="653.35" stroke="#222" stroke-width="1.0"/>
<text x="329.7" y="655.65" font-size="6.4" text-anchor="end" fill="#1a1a1a">0</text>
<line x1="333.1" y1="635.58" x2="336" y2="635.58" stroke="#222" stroke-width="1.0"/>
<text x="329.7" y="637.88" font-size="6.4" text-anchor="end" fill="#1a1a1a">10000</text>
<line x1="333.1" y1="617.81" x2="336" y2="617.81" stroke="#222" stroke-width="1.0"/>
<text x="329.7" y="620.11" font-size="6.4" text-anchor="end" fill="#1a1a1a">20000</text>
<line x1="333.1" y1="600.04" x2="336" y2="600.04" stroke="#222" stroke-width="1.0"/>
<text x="329.7" y="602.34" font-size="6.4" text-anchor="end" fill="#1a1a1a">30000</text>
<line x1="333.1" y1="582.27" x2="336" y2="582.27" stroke="#222" stroke-width="1.0"/>
<text x="329.7" y="584.57" font-size="6.4" text-anchor="end" fill="#1a1a1a">40000</text>
<line x1="333.1" y1="564.5" x2="336" y2="564.5" stroke="#222" stroke-width="1.0"/>
<text x="329.7" y="566.8" font-size="6.4" text-anchor="end" fill="#1a1a1a">50000</text>
<line x1="353.3" y1="653.35" x2="353.3" y2="655.85" stroke="#2b2b2b" stroke-width="0.9"/>
<circle cx="353.4" cy="574.6" r="0.95" fill="#b8163c"/>
<circle cx="353.4" cy="578.3" r="0.95" fill="#b8163c"/>
<circle cx="350" cy="579.8" r="0.95" fill="#b8163c"/>
<circle cx="350" cy="581.7" r="0.95" fill="#b8163c"/>
<circle cx="353.4" cy="580.6" r="0.95" fill="#b8163c"/>
<circle cx="353.4" cy="583.5" r="0.95" fill="#b8163c"/>
<circle cx="357.1" cy="579.4" r="0.95" fill="#b8163c"/>
<circle cx="357.1" cy="583.1" r="0.95" fill="#b8163c"/>
<circle cx="357.1" cy="586.5" r="0.95" fill="#b8163c"/>
<circle cx="350" cy="585.4" r="0.95" fill="#b8163c"/>
<circle cx="350" cy="588.1" r="0.95" fill="#b8163c"/>
<circle cx="353.4" cy="587.6" r="0.95" fill="#b8163c"/>
<circle cx="353.4" cy="589.8" r="0.95" fill="#b8163c"/>
<circle cx="350" cy="591.5" r="0.95" fill="#b8163c"/>
<circle cx="357.1" cy="591.5" r="0.95" fill="#b8163c"/>
<circle cx="353.4" cy="593.1" r="0.95" fill="#b8163c"/>
<circle cx="346.5" cy="594.6" r="0.95" fill="#b8163c"/>
<circle cx="346.5" cy="597.2" r="0.95" fill="#b8163c"/>
<circle cx="350" cy="593.5" r="0.95" fill="#b8163c"/>
<circle cx="350" cy="596.4" r="0.95" fill="#b8163c"/>
<circle cx="350" cy="598.3" r="0.95" fill="#b8163c"/>
<circle cx="353.4" cy="596.8" r="0.95" fill="#b8163c"/>
<circle cx="357.1" cy="596.1" r="0.95" fill="#b8163c"/>
<circle cx="357.1" cy="599" r="0.95" fill="#b8163c"/>
<circle cx="360.7" cy="595.3" r="0.95" fill="#b8163c"/>
<circle cx="360.7" cy="597.5" r="0.95" fill="#b8163c"/>
<circle cx="350" cy="603.1" r="0.95" fill="#b8163c"/>
<circle cx="353.4" cy="602.3" r="0.95" fill="#b8163c"/>
<circle cx="357.1" cy="602.3" r="0.95" fill="#b8163c"/>
<circle cx="357.1" cy="604.9" r="0.95" fill="#b8163c"/>
<circle cx="353.4" cy="605.7" r="0.95" fill="#b8163c"/>
<circle cx="353.4" cy="607.5" r="0.95" fill="#b8163c"/>
<circle cx="353.4" cy="610.5" r="0.95" fill="#b8163c"/>
<line x1="344.6" y1="592.7" x2="362" y2="592.7" stroke="#4a4a4a" stroke-width="0.9"/>
<line x1="353.3" y1="590.8" x2="353.3" y2="594.6" stroke="#4a4a4a" stroke-width="0.9"/>
<line x1="349" y1="590.8" x2="357.6" y2="590.8" stroke="#4a4a4a" stroke-width="0.9"/>
<line x1="349" y1="594.6" x2="357.6" y2="594.6" stroke="#4a4a4a" stroke-width="0.9"/>
<line x1="380" y1="653.35" x2="380" y2="655.85" stroke="#2b2b2b" stroke-width="0.9"/>
<circle cx="380" cy="571.9" r="0.95" fill="#b8163c"/>
<circle cx="380" cy="575.6" r="0.95" fill="#b8163c"/>
<circle cx="380" cy="582.4" r="0.95" fill="#b8163c"/>
<circle cx="378.6" cy="585.6" r="0.95" fill="#b8163c"/>
<circle cx="381.7" cy="585.4" r="0.95" fill="#b8163c"/>
<circle cx="380" cy="589.5" r="0.95" fill="#b8163c"/>
<circle cx="377.4" cy="590.7" r="0.95" fill="#b8163c"/>
<circle cx="380" cy="592" r="0.95" fill="#b8163c"/>
<circle cx="374.9" cy="593.5" r="0.95" fill="#b8163c"/>
<circle cx="377.4" cy="593.3" r="0.95" fill="#b8163c"/>
<circle cx="383.1" cy="593.2" r="0.95" fill="#b8163c"/>
<circle cx="385.6" cy="593.4" r="0.95" fill="#b8163c"/>
<circle cx="374.9" cy="596" r="0.95" fill="#b8163c"/>
<circle cx="377.4" cy="596" r="0.95" fill="#b8163c"/>
<circle cx="380" cy="596.2" r="0.95" fill="#b8163c"/>
<circle cx="383.1" cy="596" r="0.95" fill="#b8163c"/>
<circle cx="371.9" cy="598.5" r="0.95" fill="#b8163c"/>
<circle cx="374.9" cy="598.6" r="0.95" fill="#b8163c"/>
<circle cx="377.4" cy="598.6" r="0.95" fill="#b8163c"/>
<circle cx="380" cy="598.6" r="0.95" fill="#b8163c"/>
<circle cx="383.1" cy="598.6" r="0.95" fill="#b8163c"/>
<circle cx="385.6" cy="599.2" r="0.95" fill="#b8163c"/>
<circle cx="388.2" cy="598.2" r="0.95" fill="#b8163c"/>
<circle cx="374.9" cy="600.1" r="0.95" fill="#b8163c"/>
<circle cx="377.4" cy="600.7" r="0.95" fill="#b8163c"/>
<circle cx="380" cy="600.1" r="0.95" fill="#b8163c"/>
<circle cx="383.1" cy="601.3" r="0.95" fill="#b8163c"/>
<circle cx="377.4" cy="604.8" r="0.95" fill="#b8163c"/>
<circle cx="380" cy="605.7" r="0.95" fill="#b8163c"/>
<circle cx="383.1" cy="605.3" r="0.95" fill="#b8163c"/>
<circle cx="377.4" cy="609.6" r="0.95" fill="#b8163c"/>
<circle cx="380" cy="608.5" r="0.95" fill="#b8163c"/>
<circle cx="383.1" cy="608.7" r="0.95" fill="#b8163c"/>
<line x1="371.3" y1="595.9" x2="388.7" y2="595.9" stroke="#4a4a4a" stroke-width="0.9"/>
<line x1="380" y1="594.3" x2="380" y2="597.5" stroke="#4a4a4a" stroke-width="0.9"/>
<line x1="375.7" y1="594.3" x2="384.3" y2="594.3" stroke="#4a4a4a" stroke-width="0.9"/>
<line x1="375.7" y1="597.5" x2="384.3" y2="597.5" stroke="#4a4a4a" stroke-width="0.9"/>
<line x1="406.8" y1="653.35" x2="406.8" y2="655.85" stroke="#2b2b2b" stroke-width="0.9"/>
<circle cx="399.6" cy="592.7" r="0.95" fill="#b8163c"/>
<circle cx="403.1" cy="592.6" r="0.95" fill="#b8163c"/>
<circle cx="406.8" cy="592.5" r="0.95" fill="#b8163c"/>
<circle cx="410.1" cy="593.9" r="0.95" fill="#b8163c"/>
<circle cx="413.8" cy="592.5" r="0.95" fill="#b8163c"/>
<circle cx="406.8" cy="595.6" r="0.95" fill="#b8163c"/>
<circle cx="413.8" cy="596.1" r="0.95" fill="#b8163c"/>
<circle cx="399.6" cy="598.4" r="0.95" fill="#b8163c"/>
<circle cx="399.6" cy="600" r="0.95" fill="#b8163c"/>
<circle cx="403.1" cy="599.5" r="0.95" fill="#b8163c"/>
<circle cx="406.8" cy="599.2" r="0.95" fill="#b8163c"/>
<circle cx="413.8" cy="598.1" r="0.95" fill="#b8163c"/>
<circle cx="413.8" cy="599.8" r="0.95" fill="#b8163c"/>
<circle cx="399.6" cy="602.8" r="0.95" fill="#b8163c"/>
<circle cx="403.1" cy="602.7" r="0.95" fill="#b8163c"/>
<circle cx="406.8" cy="603" r="0.95" fill="#b8163c"/>
<circle cx="410.1" cy="602.7" r="0.95" fill="#b8163c"/>
<circle cx="413.8" cy="602.8" r="0.95" fill="#b8163c"/>
<circle cx="406.8" cy="604.5" r="0.95" fill="#b8163c"/>
<circle cx="403.1" cy="606.5" r="0.95" fill="#b8163c"/>
<circle cx="403.1" cy="607.9" r="0.95" fill="#b8163c"/>
<circle cx="403.1" cy="609.6" r="0.95" fill="#b8163c"/>
<circle cx="403.1" cy="611.3" r="0.95" fill="#b8163c"/>
<circle cx="406.8" cy="606.8" r="0.95" fill="#b8163c"/>
<circle cx="406.8" cy="608.2" r="0.95" fill="#b8163c"/>
<circle cx="406.8" cy="609.9" r="0.95" fill="#b8163c"/>
<circle cx="406.8" cy="611.6" r="0.95" fill="#b8163c"/>
<circle cx="410.1" cy="606.2" r="0.95" fill="#b8163c"/>
<circle cx="410.1" cy="608.2" r="0.95" fill="#b8163c"/>
<circle cx="410.1" cy="610.7" r="0.95" fill="#b8163c"/>
<circle cx="410.1" cy="613.5" r="0.95" fill="#b8163c"/>
<circle cx="413.8" cy="610.2" r="0.95" fill="#b8163c"/>
<circle cx="406.8" cy="614.7" r="0.95" fill="#b8163c"/>
<circle cx="406.8" cy="618.6" r="0.95" fill="#b8163c"/>
<circle cx="406.8" cy="601" r="0.95" fill="#b8163c"/>
<circle cx="410.1" cy="600.5" r="0.95" fill="#b8163c"/>
<circle cx="403.1" cy="596.5" r="0.95" fill="#b8163c"/>
<line x1="398.1" y1="603.1" x2="415.5" y2="603.1" stroke="#4a4a4a" stroke-width="0.9"/>
<line x1="406.8" y1="601.8" x2="406.8" y2="604.4" stroke="#4a4a4a" stroke-width="0.9"/>
<line x1="402.5" y1="601.8" x2="411.1" y2="601.8" stroke="#4a4a4a" stroke-width="0.9"/>
<line x1="402.5" y1="604.4" x2="411.1" y2="604.4" stroke="#4a4a4a" stroke-width="0.9"/>
<text x="330.5" y="665.1" font-size="6.4" text-anchor="middle" fill="#1a1a1a">HLA-C</text>
<text x="353.3" y="665.1" font-size="6.4" text-anchor="middle" fill="#1a1a1a">C1/C1</text>
<text x="380" y="665.1" font-size="6.4" text-anchor="middle" fill="#1a1a1a">C1/C2</text>
<text x="406.8" y="665.1" font-size="6.4" text-anchor="middle" fill="#1a1a1a">C2/C2</text>
<text transform="translate(306.14 608.3) rotate(-90)" x="0" y="0" font-size="7.6" text-anchor="middle" fill="#333" stroke="none" font-weight="bold" textLength="36.3" lengthAdjust="spacingAndGlyphs">HLA-ABC MFI</text>
<line x1="353.1" y1="560.5" x2="407.6" y2="560.5" stroke="#4a4a4a" stroke-width="1.1"/>
<text x="380.35" y="560.61" font-size="6.4" text-anchor="middle" fill="#2a2a2a">****</text>
<line x1="380.7" y1="568.4" x2="407.6" y2="568.4" stroke="#333" stroke-width="1.1"/>
<text x="394.15" y="568.51" font-size="6.4" text-anchor="middle" fill="#2a2a2a">***</text>
</svg></body></html>
